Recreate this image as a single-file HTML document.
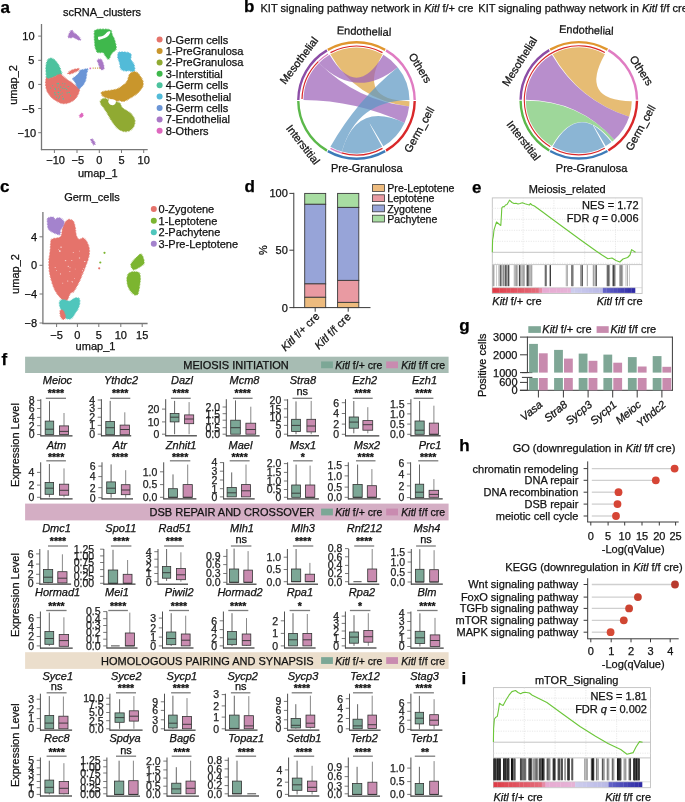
<!DOCTYPE html>
<html><head><meta charset="utf-8"><style>
html,body{margin:0;padding:0;background:#fff;}
svg{display:block;font-family:"Liberation Sans", sans-serif;will-change:transform;} text{stroke:currentColor;stroke-width:0.25px;}
</style></head><body>
<svg width="685" height="802" viewBox="0 0 685 802">
<rect width="685" height="802" fill="#fff"/>
<text x="0.5" y="12.6" font-size="17" text-anchor="start" fill="#000" font-weight="bold">a</text>
<text x="102.0" y="15.5" font-size="11" text-anchor="middle" fill="#1a1a1a">scRNA_clusters</text>
<line x1="41.5" y1="24.0" x2="41.5" y2="150.2" stroke="#777" stroke-width="1.3"/>
<line x1="40.9" y1="149.6" x2="147.7" y2="149.6" stroke="#777" stroke-width="1.3"/>
<line x1="38.2" y1="36.1" x2="41.5" y2="36.1" stroke="#777" stroke-width="1.0"/>
<text x="34.6" y="40.2" font-size="11" text-anchor="end" fill="#1a1a1a">10</text>
<line x1="38.2" y1="60.3" x2="41.5" y2="60.3" stroke="#777" stroke-width="1.0"/>
<text x="34.3" y="64.4" font-size="11" text-anchor="end" fill="#1a1a1a">5</text>
<line x1="38.2" y1="84.4" x2="41.5" y2="84.4" stroke="#777" stroke-width="1.0"/>
<text x="34.3" y="88.5" font-size="11" text-anchor="end" fill="#1a1a1a">0</text>
<line x1="38.2" y1="132.7" x2="41.5" y2="132.7" stroke="#777" stroke-width="1.0"/>
<text x="36.2" y="136.8" font-size="11" text-anchor="end" fill="#1a1a1a">−10</text>
<line x1="38.2" y1="108.5" x2="41.5" y2="108.5" stroke="#777" stroke-width="1.0"/>
<text x="34.5" y="112.6" font-size="11" text-anchor="end" fill="#1a1a1a">−5</text>
<line x1="54.4" y1="149.6" x2="54.4" y2="153.0" stroke="#777" stroke-width="1.0"/>
<text x="55.6" y="164.3" font-size="11" text-anchor="middle" fill="#1a1a1a">−10</text>
<line x1="77.0" y1="149.6" x2="77.0" y2="153.0" stroke="#777" stroke-width="1.0"/>
<text x="77.8" y="164.3" font-size="11" text-anchor="middle" fill="#1a1a1a">−5</text>
<line x1="99.3" y1="149.6" x2="99.3" y2="153.0" stroke="#777" stroke-width="1.0"/>
<text x="99.3" y="164.3" font-size="11" text-anchor="middle" fill="#1a1a1a">0</text>
<line x1="121.5" y1="149.6" x2="121.5" y2="153.0" stroke="#777" stroke-width="1.0"/>
<text x="121.5" y="164.3" font-size="11" text-anchor="middle" fill="#1a1a1a">5</text>
<line x1="143.7" y1="149.6" x2="143.7" y2="153.0" stroke="#777" stroke-width="1.0"/>
<text x="143.7" y="164.3" font-size="11" text-anchor="middle" fill="#1a1a1a">10</text>
<text x="97.8" y="176.9" font-size="11" text-anchor="middle" fill="#1a1a1a">umap_1</text>
<text x="17.2" y="85.0" font-size="11" text-anchor="middle" fill="#1a1a1a" transform="rotate(-90 17.2 85.0)">umap_2</text>
<path d="M46.6,62.9 C46.9,61.6 47.3,60.6 47.9,59.8 C48.5,59.1 49.3,58.5 50.1,58.3 C50.8,58.1 51.5,58.2 52.3,58.5 C53.1,58.8 54.0,59.5 54.9,60.3 C55.8,61.1 56.7,62.2 57.5,63.3 C58.3,64.5 59.1,65.9 59.7,67.3 C60.3,68.6 60.7,70.6 61.0,71.6 C61.4,72.7 62.0,72.9 61.9,73.4 C61.7,73.9 60.9,74.3 60.1,74.7 C59.4,75.1 58.5,75.2 57.5,75.6 C56.5,75.9 55.2,76.5 54.0,76.9 C52.8,77.3 51.5,77.8 50.5,78.2 C49.5,78.6 48.5,79.2 47.9,79.1 C47.2,79.0 46.9,78.9 46.6,77.8 C46.3,76.7 46.2,74.3 46.1,72.5 C46.0,70.8 45.9,68.9 46.0,67.3 C46.0,65.7 46.2,64.1 46.6,62.9Z" fill="#4CC29E" stroke="#4CC29E" stroke-width="1.4" stroke-dasharray="0.6 0.9" stroke-linecap="butt"/>
<path d="M46.1,78.2 C46.6,77.2 47.4,78.9 48.8,78.6 C50.1,78.4 52.1,77.6 54.0,76.9 C55.9,76.2 58.7,74.4 60.1,74.3 C61.6,74.1 61.7,75.2 62.8,76.0 C63.8,76.8 65.1,78.2 66.3,79.1 C67.4,80.0 68.6,80.5 69.8,81.3 C70.9,82.1 72.1,83.0 73.3,83.9 C74.4,84.8 75.8,85.7 76.8,86.5 C77.8,87.3 79.1,87.5 79.4,88.7 C79.7,89.9 79.1,92.0 78.5,93.5 C77.9,95.1 76.9,96.7 75.9,97.9 C74.9,99.1 73.6,100.2 72.4,101.0 C71.2,101.8 70.1,102.3 68.9,102.7 C67.7,103.2 66.7,103.5 65.4,103.6 C64.1,103.7 62.5,103.6 61.0,103.2 C59.6,102.7 58.1,101.8 56.6,101.0 C55.2,100.1 53.6,99.1 52.3,97.9 C50.9,96.7 49.7,95.3 48.8,94.0 C47.8,92.7 47.1,91.6 46.6,90.0 C46.1,88.5 45.8,86.7 45.7,84.8 C45.6,82.8 45.6,79.2 46.1,78.2Z" fill="#E5736B" stroke="#E5736B" stroke-width="1.4" stroke-dasharray="0.6 0.9" stroke-linecap="butt"/>
<path d="M72.8,78.6 C73.1,77.8 75.0,76.9 75.9,76.0 C76.9,75.1 77.8,74.3 78.5,73.4 C79.3,72.4 79.4,71.0 80.3,70.3 C81.2,69.7 82.5,69.7 83.8,69.4 C85.0,69.2 87.2,68.5 87.7,69.0 C88.2,69.5 87.1,71.3 86.8,72.5 C86.6,73.7 86.6,74.7 86.4,76.0 C86.2,77.3 86.0,79.1 85.5,80.4 C85.1,81.7 84.5,82.8 83.8,83.9 C83.1,85.0 81.9,86.2 81.2,87.0 C80.4,87.8 80.0,88.6 79.4,88.7 C78.8,88.8 78.2,88.2 77.7,87.4 C77.1,86.6 76.4,84.9 75.9,83.9 C75.4,82.9 75.1,82.1 74.6,81.3 C74.1,80.4 72.6,79.5 72.8,78.6Z" fill="#6B95D6" stroke="#6B95D6" stroke-width="1.4" stroke-dasharray="0.6 0.9" stroke-linecap="butt"/>
<path d="M68.0,73.4 C68.2,72.9 69.0,71.8 69.8,71.2 C70.5,70.6 71.4,70.3 72.4,69.9 C73.4,69.5 74.8,69.2 75.9,69.0 C77.0,68.8 78.5,68.4 79.0,68.6 C79.4,68.8 79.0,69.8 78.5,70.3 C78.0,70.8 76.6,71.3 75.9,71.6 C75.2,72.0 74.9,72.2 74.2,72.5 C73.4,72.8 72.4,73.1 71.5,73.4 C70.6,73.7 69.5,74.1 68.9,74.1 C68.3,74.1 67.9,73.9 68.0,73.4Z" fill="#E5736B" stroke="#E5736B" stroke-width="1.4" stroke-dasharray="0.6 0.9" stroke-linecap="butt"/>
<rect x="56.4" y="83.4" width="1.3" height="0.7" fill="#4CC29E"/>
<rect x="62.2" y="87.8" width="0.7" height="1.0" fill="#4CC29E"/>
<rect x="59.2" y="97.0" width="0.7" height="0.8" fill="#4CC29E"/>
<rect x="63.4" y="88.4" width="1.6" height="0.6" fill="#4CC29E"/>
<rect x="56.0" y="96.8" width="0.8" height="1.1" fill="#4CC29E"/>
<rect x="65.1" y="87.9" width="1.1" height="0.7" fill="#4CC29E"/>
<rect x="66.2" y="89.0" width="0.9" height="1.1" fill="#4CC29E"/>
<rect x="59.9" y="86.4" width="1.4" height="1.2" fill="#4CC29E"/>
<rect x="54.2" y="92.0" width="1.1" height="1.3" fill="#4CC29E"/>
<rect x="67.6" y="86.2" width="1.6" height="0.7" fill="#4CC29E"/>
<rect x="59.0" y="95.6" width="0.8" height="1.0" fill="#4CC29E"/>
<rect x="68.5" y="91.9" width="1.5" height="0.9" fill="#4CC29E"/>
<rect x="66.6" y="92.4" width="1.2" height="1.0" fill="#4CC29E"/>
<rect x="60.5" y="93.8" width="0.7" height="1.2" fill="#4CC29E"/>
<rect x="58.1" y="93.9" width="0.6" height="1.0" fill="#4CC29E"/>
<rect x="58.2" y="97.9" width="0.7" height="1.0" fill="#4CC29E"/>
<rect x="62.6" y="98.2" width="1.4" height="1.3" fill="#4CC29E"/>
<rect x="55.1" y="88.8" width="1.0" height="1.3" fill="#4CC29E"/>
<rect x="52.3" y="85.1" width="0.8" height="1.0" fill="#4CC29E"/>
<rect x="63.7" y="85.7" width="0.6" height="0.9" fill="#4CC29E"/>
<rect x="57.6" y="91.8" width="1.6" height="1.2" fill="#4CC29E"/>
<rect x="61.7" y="92.8" width="1.3" height="0.6" fill="#4CC29E"/>
<rect x="58.3" y="88.4" width="0.7" height="1.1" fill="#4CC29E"/>
<rect x="50.2" y="87.7" width="0.6" height="1.3" fill="#4CC29E"/>
<rect x="64.4" y="83.4" width="0.9" height="0.9" fill="#4CC29E"/>
<rect x="57.5" y="82.9" width="1.4" height="1.4" fill="#4CC29E"/>
<rect x="60.3" y="90.1" width="0.7" height="0.7" fill="#4CC29E"/>
<rect x="56.9" y="85.7" width="1.4" height="0.7" fill="#4CC29E"/>
<rect x="62.0" y="83.3" width="1.1" height="0.6" fill="#4CC29E"/>
<rect x="54.6" y="87.8" width="0.8" height="1.2" fill="#4CC29E"/>
<rect x="62.1" y="96.1" width="0.9" height="0.8" fill="#4CC29E"/>
<rect x="70.0" y="95.3" width="0.8" height="1.0" fill="#4CC29E"/>
<rect x="54.6" y="94.3" width="1.6" height="1.0" fill="#4CC29E"/>
<path d="M68.2,36.4 C68.4,35.2 70.3,31.0 71.3,30.4 C72.2,29.8 72.8,31.9 73.8,32.7 C74.9,33.6 76.4,34.3 77.6,35.5 C78.7,36.7 80.8,39.0 80.8,39.7 C80.9,40.4 79.2,40.1 78.0,39.7 C76.8,39.3 74.9,37.7 73.6,37.4 C72.3,37.1 71.0,38.0 70.1,37.9 C69.2,37.7 68.0,37.7 68.2,36.4Z" fill="#A978C6" stroke="#A978C6" stroke-width="1.4" stroke-dasharray="0.6 0.9" stroke-linecap="butt"/>
<path d="M94.8,30.8 C95.4,29.8 96.5,29.7 97.9,29.4 C99.3,29.2 101.4,29.2 103.1,29.2 C104.9,29.2 107.1,29.2 108.4,29.4 C109.7,29.7 110.4,29.8 111.0,30.8 C111.7,31.7 111.8,33.8 112.3,35.1 C112.8,36.4 113.6,37.3 114.1,38.6 C114.6,40.0 115.0,41.4 115.4,43.0 C115.8,44.6 116.4,47.0 116.3,48.3 C116.1,49.6 115.2,50.2 114.5,50.9 C113.9,51.6 113.0,51.9 112.3,52.6 C111.7,53.4 111.2,54.2 110.6,55.3 C110.0,56.4 109.4,58.8 108.8,59.2 C108.2,59.7 107.7,58.5 107.1,57.9 C106.5,57.3 106.0,56.6 105.3,55.7 C104.7,54.8 104.1,53.2 103.1,52.6 C102.2,52.1 100.6,52.7 99.6,52.6 C98.7,52.6 98.0,52.6 97.4,52.2 C96.9,51.8 96.5,51.0 96.1,50.0 C95.7,49.1 95.3,48.0 95.1,46.5 C94.8,45.1 94.7,43.2 94.6,41.3 C94.4,39.4 94.3,36.9 94.4,35.1 C94.4,33.4 94.2,31.7 94.8,30.8Z" fill="#3FB84C" stroke="#3FB84C" stroke-width="1.4" stroke-dasharray="0.6 0.9" stroke-linecap="butt"/>
<path d="M98.1,37.1 C98.3,36.5 99.7,36.7 100.5,36.5 C101.4,36.3 102.3,36.2 103.1,35.8 C103.9,35.4 104.7,34.7 105.3,34.1 C106.0,33.5 106.2,32.6 107.1,32.2 C107.9,31.7 109.9,31.1 110.3,31.5 C110.7,31.8 109.9,33.4 109.4,34.3 C109.0,35.1 108.2,35.9 107.5,36.4 C106.8,37.0 106.1,37.4 105.3,37.8 C104.6,38.1 103.9,38.4 103.1,38.6 C102.4,38.9 101.7,39.1 100.9,39.3 C100.2,39.5 99.2,40.2 98.8,39.9 C98.3,39.5 97.8,37.6 98.1,37.1Z" fill="#fff"/>
<path d="M98.3,37.9 C98.4,37.6 99.3,37.4 99.6,37.6 C100.0,37.8 100.4,38.8 100.3,39.1 C100.2,39.4 99.3,39.7 98.9,39.5 C98.6,39.3 98.2,38.3 98.3,37.9Z" fill="#fff"/>
<path d="M118.0,54.4 C118.2,53.5 118.0,52.6 118.9,52.2 C119.8,51.8 121.7,51.9 123.3,51.9 C124.9,52.0 127.2,52.2 128.5,52.6 C129.8,53.1 130.8,53.8 131.2,54.8 C131.5,55.9 130.6,57.7 130.7,58.8 C130.9,59.9 131.5,60.5 132.0,61.4 C132.5,62.3 133.3,62.9 133.8,64.0 C134.2,65.2 134.6,67.2 134.7,68.4 C134.7,69.6 134.7,70.5 134.2,71.0 C133.7,71.5 132.4,71.5 131.6,71.5 C130.8,71.4 130.2,70.7 129.4,70.6 C128.6,70.5 127.8,71.0 126.8,71.0 C125.8,71.0 124.3,71.0 123.3,70.6 C122.3,70.2 121.2,69.5 120.6,68.4 C120.1,67.3 120.1,65.3 119.8,64.0 C119.5,62.7 119.2,61.6 118.9,60.5 C118.6,59.5 118.0,58.9 117.8,57.9 C117.7,56.9 117.8,55.3 118.0,54.4Z" fill="#52BBD8" stroke="#52BBD8" stroke-width="1.4" stroke-dasharray="0.6 0.9" stroke-linecap="butt"/>
<path d="M97.4,60.5 C97.5,59.9 98.1,59.4 98.8,59.2 C99.4,59.1 100.7,59.1 101.4,59.7 C102.0,60.2 102.3,61.4 102.7,62.3 C103.1,63.2 103.4,63.9 103.6,64.9 C103.8,65.9 104.2,67.6 104.0,68.4 C103.8,69.2 102.9,69.7 102.3,69.7 C101.6,69.7 100.6,69.1 100.1,68.4 C99.6,67.8 99.5,66.7 99.2,65.8 C98.9,64.9 98.6,64.0 98.3,63.2 C98.0,62.3 97.4,61.2 97.4,60.5Z" fill="#A978C6" stroke="#A978C6" stroke-width="1.4" stroke-dasharray="0.6 0.9" stroke-linecap="butt"/>
<path d="M101.3,92.7 C101.5,92.0 102.6,91.7 103.4,91.4 C104.1,91.1 104.8,91.2 105.9,91.0 C107.0,90.8 108.5,90.6 110.1,90.4 C111.6,90.2 113.5,90.0 115.1,89.6 C116.6,89.2 118.0,88.6 119.2,87.9 C120.5,87.2 121.5,86.4 122.6,85.6 C123.7,84.8 125.0,84.2 125.9,83.1 C126.8,81.9 127.5,80.3 128.0,78.9 C128.6,77.5 128.7,75.7 129.3,74.7 C129.9,73.6 130.8,73.1 131.8,72.6 C132.8,72.1 134.0,71.6 135.1,71.8 C136.2,72.0 137.4,72.8 138.5,73.9 C139.5,74.9 140.6,76.6 141.4,78.0 C142.2,79.4 142.9,80.8 143.1,82.2 C143.3,83.6 143.1,85.1 142.7,86.4 C142.2,87.6 141.4,88.6 140.6,89.7 C139.7,90.9 138.7,92.1 137.6,93.1 C136.6,94.1 135.6,94.8 134.3,95.6 C133.0,96.4 131.5,97.3 130.1,98.1 C128.7,98.9 127.2,100.1 125.9,100.6 C124.7,101.2 123.7,101.4 122.6,101.4 C121.5,101.4 120.2,100.7 119.2,100.6 C118.3,100.5 117.6,101.2 116.7,101.0 C115.9,100.9 115.2,100.1 114.2,99.8 C113.3,99.4 112.0,99.2 110.9,98.9 C109.8,98.7 108.7,98.4 107.5,98.1 C106.4,97.8 105.1,97.3 104.2,96.8 C103.3,96.4 102.6,95.9 102.1,95.2 C101.6,94.5 101.1,93.3 101.3,92.7Z" fill="#C9962C" stroke="#C9962C" stroke-width="1.4" stroke-dasharray="0.6 0.9" stroke-linecap="butt"/>
<path d="M100.4,101.4 C100.6,100.7 101.1,99.8 101.7,99.4 C102.3,98.9 103.2,98.5 104.2,98.5 C105.2,98.5 106.6,98.9 107.5,99.4 C108.5,99.8 109.1,100.5 110.1,101.0 C111.0,101.5 112.3,102.1 113.4,102.3 C114.5,102.4 115.6,101.7 116.7,101.9 C117.9,102.1 119.2,102.6 120.1,103.5 C120.9,104.4 120.9,106.3 121.8,107.3 C122.6,108.3 123.8,109.0 125.1,109.8 C126.4,110.6 128.0,111.3 129.3,112.3 C130.5,113.3 131.7,114.4 132.6,115.7 C133.5,116.9 134.4,118.3 134.7,119.8 C135.0,121.4 134.8,123.3 134.3,124.9 C133.8,126.4 132.8,128.0 131.8,129.0 C130.8,130.1 129.7,130.7 128.4,131.1 C127.2,131.5 125.7,131.8 124.3,131.5 C122.9,131.3 121.3,130.6 120.1,129.9 C118.8,129.2 117.9,128.5 116.7,127.4 C115.6,126.2 114.5,124.7 113.4,123.2 C112.3,121.7 111.2,120.0 110.1,118.2 C108.9,116.4 107.8,114.1 106.7,112.3 C105.6,110.5 104.3,108.7 103.4,107.3 C102.4,105.9 101.3,104.9 100.9,104.0 C100.4,103.0 100.3,102.2 100.4,101.4Z" fill="#90AA32" stroke="#90AA32" stroke-width="1.4" stroke-dasharray="0.6 0.9" stroke-linecap="butt"/>
<path d="M108.4,100.6 C108.7,100.0 109.9,99.5 110.9,99.4 C111.9,99.2 113.4,99.4 114.2,99.8 C115.1,100.1 115.8,100.7 115.9,101.4 C116.0,102.1 115.6,103.3 115.1,104.0 C114.6,104.6 113.7,105.1 113.0,105.2 C112.2,105.3 111.2,105.1 110.5,104.8 C109.8,104.4 109.1,103.8 108.8,103.1 C108.4,102.4 108.0,101.2 108.4,100.6Z" fill="#fff"/>
<path d="M79.4,115.9 C79.6,115.1 81.2,113.2 81.8,113.1 C82.4,113.0 83.3,114.7 83.2,115.4 C83.0,116.2 81.5,117.4 80.8,117.5 C80.2,117.6 79.3,116.6 79.4,115.9Z" fill="#DE68BE" stroke="#DE68BE" stroke-width="1.4" stroke-dasharray="0.6 0.9" stroke-linecap="butt"/>
<path d="M90.9,140.0 C90.7,139.1 91.8,138.7 92.5,139.3 C93.2,139.8 94.9,142.6 95.1,143.5 C95.2,144.4 94.2,145.2 93.5,144.6 C92.8,144.0 91.0,140.8 90.9,140.0Z" fill="#A978C6" stroke="#A978C6" stroke-width="1.4" stroke-dasharray="0.6 0.9" stroke-linecap="butt"/>
<rect x="92.6" y="67.6" width="1.2" height="1" fill="#C9962C"/>
<rect x="94.8" y="67.6" width="1.2" height="1" fill="#C9962C"/>
<rect x="97.0" y="67.6" width="1.2" height="1" fill="#C9962C"/>
<rect x="99.2" y="67.6" width="1.2" height="1" fill="#C9962C"/>
<rect x="89.5" y="67.6" width="1.6" height="1.6" fill="#DE68BE"/>
<circle cx="159.6" cy="39.6" r="3" fill="#E5736B"/>
<text x="165.8" y="43.5" font-size="11" text-anchor="start" fill="#1a1a1a">0-Germ cells</text>
<circle cx="159.6" cy="51.0" r="3" fill="#C9962C"/>
<text x="165.8" y="54.9" font-size="11" text-anchor="start" fill="#1a1a1a">1-PreGranulosa</text>
<circle cx="159.6" cy="62.4" r="3" fill="#90AA32"/>
<text x="165.8" y="66.3" font-size="11" text-anchor="start" fill="#1a1a1a">2-PreGranulosa</text>
<circle cx="159.6" cy="73.8" r="3" fill="#3FB84C"/>
<text x="165.8" y="77.7" font-size="11" text-anchor="start" fill="#1a1a1a">3-Interstitial</text>
<circle cx="159.6" cy="85.2" r="3" fill="#4CC29E"/>
<text x="165.8" y="89.1" font-size="11" text-anchor="start" fill="#1a1a1a">4-Germ cells</text>
<circle cx="159.6" cy="96.6" r="3" fill="#52BBD8"/>
<text x="165.8" y="100.5" font-size="11" text-anchor="start" fill="#1a1a1a">5-Mesothelial</text>
<circle cx="159.6" cy="108.0" r="3" fill="#6B95D6"/>
<text x="165.8" y="111.9" font-size="11" text-anchor="start" fill="#1a1a1a">6-Germ cells</text>
<circle cx="159.6" cy="119.4" r="3" fill="#A978C6"/>
<text x="165.8" y="123.3" font-size="11" text-anchor="start" fill="#1a1a1a">7-Endothelial</text>
<circle cx="159.6" cy="130.8" r="3" fill="#DE68BE"/>
<text x="165.8" y="134.7" font-size="11" text-anchor="start" fill="#1a1a1a">8-Others</text>
<text x="244.0" y="12.3" font-size="17" text-anchor="start" fill="#000" font-weight="bold">b</text>
<text x="260.5" y="12.3" font-size="11" text-anchor="start" fill="#1a1a1a">KIT signaling pathway network in <tspan font-style="italic">Kitl</tspan> f/+ cre</text>
<text x="478.3" y="12.3" font-size="11" text-anchor="start" fill="#1a1a1a">KIT signaling pathway network in <tspan font-style="italic">Kitl</tspan> f/f cre</text>
<path d="M297.10,99.98 A59.4,59.4 0 0 1 326.35,49.32 L327.57,51.39 A57.0,57.0 0 0 0 299.50,100.00Z" fill="#8C4DA6"/>
<path d="M327.25,48.80 A59.4,59.4 0 0 1 385.75,48.80 L384.57,50.89 A57.0,57.0 0 0 0 328.43,50.89Z" fill="#E0962F"/>
<path d="M386.65,49.32 A59.4,59.4 0 0 1 415.90,99.98 L413.50,100.00 A57.0,57.0 0 0 0 385.43,51.39Z" fill="#E07CC2"/>
<path d="M415.90,101.02 A59.4,59.4 0 0 1 386.65,151.68 L385.43,149.61 A57.0,57.0 0 0 0 413.50,101.00Z" fill="#D9282A"/>
<path d="M385.75,152.20 A59.4,59.4 0 0 1 327.25,152.20 L328.43,150.11 A57.0,57.0 0 0 0 384.57,150.11Z" fill="#3D7BB8"/>
<path d="M326.35,151.68 A59.4,59.4 0 0 1 297.10,101.02 L299.50,101.00 A57.0,57.0 0 0 0 327.57,149.61Z" fill="#5BB84A"/>
<text x="363.9" y="35.0" font-size="11" text-anchor="middle" fill="#1a1a1a" transform="rotate(2 363.9 35.0)">Endothelial</text>
<text x="302.0" y="62.8" font-size="11" text-anchor="middle" fill="#1a1a1a" transform="rotate(-53 302.0 62.8)">Mesothelial</text>
<text x="417.0" y="70.0" font-size="11" text-anchor="middle" fill="#1a1a1a" transform="rotate(58 417.0 70.0)">Others</text>
<text x="422.5" y="131.5" font-size="11" text-anchor="middle" fill="#1a1a1a" transform="rotate(-61 422.5 131.5)">Germ_cell</text>
<text x="300.0" y="147.0" font-size="11" text-anchor="middle" fill="#1a1a1a" transform="rotate(52 300.0 147.0)">Interstitial</text>
<text x="366.8" y="172.4" font-size="11" text-anchor="middle" fill="#1a1a1a">Pre-Granulosa</text>
<path d="M301.42,99.06 A55.1,55.1 0 0 1 317.88,61.20 L318.72,62.06 A53.9,53.9 0 0 0 302.62,99.09Z" fill="#D9282A"/>
<path d="M317.88,61.20 A55.1,55.1 0 0 1 327.71,53.52 L328.34,54.54 A53.9,53.9 0 0 0 318.72,62.06Z" fill="#E07CC2"/>
<path d="M330.21,52.08 A55.1,55.1 0 0 1 382.79,52.08 L382.22,53.13 A53.9,53.9 0 0 0 330.78,53.13Z" fill="#D9282A"/>
<path d="M382.79,148.92 A55.1,55.1 0 0 1 341.31,153.47 L341.64,152.31 A53.9,53.9 0 0 0 382.22,147.87Z" fill="#D9282A"/>
<path d="M341.31,153.47 A55.1,55.1 0 0 1 330.21,148.92 L330.78,147.87 A53.9,53.9 0 0 0 341.64,152.31Z" fill="#E07CC2"/>
<path d="M330.40,54.37 A53.0,53.0 0 0 1 382.60,54.37 Q356.50,100.50 409.49,101.24 A53.0,53.0 0 0 1 409.16,106.50 Q356.50,100.50 330.40,54.37Z" fill="#DDA23F" fill-opacity="0.72"/>
<path d="M303.50,100.04 A53.0,53.0 0 0 1 319.02,63.02 Q356.50,100.50 409.16,106.50 A53.0,53.0 0 0 1 404.53,122.90 Q356.50,100.50 303.50,100.04Z" fill="#9C62B8" fill-opacity="0.72"/>
<path d="M319.02,63.02 A53.0,53.0 0 0 1 329.60,54.83 Q356.50,100.50 383.40,54.83 A53.0,53.0 0 0 1 397.69,67.15 Q356.50,100.50 319.02,63.02Z" fill="#9C62B8" fill-opacity="0.72"/>
<path d="M341.89,151.45 A53.0,53.0 0 0 1 330.40,146.63 Q356.50,100.50 397.69,67.15 A53.0,53.0 0 0 1 409.50,100.04 Q356.50,100.50 341.89,151.45Z" fill="#5E98C4" fill-opacity="0.72"/>
<path d="M382.19,146.85 A53.0,53.0 0 0 1 341.89,151.45 Q356.50,100.50 404.53,122.90 A53.0,53.0 0 0 1 383.40,146.17 Q356.50,100.50 382.19,146.85Z" fill="#5E98C4" fill-opacity="0.72"/>
<path d="M519.40,99.78 A59.4,59.4 0 0 1 548.65,49.12 L549.87,51.19 A57.0,57.0 0 0 0 521.80,99.80Z" fill="#8C4DA6"/>
<path d="M549.55,48.60 A59.4,59.4 0 0 1 608.05,48.60 L606.87,50.69 A57.0,57.0 0 0 0 550.73,50.69Z" fill="#E0962F"/>
<path d="M608.95,49.12 A59.4,59.4 0 0 1 638.20,99.78 L635.80,99.80 A57.0,57.0 0 0 0 607.73,51.19Z" fill="#E07CC2"/>
<path d="M638.20,100.82 A59.4,59.4 0 0 1 608.95,151.48 L607.73,149.41 A57.0,57.0 0 0 0 635.80,100.80Z" fill="#D9282A"/>
<path d="M608.05,152.00 A59.4,59.4 0 0 1 549.55,152.00 L550.73,149.91 A57.0,57.0 0 0 0 606.87,149.91Z" fill="#3D7BB8"/>
<path d="M548.65,151.48 A59.4,59.4 0 0 1 519.40,100.82 L521.80,100.80 A57.0,57.0 0 0 0 549.87,149.41Z" fill="#5BB84A"/>
<text x="586.2" y="33.8" font-size="11" text-anchor="middle" fill="#1a1a1a" transform="rotate(2 586.2 33.8)">Endothelial</text>
<text x="522.8" y="63.5" font-size="11" text-anchor="middle" fill="#1a1a1a" transform="rotate(-58 522.8 63.5)">Mesothelial</text>
<text x="638.3" y="72.5" font-size="11" text-anchor="middle" fill="#1a1a1a" transform="rotate(57 638.3 72.5)">Others</text>
<text x="643.8" y="129.5" font-size="11" text-anchor="middle" fill="#1a1a1a" transform="rotate(-61 643.8 129.5)">Germ_cell</text>
<text x="520.6" y="143.0" font-size="11" text-anchor="middle" fill="#1a1a1a" transform="rotate(52 520.6 143.0)">Interstitial</text>
<text x="591.6" y="172.4" font-size="11" text-anchor="middle" fill="#1a1a1a">Pre-Granulosa</text>
<path d="M550.01,147.28 A55.1,55.1 0 0 1 605.09,51.88 L604.52,52.93 A53.9,53.9 0 0 0 550.64,146.26Z" fill="#D9282A"/>
<path d="M605.09,148.72 A55.1,55.1 0 0 1 552.51,148.72 L553.08,147.67 A53.9,53.9 0 0 0 604.52,147.67Z" fill="#D9282A"/>
<path d="M552.70,54.17 A53.0,53.0 0 0 1 604.90,54.17 Q578.80,100.30 631.79,101.22 A53.0,53.0 0 0 1 629.21,116.68 Q578.80,100.30 552.70,54.17Z" fill="#DDA23F" fill-opacity="0.72"/>
<path d="M525.80,99.84 A53.0,53.0 0 0 1 551.90,54.63 Q578.80,100.30 629.21,116.68 A53.0,53.0 0 0 1 614.26,139.69 Q578.80,100.30 525.80,99.84Z" fill="#9C62B8" fill-opacity="0.72"/>
<path d="M551.90,145.97 A53.0,53.0 0 0 1 525.80,100.76 Q578.80,100.30 614.26,139.69 A53.0,53.0 0 0 1 612.15,141.49 Q578.80,100.30 551.90,145.97Z" fill="#79C873" fill-opacity="0.72"/>
<path d="M604.49,146.65 A53.0,53.0 0 0 1 552.70,146.43 Q578.80,100.30 611.43,142.06 A53.0,53.0 0 0 1 605.70,145.97 Q578.80,100.30 604.49,146.65Z" fill="#5E98C4" fill-opacity="0.72"/>
<text x="0.0" y="191.8" font-size="17" text-anchor="start" fill="#000" font-weight="bold">c</text>
<text x="92.0" y="201.0" font-size="11" text-anchor="middle" fill="#1a1a1a">Germ_cells</text>
<line x1="42.9" y1="211.9" x2="42.9" y2="324.1" stroke="#777" stroke-width="1.3"/>
<line x1="42.3" y1="323.5" x2="147.6" y2="323.5" stroke="#777" stroke-width="1.3"/>
<line x1="39.5" y1="236.8" x2="42.9" y2="236.8" stroke="#777" stroke-width="1.0"/>
<text x="37.0" y="240.7" font-size="11" text-anchor="end" fill="#1a1a1a">4</text>
<line x1="39.5" y1="265.3" x2="42.9" y2="265.3" stroke="#777" stroke-width="1.0"/>
<text x="37.0" y="269.2" font-size="11" text-anchor="end" fill="#1a1a1a">0</text>
<line x1="39.5" y1="294.0" x2="42.9" y2="294.0" stroke="#777" stroke-width="1.0"/>
<text x="37.0" y="297.9" font-size="11" text-anchor="end" fill="#1a1a1a">−4</text>
<line x1="39.5" y1="323.0" x2="42.9" y2="323.0" stroke="#777" stroke-width="1.0"/>
<text x="37.0" y="326.9" font-size="11" text-anchor="end" fill="#1a1a1a">−8</text>
<line x1="56.6" y1="323.5" x2="56.6" y2="327.0" stroke="#777" stroke-width="1.0"/>
<text x="56.6" y="338.6" font-size="11" text-anchor="middle" fill="#1a1a1a">−5</text>
<line x1="77.4" y1="323.5" x2="77.4" y2="327.0" stroke="#777" stroke-width="1.0"/>
<text x="77.4" y="338.6" font-size="11" text-anchor="middle" fill="#1a1a1a">0</text>
<line x1="98.8" y1="323.5" x2="98.8" y2="327.0" stroke="#777" stroke-width="1.0"/>
<text x="98.8" y="338.6" font-size="11" text-anchor="middle" fill="#1a1a1a">5</text>
<line x1="120.8" y1="323.5" x2="120.8" y2="327.0" stroke="#777" stroke-width="1.0"/>
<text x="120.8" y="338.6" font-size="11" text-anchor="middle" fill="#1a1a1a">10</text>
<line x1="142.2" y1="323.5" x2="142.2" y2="327.0" stroke="#777" stroke-width="1.0"/>
<text x="142.2" y="338.6" font-size="11" text-anchor="middle" fill="#1a1a1a">15</text>
<text x="95.5" y="349.5" font-size="11" text-anchor="middle" fill="#1a1a1a">umap_1</text>
<text x="18.6" y="274.0" font-size="11" text-anchor="middle" fill="#1a1a1a" transform="rotate(-90 18.6 274.0)">umap_2</text>
<path d="M62.6,228.5 C63.3,226.2 64.3,223.8 65.3,222.3 C66.3,220.8 67.5,219.8 68.7,219.5 C70.0,219.3 71.8,219.9 72.9,220.9 C73.9,221.9 74.4,223.3 74.9,225.7 C75.5,228.1 75.6,233.0 76.3,235.3 C77.0,237.6 77.9,239.0 79.0,239.4 C80.2,239.9 81.9,237.7 83.2,238.1 C84.4,238.4 85.6,239.7 86.6,241.5 C87.6,243.3 89.0,246.4 89.3,249.0 C89.7,251.7 89.2,254.5 88.6,257.3 C88.1,260.0 86.8,263.0 85.9,265.5 C85.0,268.0 84.1,270.1 83.2,272.4 C82.2,274.6 81.4,276.9 80.4,279.2 C79.4,281.5 78.1,284.0 77.0,286.1 C75.8,288.1 74.7,290.3 73.6,291.6 C72.4,292.8 71.1,292.2 70.1,293.6 C69.1,295.0 68.4,298.5 67.4,299.8 C66.3,301.0 65.2,301.6 63.9,301.2 C62.7,300.7 61.2,298.6 59.8,297.0 C58.5,295.4 57.0,293.8 55.7,291.6 C54.5,289.3 53.3,286.5 52.3,283.3 C51.3,280.1 50.1,276.0 49.5,272.4 C49.0,268.7 48.7,265.0 48.9,261.4 C49.0,257.7 49.9,253.8 50.2,250.4 C50.6,247.0 50.5,242.7 50.9,240.8 C51.4,238.9 51.9,239.2 53.0,238.7 C54.0,238.3 55.7,238.5 57.1,238.1 C58.5,237.6 60.3,237.6 61.2,236.0 C62.1,234.4 61.9,230.7 62.6,228.5Z" fill="#E5736B" stroke="#E5736B" stroke-width="1.4" stroke-dasharray="0.6 0.9" stroke-linecap="butt"/>
<path d="M47.5,218.9 C47.9,217.9 49.2,217.4 50.2,217.2 C51.3,217.0 52.9,217.1 53.7,217.5 C54.5,217.9 54.5,219.4 55.0,219.5 C55.6,219.7 56.2,218.4 57.1,218.2 C58.0,217.9 59.4,217.6 60.5,218.2 C61.7,218.7 63.5,220.3 63.9,221.6 C64.4,222.9 63.8,224.3 63.3,225.7 C62.7,227.1 61.1,228.3 60.5,229.8 C59.9,231.3 60.7,234.1 59.8,234.6 C58.9,235.2 56.5,233.8 55.0,233.3 C53.5,232.7 52.1,232.0 50.9,231.2 C49.8,230.4 48.7,229.8 48.2,228.5 C47.6,227.1 47.6,224.6 47.5,223.0 C47.4,221.4 47.0,219.8 47.5,218.9Z" fill="#A483CD" stroke="#A483CD" stroke-width="1.4" stroke-dasharray="0.6 0.9" stroke-linecap="butt"/>
<path d="M59.8,301.2 C60.5,300.0 62.3,299.8 63.9,299.8 C65.5,299.8 67.6,301.4 69.4,301.2 C71.3,300.9 73.3,298.6 74.9,298.1 C76.5,297.7 78.2,297.7 79.0,298.4 C79.8,299.2 79.8,300.9 79.7,302.5 C79.6,304.1 79.2,306.2 78.4,308.0 C77.6,309.9 76.1,311.8 74.9,313.5 C73.8,315.2 72.7,317.4 71.5,318.3 C70.2,319.2 68.6,319.1 67.4,318.7 C66.1,318.4 64.9,317.6 63.9,316.3 C63.0,314.9 62.6,312.4 61.9,310.8 C61.2,309.2 60.2,308.3 59.8,306.7 C59.5,305.0 59.1,302.3 59.8,301.2Z" fill="#4FC6BC" stroke="#4FC6BC" stroke-width="1.4" stroke-dasharray="0.6 0.9" stroke-linecap="butt"/>
<path d="M60.1,311.0 C60.4,310.0 61.8,309.7 62.6,310.1 C63.3,310.5 64.2,312.1 64.6,313.5 C65.1,314.9 65.7,317.3 65.3,318.3 C65.0,319.3 63.4,319.6 62.6,319.3 C61.8,318.9 60.9,317.6 60.5,316.3 C60.1,314.9 59.8,312.1 60.1,311.0Z" fill="#E5736B" stroke="#E5736B" stroke-width="1.4" stroke-dasharray="0.6 0.9" stroke-linecap="butt"/>
<rect x="67.7" y="265.9" width="1.2" height="0.8" fill="#fff" opacity="0.85"/>
<rect x="69.7" y="267.3" width="0.6" height="0.9" fill="#fff" opacity="0.85"/>
<rect x="74.1" y="278.0" width="0.6" height="0.7" fill="#fff" opacity="0.85"/>
<rect x="74.9" y="268.8" width="0.6" height="0.5" fill="#fff" opacity="0.85"/>
<rect x="58.4" y="249.3" width="0.5" height="0.8" fill="#fff" opacity="0.85"/>
<rect x="67.3" y="280.6" width="0.9" height="0.9" fill="#fff" opacity="0.85"/>
<rect x="69.4" y="271.2" width="0.9" height="0.7" fill="#fff" opacity="0.85"/>
<rect x="81.6" y="273.6" width="0.8" height="0.7" fill="#fff" opacity="0.85"/>
<rect x="78.9" y="257.6" width="1.2" height="0.8" fill="#fff" opacity="0.85"/>
<rect x="84.1" y="261.2" width="1.3" height="0.8" fill="#fff" opacity="0.85"/>
<rect x="79.4" y="250.8" width="0.6" height="0.7" fill="#fff" opacity="0.85"/>
<rect x="71.5" y="260.0" width="0.7" height="1.0" fill="#fff" opacity="0.85"/>
<rect x="56.3" y="270.2" width="0.6" height="0.8" fill="#fff" opacity="0.85"/>
<rect x="59.2" y="250.8" width="1.3" height="1.1" fill="#fff" opacity="0.85"/>
<rect x="62.4" y="282.8" width="0.7" height="0.8" fill="#fff" opacity="0.85"/>
<rect x="82.1" y="270.1" width="0.6" height="1.2" fill="#fff" opacity="0.85"/>
<rect x="59.2" y="250.2" width="1.1" height="0.7" fill="#fff" opacity="0.85"/>
<rect x="54.8" y="267.1" width="0.7" height="0.9" fill="#fff" opacity="0.85"/>
<rect x="64.9" y="260.3" width="1.3" height="0.8" fill="#fff" opacity="0.85"/>
<rect x="72.1" y="281.9" width="0.6" height="0.6" fill="#fff" opacity="0.85"/>
<rect x="60.5" y="246.6" width="1.1" height="1.2" fill="#fff" opacity="0.85"/>
<rect x="83.1" y="268.2" width="0.8" height="0.6" fill="#fff" opacity="0.85"/>
<rect x="60.1" y="273.4" width="0.7" height="1.1" fill="#fff" opacity="0.85"/>
<rect x="72.9" y="252.0" width="0.6" height="1.0" fill="#fff" opacity="0.85"/>
<rect x="71.6" y="281.1" width="1.0" height="0.7" fill="#fff" opacity="0.85"/>
<path d="M130.9,265.0 C130.9,263.6 131.9,262.5 133.1,261.0 C134.3,259.6 136.7,257.2 138.1,256.1 C139.4,254.9 140.1,253.7 141.0,254.1 C142.0,254.5 143.0,257.0 143.5,258.6 C144.0,260.1 144.4,262.3 144.0,263.5 C143.6,264.8 142.2,265.2 141.0,266.0 C139.9,266.8 138.4,267.9 137.1,268.5 C135.7,269.1 134.1,270.1 133.1,269.5 C132.1,268.9 130.9,266.4 130.9,265.0Z" fill="#7CB530" stroke="#7CB530" stroke-width="1.4" stroke-dasharray="0.6 0.9" stroke-linecap="butt"/>
<path d="M127.9,274.9 C128.6,273.7 129.1,272.6 130.9,272.2 C132.6,271.8 137.0,271.6 138.6,272.5 C140.1,273.3 140.1,275.2 140.3,277.4 C140.5,279.7 140.0,283.0 139.6,285.9 C139.1,288.7 138.6,293.0 137.6,294.3 C136.5,295.6 134.6,295.0 133.1,293.8 C131.6,292.6 129.4,289.7 128.4,287.3 C127.4,285.0 127.0,282.0 126.9,279.9 C126.8,277.8 127.2,276.2 127.9,274.9Z" fill="#7CB530" stroke="#7CB530" stroke-width="1.4" stroke-dasharray="0.6 0.9" stroke-linecap="butt"/>
<circle cx="104.5" cy="252.8" r="1.1" fill="#7CB530"/>
<circle cx="100.3" cy="262.5" r="1.1" fill="#7CB530"/>
<circle cx="99.2" cy="268.3" r="1.1" fill="#E5736B"/>
<circle cx="77" cy="263.5" r="1.1" fill="#E5736B"/>
<circle cx="153.8" cy="209.1" r="3" fill="#E5736B"/>
<text x="158.6" y="213.0" font-size="11" text-anchor="start" fill="#1a1a1a">0-Zygotene</text>
<circle cx="153.8" cy="220.7" r="3" fill="#7CB530"/>
<text x="158.6" y="224.6" font-size="11" text-anchor="start" fill="#1a1a1a">1-Leptotene</text>
<circle cx="153.8" cy="232.2" r="3" fill="#4FC6BC"/>
<text x="158.6" y="236.1" font-size="11" text-anchor="start" fill="#1a1a1a">2-Pachytene</text>
<circle cx="153.8" cy="243.8" r="3" fill="#A483CD"/>
<text x="158.6" y="247.7" font-size="11" text-anchor="start" fill="#1a1a1a">3-Pre-Leptotene</text>
<text x="244.5" y="192.3" font-size="17" text-anchor="start" fill="#000" font-weight="bold">d</text>
<line x1="293.8" y1="192.8" x2="293.8" y2="308.1" stroke="#3a3a3a" stroke-width="1"/>
<line x1="293.3" y1="307.6" x2="370.5" y2="307.6" stroke="#3a3a3a" stroke-width="1"/>
<line x1="289.4" y1="193.4" x2="293.8" y2="193.4" stroke="#3a3a3a" stroke-width="1"/>
<text x="287.8" y="197.3" font-size="11" text-anchor="end" fill="#1a1a1a">100</text>
<line x1="289.4" y1="250.2" x2="293.8" y2="250.2" stroke="#3a3a3a" stroke-width="1"/>
<text x="287.8" y="254.1" font-size="11" text-anchor="end" fill="#1a1a1a">50</text>
<line x1="289.4" y1="307.6" x2="293.8" y2="307.6" stroke="#3a3a3a" stroke-width="1"/>
<text x="287.8" y="311.5" font-size="11" text-anchor="end" fill="#1a1a1a">0</text>
<text x="267.3" y="250.2" font-size="11" text-anchor="middle" fill="#1a1a1a" transform="rotate(-90 267.3 250.2)">%</text>
<rect x="304.70" y="193.40" width="21.00" height="10.90" fill="#A8DDA2" stroke="#3a3a3a" stroke-width="0.9"/>
<rect x="304.70" y="204.30" width="21.00" height="79.60" fill="#97A4D8" stroke="#3a3a3a" stroke-width="0.9"/>
<rect x="304.70" y="283.90" width="21.00" height="13.40" fill="#E99AA2" stroke="#3a3a3a" stroke-width="0.9"/>
<rect x="304.70" y="297.30" width="21.00" height="10.30" fill="#EDBB7E" stroke="#3a3a3a" stroke-width="0.9"/>
<rect x="337.60" y="193.40" width="21.20" height="14.00" fill="#A8DDA2" stroke="#3a3a3a" stroke-width="0.9"/>
<rect x="337.60" y="207.40" width="21.20" height="73.00" fill="#97A4D8" stroke="#3a3a3a" stroke-width="0.9"/>
<rect x="337.60" y="280.40" width="21.20" height="22.00" fill="#E99AA2" stroke="#3a3a3a" stroke-width="0.9"/>
<rect x="337.60" y="302.40" width="21.20" height="5.20" fill="#EDBB7E" stroke="#3a3a3a" stroke-width="0.9"/>
<line x1="315.2" y1="307.6" x2="315.2" y2="311.7" stroke="#3a3a3a" stroke-width="1"/>
<line x1="348.2" y1="307.6" x2="348.2" y2="311.7" stroke="#3a3a3a" stroke-width="1"/>
<text x="320.3" y="317.0" font-size="11" text-anchor="end" fill="#1a1a1a" transform="rotate(-45 320.3 317.0)"><tspan font-style="italic">Kitl</tspan> f/+ cre</text>
<text x="351.5" y="317.5" font-size="11" text-anchor="end" fill="#1a1a1a" transform="rotate(-45 351.5 317.5)"><tspan font-style="italic">Kitl</tspan> f/f cre</text>
<rect x="372.50" y="184.60" width="12.00" height="6.80" fill="#EDBB7E" stroke="#3a3a3a" stroke-width="0.8"/>
<text x="387.3" y="192.1" font-size="10.6" text-anchor="start" fill="#1a1a1a">Pre-Leptotene</text>
<rect x="372.50" y="194.80" width="12.00" height="6.80" fill="#E99AA2" stroke="#3a3a3a" stroke-width="0.8"/>
<text x="387.3" y="202.3" font-size="10.6" text-anchor="start" fill="#1a1a1a">Leptotene</text>
<rect x="372.50" y="205.00" width="12.00" height="6.80" fill="#97A4D8" stroke="#3a3a3a" stroke-width="0.8"/>
<text x="387.3" y="212.5" font-size="10.6" text-anchor="start" fill="#1a1a1a">Zygotene</text>
<rect x="372.50" y="215.20" width="12.00" height="6.80" fill="#A8DDA2" stroke="#3a3a3a" stroke-width="0.8"/>
<text x="387.3" y="222.7" font-size="10.6" text-anchor="start" fill="#1a1a1a">Pachytene</text>
<text x="472.0" y="192.6" font-size="17" text-anchor="start" fill="#000" font-weight="bold">e</text>
<rect x="492.3" y="197.9" width="149.8" height="95.6" fill="#fff" stroke="#c0c0c0" stroke-width="0.9"/>
<line x1="523.1" y1="197.9" x2="523.1" y2="264.6" stroke="#e2e2e2" stroke-width="0.8" stroke-dasharray="1.2,1.2"/>
<line x1="553.9" y1="197.9" x2="553.9" y2="264.6" stroke="#e2e2e2" stroke-width="0.8" stroke-dasharray="1.2,1.2"/>
<line x1="584.7" y1="197.9" x2="584.7" y2="264.6" stroke="#e2e2e2" stroke-width="0.8" stroke-dasharray="1.2,1.2"/>
<line x1="615.5" y1="197.9" x2="615.5" y2="264.6" stroke="#e2e2e2" stroke-width="0.8" stroke-dasharray="1.2,1.2"/>
<line x1="492.3" y1="241.3" x2="642.1" y2="241.3" stroke="#e2e2e2" stroke-width="0.8" stroke-dasharray="1.2,1.2"/>
<line x1="492.3" y1="230.3" x2="642.1" y2="230.3" stroke="#e2e2e2" stroke-width="0.8" stroke-dasharray="1.2,1.2"/>
<line x1="492.3" y1="219.3" x2="642.1" y2="219.3" stroke="#e2e2e2" stroke-width="0.8" stroke-dasharray="1.2,1.2"/>
<line x1="492.3" y1="208.3" x2="642.1" y2="208.3" stroke="#e2e2e2" stroke-width="0.8" stroke-dasharray="1.2,1.2"/>
<line x1="492.3" y1="263.3" x2="642.1" y2="263.3" stroke="#e2e2e2" stroke-width="0.8" stroke-dasharray="1.2,1.2"/>
<line x1="492.3" y1="252.3" x2="642.1" y2="252.3" stroke="#bdbdbd" stroke-width="0.9"/>
<line x1="492.3" y1="264.6" x2="642.1" y2="264.6" stroke="#b8b8b8" stroke-width="0.8"/>
<line x1="492.9" y1="265.1" x2="492.9" y2="286.2" stroke="#bbb" stroke-width="0.95"/>
<line x1="494.0" y1="265.1" x2="494.0" y2="286.2" stroke="#aaa" stroke-width="0.95"/>
<line x1="498.5" y1="265.1" x2="498.5" y2="286.2" stroke="#ccc" stroke-width="0.95"/>
<line x1="501.1" y1="265.1" x2="501.1" y2="286.2" stroke="#999" stroke-width="0.95"/>
<line x1="504.6" y1="265.1" x2="504.6" y2="286.2" stroke="#aaa" stroke-width="0.95"/>
<line x1="506.3" y1="265.1" x2="506.3" y2="286.2" stroke="#888" stroke-width="0.95"/>
<line x1="509.3" y1="265.1" x2="509.3" y2="286.2" stroke="#aaa" stroke-width="0.95"/>
<line x1="514.2" y1="265.1" x2="514.2" y2="286.2" stroke="#bbb" stroke-width="0.95"/>
<line x1="517.5" y1="265.1" x2="517.5" y2="286.2" stroke="#bbb" stroke-width="0.95"/>
<line x1="520.5" y1="265.1" x2="520.5" y2="286.2" stroke="#999" stroke-width="0.95"/>
<line x1="524.4" y1="265.1" x2="524.4" y2="286.2" stroke="#aaa" stroke-width="0.95"/>
<line x1="526.6" y1="265.1" x2="526.6" y2="286.2" stroke="#aaa" stroke-width="0.95"/>
<line x1="529.8" y1="265.1" x2="529.8" y2="286.2" stroke="#aaa" stroke-width="0.95"/>
<line x1="544.8" y1="265.1" x2="544.8" y2="286.2" stroke="#bbb" stroke-width="0.95"/>
<line x1="549.6" y1="265.1" x2="549.6" y2="286.2" stroke="#aaa" stroke-width="0.95"/>
<line x1="566.2" y1="265.1" x2="566.2" y2="286.2" stroke="#bbb" stroke-width="0.95"/>
<line x1="572.4" y1="265.1" x2="572.4" y2="286.2" stroke="#999" stroke-width="0.95"/>
<line x1="581.6" y1="265.1" x2="581.6" y2="286.2" stroke="#999" stroke-width="0.95"/>
<line x1="594.3" y1="265.1" x2="594.3" y2="286.2" stroke="#bbb" stroke-width="0.95"/>
<line x1="595.4" y1="265.1" x2="595.4" y2="286.2" stroke="#aaa" stroke-width="0.95"/>
<line x1="606.9" y1="265.1" x2="606.9" y2="286.2" stroke="#aaa" stroke-width="0.95"/>
<line x1="609.6" y1="265.1" x2="609.6" y2="286.2" stroke="#999" stroke-width="0.95"/>
<line x1="612.6" y1="265.1" x2="612.6" y2="286.2" stroke="#999" stroke-width="0.95"/>
<line x1="615.3" y1="265.1" x2="615.3" y2="286.2" stroke="#aaa" stroke-width="0.95"/>
<line x1="619.6" y1="265.1" x2="619.6" y2="286.2" stroke="#aaa" stroke-width="0.95"/>
<line x1="622.6" y1="265.1" x2="622.6" y2="286.2" stroke="#aaa" stroke-width="0.95"/>
<line x1="493.3" y1="265.1" x2="493.3" y2="286.2" stroke="#999" stroke-width="0.95"/>
<line x1="496.5" y1="265.1" x2="496.5" y2="286.2" stroke="#ccc" stroke-width="0.95"/>
<line x1="500.2" y1="265.1" x2="500.2" y2="286.2" stroke="#222" stroke-width="0.95"/>
<line x1="502.0" y1="265.1" x2="502.0" y2="286.2" stroke="#777" stroke-width="0.95"/>
<line x1="503.5" y1="265.1" x2="503.5" y2="286.2" stroke="#888" stroke-width="0.95"/>
<line x1="505.6" y1="265.1" x2="505.6" y2="286.2" stroke="#444" stroke-width="0.95"/>
<line x1="507.0" y1="265.1" x2="507.0" y2="286.2" stroke="#666" stroke-width="0.95"/>
<line x1="508.4" y1="265.1" x2="508.4" y2="286.2" stroke="#333" stroke-width="0.95"/>
<line x1="515.2" y1="265.1" x2="515.2" y2="286.2" stroke="#888" stroke-width="0.95"/>
<line x1="516.5" y1="265.1" x2="516.5" y2="286.2" stroke="#999" stroke-width="0.95"/>
<line x1="519.4" y1="265.1" x2="519.4" y2="286.2" stroke="#222" stroke-width="0.95"/>
<line x1="522.0" y1="265.1" x2="522.0" y2="286.2" stroke="#777" stroke-width="0.95"/>
<line x1="523.3" y1="265.1" x2="523.3" y2="286.2" stroke="#888" stroke-width="0.95"/>
<line x1="527.6" y1="265.1" x2="527.6" y2="286.2" stroke="#333" stroke-width="0.95"/>
<line x1="528.7" y1="265.1" x2="528.7" y2="286.2" stroke="#555" stroke-width="0.95"/>
<line x1="531.0" y1="265.1" x2="531.0" y2="286.2" stroke="#888" stroke-width="0.95"/>
<line x1="531.8" y1="265.1" x2="531.8" y2="286.2" stroke="#999" stroke-width="0.95"/>
<line x1="545.6" y1="265.1" x2="545.6" y2="286.2" stroke="#555" stroke-width="0.95"/>
<line x1="546.4" y1="265.1" x2="546.4" y2="286.2" stroke="#777" stroke-width="0.95"/>
<line x1="550.5" y1="265.1" x2="550.5" y2="286.2" stroke="#333" stroke-width="0.95"/>
<line x1="567.2" y1="265.1" x2="567.2" y2="286.2" stroke="#888" stroke-width="0.95"/>
<line x1="571.8" y1="265.1" x2="571.8" y2="286.2" stroke="#444" stroke-width="0.95"/>
<line x1="573.0" y1="265.1" x2="573.0" y2="286.2" stroke="#666" stroke-width="0.95"/>
<line x1="580.8" y1="265.1" x2="580.8" y2="286.2" stroke="#777" stroke-width="0.95"/>
<line x1="582.4" y1="265.1" x2="582.4" y2="286.2" stroke="#444" stroke-width="0.95"/>
<line x1="587.3" y1="265.1" x2="587.3" y2="286.2" stroke="#999" stroke-width="0.95"/>
<line x1="593.3" y1="265.1" x2="593.3" y2="286.2" stroke="#888" stroke-width="0.95"/>
<line x1="596.3" y1="265.1" x2="596.3" y2="286.2" stroke="#333" stroke-width="0.95"/>
<line x1="607.8" y1="265.1" x2="607.8" y2="286.2" stroke="#333" stroke-width="0.95"/>
<line x1="608.6" y1="265.1" x2="608.6" y2="286.2" stroke="#555" stroke-width="0.95"/>
<line x1="613.6" y1="265.1" x2="613.6" y2="286.2" stroke="#222" stroke-width="0.95"/>
<line x1="614.3" y1="265.1" x2="614.3" y2="286.2" stroke="#555" stroke-width="0.95"/>
<line x1="620.5" y1="265.1" x2="620.5" y2="286.2" stroke="#888" stroke-width="0.95"/>
<line x1="621.6" y1="265.1" x2="621.6" y2="286.2" stroke="#777" stroke-width="0.95"/>
<line x1="626.0" y1="265.1" x2="626.0" y2="286.2" stroke="#bbb" stroke-width="0.95"/>
<line x1="627.5" y1="265.1" x2="627.5" y2="286.2" stroke="#aaa" stroke-width="0.95"/>
<line x1="629.5" y1="265.1" x2="629.5" y2="286.2" stroke="#ccc" stroke-width="0.95"/>
<rect x="492.30" y="287.70" width="3.87" height="5.20" fill="#de3d48"/>
<rect x="495.87" y="287.70" width="3.87" height="5.20" fill="#de414c"/>
<rect x="499.44" y="287.70" width="3.87" height="5.20" fill="#df4550"/>
<rect x="503.00" y="287.70" width="3.87" height="5.20" fill="#df4954"/>
<rect x="506.57" y="287.70" width="3.87" height="5.20" fill="#e04d58"/>
<rect x="510.14" y="287.70" width="3.87" height="5.20" fill="#e0505c"/>
<rect x="513.71" y="287.70" width="3.87" height="5.20" fill="#e05461"/>
<rect x="517.27" y="287.70" width="3.87" height="5.20" fill="#e15865"/>
<rect x="520.84" y="287.70" width="3.87" height="5.20" fill="#e15c69"/>
<rect x="524.41" y="287.70" width="3.87" height="5.20" fill="#e25f6d"/>
<rect x="527.98" y="287.70" width="3.87" height="5.20" fill="#e26371"/>
<rect x="531.54" y="287.70" width="3.87" height="5.20" fill="#e36775"/>
<rect x="535.11" y="287.70" width="3.87" height="5.20" fill="#e36b7a"/>
<rect x="538.68" y="287.70" width="3.87" height="5.20" fill="#e68ca7"/>
<rect x="542.25" y="287.70" width="3.87" height="5.20" fill="#e7aad2"/>
<rect x="545.81" y="287.70" width="3.87" height="5.20" fill="#e7acd3"/>
<rect x="549.38" y="287.70" width="3.87" height="5.20" fill="#e7add3"/>
<rect x="552.95" y="287.70" width="3.87" height="5.20" fill="#e7aed4"/>
<rect x="556.51" y="287.70" width="3.87" height="5.20" fill="#e6afd4"/>
<rect x="560.08" y="287.70" width="3.87" height="5.20" fill="#e6b0d5"/>
<rect x="563.65" y="287.70" width="3.87" height="5.20" fill="#e6b2d6"/>
<rect x="567.22" y="287.70" width="3.87" height="5.20" fill="#e6b3d6"/>
<rect x="570.78" y="287.70" width="3.87" height="5.20" fill="#cccced"/>
<rect x="574.35" y="287.70" width="3.87" height="5.20" fill="#cacaec"/>
<rect x="577.92" y="287.70" width="3.87" height="5.20" fill="#c8c8ec"/>
<rect x="581.49" y="287.70" width="3.87" height="5.20" fill="#c5c5eb"/>
<rect x="585.06" y="287.70" width="3.87" height="5.20" fill="#c3c3ea"/>
<rect x="588.62" y="287.70" width="3.87" height="5.20" fill="#c0c0e9"/>
<rect x="592.19" y="287.70" width="3.87" height="5.20" fill="#bebee8"/>
<rect x="595.76" y="287.70" width="3.87" height="5.20" fill="#bcbce7"/>
<rect x="599.33" y="287.70" width="3.87" height="5.20" fill="#b9b9e6"/>
<rect x="602.89" y="287.70" width="3.87" height="5.20" fill="#6261c6"/>
<rect x="606.46" y="287.70" width="3.87" height="5.20" fill="#5b5bc2"/>
<rect x="610.03" y="287.70" width="3.87" height="5.20" fill="#5554be"/>
<rect x="613.60" y="287.70" width="3.87" height="5.20" fill="#4f4dba"/>
<rect x="617.16" y="287.70" width="3.87" height="5.20" fill="#4946b6"/>
<rect x="620.73" y="287.70" width="3.87" height="5.20" fill="#423fb2"/>
<rect x="624.30" y="287.70" width="3.87" height="5.20" fill="#3c39ae"/>
<rect x="627.87" y="287.70" width="3.87" height="5.20" fill="#3632aa"/>
<rect x="631.43" y="287.70" width="3.87" height="5.20" fill="#302ba6"/>
<line x1="492.3" y1="287.7" x2="642.1" y2="287.7" stroke="#c8c8c8" stroke-width="0.6"/>
<path d="M492.3,252.3 L492.6,240.0 L493.3,236.5 L494.0,230.0 L494.8,227.3 L496.5,222.0 L499.5,224.5 L500.8,225.5 L501.5,214.0 L501.8,207.8 L503.0,206.5 L504.0,207.0 L505.5,205.0 L507.0,204.5 L508.5,202.0 L509.5,200.2 L512.0,202.5 L514.0,203.5 L516.0,203.2 L518.0,204.0 L520.0,203.5 L522.3,202.7 L525.0,203.8 L527.5,204.5 L529.5,205.0 L530.3,203.5 L532.0,205.0 L534.4,206.0 L543.0,212.3 L550.0,217.5 L565.0,228.5 L580.0,239.5 L596.1,251.0 L602.0,255.0 L607.9,258.8 L612.0,258.0 L616.0,260.5 L619.8,262.0 L623.0,259.0 L627.6,257.5 L630.0,255.0 L631.6,249.6 L635.5,252.3" fill="none" stroke="#6CC63A" stroke-width="1.1" stroke-linejoin="round"/>
<text x="567.2" y="193.2" font-size="11" text-anchor="middle" fill="#1a1a1a">Meiosis_related</text>
<text x="638.6" y="209.0" font-size="11" text-anchor="end" fill="#1a1a1a">NES = 1.72</text>
<text x="638.6" y="222.0" font-size="11" text-anchor="end" fill="#1a1a1a">FDR <tspan font-style="italic">q</tspan> = 0.006</text>
<text x="492.3" y="305.4" font-size="11" text-anchor="start" fill="#1a1a1a"><tspan font-style="italic">Kitl</tspan> f/+ cre</text>
<text x="642.6" y="305.4" font-size="11" text-anchor="end" fill="#1a1a1a"><tspan font-style="italic">Kitl</tspan> f/f cre</text>
<text x="461.6" y="684.3" font-size="17" text-anchor="start" fill="#000" font-weight="bold">i</text>
<rect x="493.5" y="687.6" width="157.0" height="100.10000000000002" fill="#fff" stroke="#c0c0c0" stroke-width="0.9"/>
<line x1="524.3" y1="687.6" x2="524.3" y2="757.9" stroke="#e2e2e2" stroke-width="0.8" stroke-dasharray="1.2,1.2"/>
<line x1="555.1" y1="687.6" x2="555.1" y2="757.9" stroke="#e2e2e2" stroke-width="0.8" stroke-dasharray="1.2,1.2"/>
<line x1="585.9" y1="687.6" x2="585.9" y2="757.9" stroke="#e2e2e2" stroke-width="0.8" stroke-dasharray="1.2,1.2"/>
<line x1="616.7" y1="687.6" x2="616.7" y2="757.9" stroke="#e2e2e2" stroke-width="0.8" stroke-dasharray="1.2,1.2"/>
<line x1="493.5" y1="731.2" x2="650.5" y2="731.2" stroke="#e2e2e2" stroke-width="0.8" stroke-dasharray="1.2,1.2"/>
<line x1="493.5" y1="720.2" x2="650.5" y2="720.2" stroke="#e2e2e2" stroke-width="0.8" stroke-dasharray="1.2,1.2"/>
<line x1="493.5" y1="709.2" x2="650.5" y2="709.2" stroke="#e2e2e2" stroke-width="0.8" stroke-dasharray="1.2,1.2"/>
<line x1="493.5" y1="698.2" x2="650.5" y2="698.2" stroke="#e2e2e2" stroke-width="0.8" stroke-dasharray="1.2,1.2"/>
<line x1="493.5" y1="753.2" x2="650.5" y2="753.2" stroke="#e2e2e2" stroke-width="0.8" stroke-dasharray="1.2,1.2"/>
<line x1="493.5" y1="742.2" x2="650.5" y2="742.2" stroke="#bdbdbd" stroke-width="0.9"/>
<line x1="493.5" y1="757.9" x2="650.5" y2="757.9" stroke="#b8b8b8" stroke-width="0.8"/>
<line x1="493.9" y1="758.4" x2="493.9" y2="780.3" stroke="#111" stroke-width="1.1"/>
<line x1="494.5" y1="758.4" x2="494.5" y2="780.3" stroke="#333" stroke-width="1.1"/>
<line x1="495.3" y1="758.4" x2="495.3" y2="780.3" stroke="#222" stroke-width="1.1"/>
<line x1="496.0" y1="758.4" x2="496.0" y2="780.3" stroke="#222" stroke-width="1.1"/>
<line x1="497.0" y1="758.4" x2="497.0" y2="780.3" stroke="#333" stroke-width="1.1"/>
<line x1="497.6" y1="758.4" x2="497.6" y2="780.3" stroke="#222" stroke-width="1.1"/>
<line x1="498.3" y1="758.4" x2="498.3" y2="780.3" stroke="#111" stroke-width="1.1"/>
<line x1="499.0" y1="758.4" x2="499.0" y2="780.3" stroke="#333" stroke-width="1.1"/>
<line x1="499.8" y1="758.4" x2="499.8" y2="780.3" stroke="#111" stroke-width="1.1"/>
<line x1="500.2" y1="758.4" x2="500.2" y2="780.3" stroke="#111" stroke-width="1.1"/>
<line x1="503.6" y1="758.4" x2="503.6" y2="780.3" stroke="#333" stroke-width="1.1"/>
<line x1="504.1" y1="758.4" x2="504.1" y2="780.3" stroke="#111" stroke-width="1.1"/>
<line x1="504.6" y1="758.4" x2="504.6" y2="780.3" stroke="#333" stroke-width="1.1"/>
<line x1="505.5" y1="758.4" x2="505.5" y2="780.3" stroke="#222" stroke-width="1.1"/>
<line x1="506.1" y1="758.4" x2="506.1" y2="780.3" stroke="#333" stroke-width="1.1"/>
<line x1="506.5" y1="758.4" x2="506.5" y2="780.3" stroke="#555" stroke-width="1.1"/>
<line x1="507.4" y1="758.4" x2="507.4" y2="780.3" stroke="#555" stroke-width="1.1"/>
<line x1="508.0" y1="758.4" x2="508.0" y2="780.3" stroke="#111" stroke-width="1.1"/>
<line x1="508.5" y1="758.4" x2="508.5" y2="780.3" stroke="#111" stroke-width="1.1"/>
<line x1="509.0" y1="758.4" x2="509.0" y2="780.3" stroke="#555" stroke-width="1.1"/>
<line x1="511.5" y1="758.4" x2="511.5" y2="780.3" stroke="#111" stroke-width="1.1"/>
<line x1="512.3" y1="758.4" x2="512.3" y2="780.3" stroke="#111" stroke-width="1.1"/>
<line x1="512.7" y1="758.4" x2="512.7" y2="780.3" stroke="#111" stroke-width="1.1"/>
<line x1="513.8" y1="758.4" x2="513.8" y2="780.3" stroke="#555" stroke-width="1.1"/>
<line x1="514.4" y1="758.4" x2="514.4" y2="780.3" stroke="#555" stroke-width="1.1"/>
<line x1="515.1" y1="758.4" x2="515.1" y2="780.3" stroke="#555" stroke-width="1.1"/>
<line x1="520.5" y1="758.4" x2="520.5" y2="780.3" stroke="#444" stroke-width="1.1"/>
<line x1="521.2" y1="758.4" x2="521.2" y2="780.3" stroke="#444" stroke-width="1.1"/>
<line x1="521.9" y1="758.4" x2="521.9" y2="780.3" stroke="#444" stroke-width="1.1"/>
<line x1="522.7" y1="758.4" x2="522.7" y2="780.3" stroke="#666" stroke-width="1.1"/>
<line x1="523.7" y1="758.4" x2="523.7" y2="780.3" stroke="#444" stroke-width="1.1"/>
<line x1="524.2" y1="758.4" x2="524.2" y2="780.3" stroke="#999" stroke-width="1.1"/>
<line x1="524.9" y1="758.4" x2="524.9" y2="780.3" stroke="#444" stroke-width="1.1"/>
<line x1="525.7" y1="758.4" x2="525.7" y2="780.3" stroke="#666" stroke-width="1.1"/>
<line x1="529.0" y1="758.4" x2="529.0" y2="780.3" stroke="#222" stroke-width="1.1"/>
<line x1="529.5" y1="758.4" x2="529.5" y2="780.3" stroke="#333" stroke-width="1.1"/>
<line x1="530.2" y1="758.4" x2="530.2" y2="780.3" stroke="#555" stroke-width="1.1"/>
<line x1="530.7" y1="758.4" x2="530.7" y2="780.3" stroke="#222" stroke-width="1.1"/>
<line x1="531.2" y1="758.4" x2="531.2" y2="780.3" stroke="#333" stroke-width="1.1"/>
<line x1="531.8" y1="758.4" x2="531.8" y2="780.3" stroke="#555" stroke-width="1.1"/>
<line x1="533.9" y1="758.4" x2="533.9" y2="780.3" stroke="#666" stroke-width="1.1"/>
<line x1="534.8" y1="758.4" x2="534.8" y2="780.3" stroke="#999" stroke-width="1.1"/>
<line x1="535.3" y1="758.4" x2="535.3" y2="780.3" stroke="#888" stroke-width="1.1"/>
<line x1="536.1" y1="758.4" x2="536.1" y2="780.3" stroke="#666" stroke-width="1.1"/>
<line x1="537.0" y1="758.4" x2="537.0" y2="780.3" stroke="#444" stroke-width="1.1"/>
<line x1="537.9" y1="758.4" x2="537.9" y2="780.3" stroke="#888" stroke-width="1.1"/>
<line x1="539.8" y1="758.4" x2="539.8" y2="780.3" stroke="#111" stroke-width="1.1"/>
<line x1="540.3" y1="758.4" x2="540.3" y2="780.3" stroke="#333" stroke-width="1.1"/>
<line x1="541.1" y1="758.4" x2="541.1" y2="780.3" stroke="#555" stroke-width="1.1"/>
<line x1="541.5" y1="758.4" x2="541.5" y2="780.3" stroke="#555" stroke-width="1.1"/>
<line x1="542.2" y1="758.4" x2="542.2" y2="780.3" stroke="#555" stroke-width="1.1"/>
<line x1="542.6" y1="758.4" x2="542.6" y2="780.3" stroke="#111" stroke-width="1.1"/>
<line x1="543.2" y1="758.4" x2="543.2" y2="780.3" stroke="#111" stroke-width="1.1"/>
<line x1="544.0" y1="758.4" x2="544.0" y2="780.3" stroke="#333" stroke-width="1.1"/>
<line x1="547.0" y1="758.4" x2="547.0" y2="780.3" stroke="#888" stroke-width="1.1"/>
<line x1="547.7" y1="758.4" x2="547.7" y2="780.3" stroke="#444" stroke-width="1.1"/>
<line x1="548.5" y1="758.4" x2="548.5" y2="780.3" stroke="#999" stroke-width="1.1"/>
<line x1="549.1" y1="758.4" x2="549.1" y2="780.3" stroke="#444" stroke-width="1.1"/>
<line x1="549.9" y1="758.4" x2="549.9" y2="780.3" stroke="#888" stroke-width="1.1"/>
<line x1="553.2" y1="758.4" x2="553.2" y2="780.3" stroke="#222" stroke-width="1.1"/>
<line x1="554.0" y1="758.4" x2="554.0" y2="780.3" stroke="#111" stroke-width="1.1"/>
<line x1="554.3" y1="758.4" x2="554.3" y2="780.3" stroke="#333" stroke-width="1.1"/>
<line x1="555.0" y1="758.4" x2="555.0" y2="780.3" stroke="#222" stroke-width="1.1"/>
<line x1="557.8" y1="758.4" x2="557.8" y2="780.3" stroke="#999" stroke-width="1.1"/>
<line x1="558.6" y1="758.4" x2="558.6" y2="780.3" stroke="#444" stroke-width="1.1"/>
<line x1="559.6" y1="758.4" x2="559.6" y2="780.3" stroke="#444" stroke-width="1.1"/>
<line x1="561.2" y1="758.4" x2="561.2" y2="780.3" stroke="#333" stroke-width="1.1"/>
<line x1="562.2" y1="758.4" x2="562.2" y2="780.3" stroke="#222" stroke-width="1.1"/>
<line x1="565.0" y1="758.4" x2="565.0" y2="780.3" stroke="#666" stroke-width="1.1"/>
<line x1="565.5" y1="758.4" x2="565.5" y2="780.3" stroke="#999" stroke-width="1.1"/>
<line x1="567.7" y1="758.4" x2="567.7" y2="780.3" stroke="#555" stroke-width="1.1"/>
<line x1="568.2" y1="758.4" x2="568.2" y2="780.3" stroke="#111" stroke-width="1.1"/>
<line x1="568.7" y1="758.4" x2="568.7" y2="780.3" stroke="#333" stroke-width="1.1"/>
<line x1="569.2" y1="758.4" x2="569.2" y2="780.3" stroke="#222" stroke-width="1.1"/>
<line x1="572.0" y1="758.4" x2="572.0" y2="780.3" stroke="#111" stroke-width="1.1"/>
<line x1="572.7" y1="758.4" x2="572.7" y2="780.3" stroke="#555" stroke-width="1.1"/>
<line x1="584.6" y1="758.4" x2="584.6" y2="780.3" stroke="#aaa" stroke-width="1.1"/>
<line x1="585.1" y1="758.4" x2="585.1" y2="780.3" stroke="#aaa" stroke-width="1.1"/>
<line x1="585.7" y1="758.4" x2="585.7" y2="780.3" stroke="#bbb" stroke-width="1.1"/>
<line x1="586.7" y1="758.4" x2="586.7" y2="780.3" stroke="#aaa" stroke-width="1.1"/>
<line x1="587.2" y1="758.4" x2="587.2" y2="780.3" stroke="#999" stroke-width="1.1"/>
<line x1="591.4" y1="758.4" x2="591.4" y2="780.3" stroke="#555" stroke-width="1.1"/>
<line x1="592.0" y1="758.4" x2="592.0" y2="780.3" stroke="#555" stroke-width="1.1"/>
<line x1="592.6" y1="758.4" x2="592.6" y2="780.3" stroke="#222" stroke-width="1.1"/>
<line x1="593.0" y1="758.4" x2="593.0" y2="780.3" stroke="#111" stroke-width="1.1"/>
<line x1="593.3" y1="758.4" x2="593.3" y2="780.3" stroke="#111" stroke-width="1.1"/>
<line x1="593.7" y1="758.4" x2="593.7" y2="780.3" stroke="#333" stroke-width="1.1"/>
<line x1="596.5" y1="758.4" x2="596.5" y2="780.3" stroke="#666" stroke-width="1.1"/>
<line x1="597.2" y1="758.4" x2="597.2" y2="780.3" stroke="#999" stroke-width="1.1"/>
<line x1="598.3" y1="758.4" x2="598.3" y2="780.3" stroke="#999" stroke-width="1.1"/>
<line x1="602.4" y1="758.4" x2="602.4" y2="780.3" stroke="#444" stroke-width="1.1"/>
<line x1="603.4" y1="758.4" x2="603.4" y2="780.3" stroke="#999" stroke-width="1.1"/>
<line x1="604.1" y1="758.4" x2="604.1" y2="780.3" stroke="#888" stroke-width="1.1"/>
<line x1="607.3" y1="758.4" x2="607.3" y2="780.3" stroke="#666" stroke-width="1.1"/>
<line x1="608.1" y1="758.4" x2="608.1" y2="780.3" stroke="#888" stroke-width="1.1"/>
<line x1="608.8" y1="758.4" x2="608.8" y2="780.3" stroke="#999" stroke-width="1.1"/>
<line x1="612.3" y1="758.4" x2="612.3" y2="780.3" stroke="#666" stroke-width="1.1"/>
<line x1="612.8" y1="758.4" x2="612.8" y2="780.3" stroke="#666" stroke-width="1.1"/>
<line x1="613.8" y1="758.4" x2="613.8" y2="780.3" stroke="#888" stroke-width="1.1"/>
<line x1="617.5" y1="758.4" x2="617.5" y2="780.3" stroke="#222" stroke-width="1.1"/>
<line x1="617.9" y1="758.4" x2="617.9" y2="780.3" stroke="#111" stroke-width="1.1"/>
<line x1="618.5" y1="758.4" x2="618.5" y2="780.3" stroke="#555" stroke-width="1.1"/>
<line x1="618.8" y1="758.4" x2="618.8" y2="780.3" stroke="#111" stroke-width="1.1"/>
<line x1="619.5" y1="758.4" x2="619.5" y2="780.3" stroke="#555" stroke-width="1.1"/>
<line x1="620.0" y1="758.4" x2="620.0" y2="780.3" stroke="#111" stroke-width="1.1"/>
<line x1="620.5" y1="758.4" x2="620.5" y2="780.3" stroke="#222" stroke-width="1.1"/>
<line x1="620.9" y1="758.4" x2="620.9" y2="780.3" stroke="#555" stroke-width="1.1"/>
<line x1="624.1" y1="758.4" x2="624.1" y2="780.3" stroke="#999" stroke-width="1.1"/>
<line x1="624.9" y1="758.4" x2="624.9" y2="780.3" stroke="#999" stroke-width="1.1"/>
<line x1="625.8" y1="758.4" x2="625.8" y2="780.3" stroke="#888" stroke-width="1.1"/>
<line x1="628.9" y1="758.4" x2="628.9" y2="780.3" stroke="#999" stroke-width="1.1"/>
<line x1="629.8" y1="758.4" x2="629.8" y2="780.3" stroke="#444" stroke-width="1.1"/>
<line x1="630.5" y1="758.4" x2="630.5" y2="780.3" stroke="#444" stroke-width="1.1"/>
<line x1="633.8" y1="758.4" x2="633.8" y2="780.3" stroke="#222" stroke-width="1.1"/>
<line x1="634.2" y1="758.4" x2="634.2" y2="780.3" stroke="#111" stroke-width="1.1"/>
<line x1="634.5" y1="758.4" x2="634.5" y2="780.3" stroke="#222" stroke-width="1.1"/>
<line x1="635.0" y1="758.4" x2="635.0" y2="780.3" stroke="#333" stroke-width="1.1"/>
<line x1="635.6" y1="758.4" x2="635.6" y2="780.3" stroke="#333" stroke-width="1.1"/>
<line x1="636.0" y1="758.4" x2="636.0" y2="780.3" stroke="#555" stroke-width="1.1"/>
<line x1="636.5" y1="758.4" x2="636.5" y2="780.3" stroke="#111" stroke-width="1.1"/>
<line x1="637.3" y1="758.4" x2="637.3" y2="780.3" stroke="#333" stroke-width="1.1"/>
<line x1="637.7" y1="758.4" x2="637.7" y2="780.3" stroke="#555" stroke-width="1.1"/>
<line x1="638.0" y1="758.4" x2="638.0" y2="780.3" stroke="#555" stroke-width="1.1"/>
<line x1="638.8" y1="758.4" x2="638.8" y2="780.3" stroke="#222" stroke-width="1.1"/>
<line x1="639.2" y1="758.4" x2="639.2" y2="780.3" stroke="#222" stroke-width="1.1"/>
<rect x="493.50" y="781.80" width="4.01" height="5.30" fill="#de3d48"/>
<rect x="497.21" y="781.80" width="4.01" height="5.30" fill="#de414c"/>
<rect x="500.93" y="781.80" width="4.01" height="5.30" fill="#df4550"/>
<rect x="504.64" y="781.80" width="4.01" height="5.30" fill="#df4954"/>
<rect x="508.35" y="781.80" width="4.01" height="5.30" fill="#e04d58"/>
<rect x="512.06" y="781.80" width="4.01" height="5.30" fill="#e0505c"/>
<rect x="515.77" y="781.80" width="4.01" height="5.30" fill="#e05461"/>
<rect x="519.49" y="781.80" width="4.01" height="5.30" fill="#e15865"/>
<rect x="523.20" y="781.80" width="4.01" height="5.30" fill="#e15c69"/>
<rect x="526.91" y="781.80" width="4.01" height="5.30" fill="#e25f6d"/>
<rect x="530.62" y="781.80" width="4.01" height="5.30" fill="#e26371"/>
<rect x="534.34" y="781.80" width="4.01" height="5.30" fill="#e36775"/>
<rect x="538.05" y="781.80" width="4.01" height="5.30" fill="#e36b7a"/>
<rect x="541.76" y="781.80" width="4.01" height="5.30" fill="#e68ca7"/>
<rect x="545.48" y="781.80" width="4.01" height="5.30" fill="#e7aad2"/>
<rect x="549.19" y="781.80" width="4.01" height="5.30" fill="#e7acd3"/>
<rect x="552.90" y="781.80" width="4.01" height="5.30" fill="#e7add3"/>
<rect x="556.61" y="781.80" width="4.01" height="5.30" fill="#e7aed4"/>
<rect x="560.33" y="781.80" width="4.01" height="5.30" fill="#e6afd4"/>
<rect x="564.04" y="781.80" width="4.01" height="5.30" fill="#e6b0d5"/>
<rect x="567.75" y="781.80" width="4.01" height="5.30" fill="#e6b2d6"/>
<rect x="571.46" y="781.80" width="4.01" height="5.30" fill="#e6b3d6"/>
<rect x="575.17" y="781.80" width="4.01" height="5.30" fill="#cccced"/>
<rect x="578.89" y="781.80" width="4.01" height="5.30" fill="#cacaec"/>
<rect x="582.60" y="781.80" width="4.01" height="5.30" fill="#c8c8ec"/>
<rect x="586.31" y="781.80" width="4.01" height="5.30" fill="#c5c5eb"/>
<rect x="590.02" y="781.80" width="4.01" height="5.30" fill="#c3c3ea"/>
<rect x="593.74" y="781.80" width="4.01" height="5.30" fill="#c0c0e9"/>
<rect x="597.45" y="781.80" width="4.01" height="5.30" fill="#bebee8"/>
<rect x="601.16" y="781.80" width="4.01" height="5.30" fill="#bcbce7"/>
<rect x="604.88" y="781.80" width="4.01" height="5.30" fill="#b9b9e6"/>
<rect x="608.59" y="781.80" width="4.01" height="5.30" fill="#6261c6"/>
<rect x="612.30" y="781.80" width="4.01" height="5.30" fill="#5b5bc2"/>
<rect x="616.01" y="781.80" width="4.01" height="5.30" fill="#5554be"/>
<rect x="619.73" y="781.80" width="4.01" height="5.30" fill="#4f4dba"/>
<rect x="623.44" y="781.80" width="4.01" height="5.30" fill="#4946b6"/>
<rect x="627.15" y="781.80" width="4.01" height="5.30" fill="#423fb2"/>
<rect x="630.86" y="781.80" width="4.01" height="5.30" fill="#3c39ae"/>
<rect x="634.58" y="781.80" width="4.01" height="5.30" fill="#3632aa"/>
<rect x="638.29" y="781.80" width="4.01" height="5.30" fill="#302ba6"/>
<line x1="493.5" y1="781.8" x2="650.5" y2="781.8" stroke="#c8c8c8" stroke-width="0.6"/>
<path d="M493.4,741.9 L493.6,728.8 L494.4,719.3 L495.5,717.5 L497.3,716.4 L498.5,710.0 L499.5,703.2 L501.0,704.5 L503.1,705.4 L506.0,700.0 L509.0,695.2 L511.9,691.6 L515.5,690.5 L518.0,692.5 L520.7,693.8 L523.0,692.6 L525.0,692.3 L529.4,693.0 L532.3,695.2 L546.9,702.5 L563.0,714.2 L580.0,726.5 L595.5,736.3 L608.0,743.5 L620.7,749.5 L627.0,754.2 L633.2,752.6 L636.0,747.0 L639.5,741.6 L642.6,742.2" fill="none" stroke="#6CC63A" stroke-width="1.1" stroke-linejoin="round"/>
<text x="576.7" y="684.4" font-size="11" text-anchor="middle" fill="#1a1a1a">mTOR_Signaling</text>
<text x="647.0" y="700.1" font-size="11" text-anchor="end" fill="#1a1a1a">NES = 1.81</text>
<text x="647.0" y="713.1" font-size="11" text-anchor="end" fill="#1a1a1a">FDR <tspan font-style="italic">q</tspan> = 0.002</text>
<text x="493.5" y="800.5" font-size="11" text-anchor="start" fill="#1a1a1a"><tspan font-style="italic">Kitl</tspan> f/+ cre</text>
<text x="651.0" y="800.5" font-size="11" text-anchor="end" fill="#1a1a1a"><tspan font-style="italic">Kitl</tspan> f/f cre</text>
<text x="459.2" y="331.2" font-size="17" text-anchor="start" fill="#000" font-weight="bold">g</text>
<rect x="528.30" y="326.20" width="12.60" height="6.70" fill="#7FA796"/>
<text x="542.3" y="333.2" font-size="11" text-anchor="start" fill="#1a1a1a"><tspan font-style="italic">Kitl</tspan> f/+ cre</text>
<rect x="596.60" y="326.20" width="12.10" height="6.70" fill="#C88BAE"/>
<text x="610.4" y="333.2" font-size="11" text-anchor="start" fill="#1a1a1a"><tspan font-style="italic">Kitl</tspan> f/f cre</text>
<line x1="527.4" y1="337.1" x2="672.4" y2="337.1" stroke="#3a3a3a" stroke-width="1"/>
<line x1="672.4" y1="336.6" x2="672.4" y2="390.3" stroke="#3a3a3a" stroke-width="1"/>
<line x1="527.4" y1="336.6" x2="527.4" y2="372.6" stroke="#3a3a3a" stroke-width="1"/>
<line x1="527.4" y1="377.8" x2="527.4" y2="390.3" stroke="#3a3a3a" stroke-width="1"/>
<line x1="519.9" y1="390.3" x2="673.0" y2="390.3" stroke="#3a3a3a" stroke-width="1"/>
<line x1="520.0" y1="337.1" x2="527.4" y2="337.1" stroke="#3a3a3a" stroke-width="1"/>
<text x="517.5" y="341.0" font-size="11" text-anchor="end" fill="#1a1a1a">3000</text>
<line x1="520.0" y1="354.8" x2="527.4" y2="354.8" stroke="#3a3a3a" stroke-width="1"/>
<text x="517.5" y="358.7" font-size="11" text-anchor="end" fill="#1a1a1a">2000</text>
<line x1="520.0" y1="372.6" x2="527.4" y2="372.6" stroke="#3a3a3a" stroke-width="1"/>
<text x="517.5" y="376.5" font-size="11" text-anchor="end" fill="#1a1a1a">1000</text>
<line x1="520.0" y1="382.4" x2="527.4" y2="382.4" stroke="#3a3a3a" stroke-width="1"/>
<text x="517.5" y="386.3" font-size="11" text-anchor="end" fill="#1a1a1a">600</text>
<line x1="520.0" y1="390.3" x2="527.4" y2="390.3" stroke="#3a3a3a" stroke-width="1"/>
<text x="517.5" y="394.2" font-size="11" text-anchor="end" fill="#1a1a1a">0</text>
<line x1="521.9" y1="372.6" x2="532.4" y2="372.6" stroke="#3a3a3a" stroke-width="1"/>
<line x1="521.9" y1="377.4" x2="532.4" y2="377.4" stroke="#3a3a3a" stroke-width="1"/>
<text x="486.3" y="365.3" font-size="11" text-anchor="middle" fill="#1a1a1a" transform="rotate(-90 486.3 365.3)">Positive cells</text>
<rect x="529.10" y="343.90" width="8.80" height="28.70" fill="#7FA796"/>
<rect x="529.10" y="378.00" width="8.80" height="12.30" fill="#7FA796"/>
<rect x="538.90" y="353.30" width="8.80" height="19.30" fill="#C88BAE"/>
<rect x="538.90" y="378.00" width="8.80" height="12.30" fill="#C88BAE"/>
<rect x="554.10" y="349.90" width="8.80" height="22.70" fill="#7FA796"/>
<rect x="554.10" y="378.00" width="8.80" height="12.30" fill="#7FA796"/>
<rect x="564.00" y="358.60" width="8.80" height="14.00" fill="#C88BAE"/>
<rect x="564.00" y="378.00" width="8.80" height="12.30" fill="#C88BAE"/>
<rect x="578.70" y="353.60" width="8.80" height="19.00" fill="#7FA796"/>
<rect x="578.70" y="378.00" width="8.80" height="12.30" fill="#7FA796"/>
<rect x="588.60" y="360.80" width="8.80" height="11.80" fill="#C88BAE"/>
<rect x="588.60" y="378.00" width="8.80" height="12.30" fill="#C88BAE"/>
<rect x="603.40" y="354.60" width="8.80" height="18.00" fill="#7FA796"/>
<rect x="603.40" y="378.00" width="8.80" height="12.30" fill="#7FA796"/>
<rect x="613.30" y="362.70" width="8.80" height="9.90" fill="#C88BAE"/>
<rect x="613.30" y="378.00" width="8.80" height="12.30" fill="#C88BAE"/>
<rect x="627.90" y="357.10" width="8.80" height="15.50" fill="#7FA796"/>
<rect x="627.90" y="378.00" width="8.80" height="12.30" fill="#7FA796"/>
<rect x="637.80" y="366.50" width="8.80" height="6.10" fill="#C88BAE"/>
<rect x="637.80" y="378.00" width="8.80" height="12.30" fill="#C88BAE"/>
<rect x="652.70" y="356.10" width="8.80" height="16.50" fill="#7FA796"/>
<rect x="652.70" y="378.00" width="8.80" height="12.30" fill="#7FA796"/>
<rect x="662.40" y="366.80" width="8.80" height="5.80" fill="#C88BAE"/>
<rect x="662.40" y="378.00" width="8.80" height="12.30" fill="#C88BAE"/>
<line x1="538.4" y1="390.3" x2="538.4" y2="397.5" stroke="#3a3a3a" stroke-width="1"/>
<text x="543.2" y="405.7" font-size="11" text-anchor="end" fill="#1a1a1a" font-style="italic" transform="rotate(-40 543.2 405.7)">Vasa</text>
<line x1="563.4" y1="390.3" x2="563.4" y2="397.5" stroke="#3a3a3a" stroke-width="1"/>
<text x="568.2" y="405.7" font-size="11" text-anchor="end" fill="#1a1a1a" font-style="italic" transform="rotate(-40 568.2 405.7)">Stra8</text>
<line x1="588.1" y1="390.3" x2="588.1" y2="397.5" stroke="#3a3a3a" stroke-width="1"/>
<text x="592.9" y="405.7" font-size="11" text-anchor="end" fill="#1a1a1a" font-style="italic" transform="rotate(-40 592.9 405.7)">Sycp3</text>
<line x1="612.7" y1="390.3" x2="612.7" y2="397.5" stroke="#3a3a3a" stroke-width="1"/>
<text x="617.5" y="405.7" font-size="11" text-anchor="end" fill="#1a1a1a" font-style="italic" transform="rotate(-40 617.5 405.7)">Sycp1</text>
<line x1="637.2" y1="390.3" x2="637.2" y2="397.5" stroke="#3a3a3a" stroke-width="1"/>
<text x="642.0" y="405.7" font-size="11" text-anchor="end" fill="#1a1a1a" font-style="italic" transform="rotate(-40 642.0 405.7)">Meioc</text>
<line x1="661.9" y1="390.3" x2="661.9" y2="397.5" stroke="#3a3a3a" stroke-width="1"/>
<text x="666.7" y="405.7" font-size="11" text-anchor="end" fill="#1a1a1a" font-style="italic" transform="rotate(-40 666.7 405.7)">Ythdc2</text>
<text x="459.3" y="451.3" font-size="17" text-anchor="start" fill="#000" font-weight="bold">h</text>
<text x="594.0" y="451.6" font-size="11" text-anchor="middle" fill="#1a1a1a">GO (downregulation in <tspan font-style="italic">Kitl</tspan> f/f cre)</text>
<line x1="587.7" y1="461.4" x2="587.7" y2="522.0" stroke="#3a3a3a" stroke-width="1"/>
<line x1="587.2" y1="522.0" x2="678.7" y2="522.0" stroke="#3a3a3a" stroke-width="1"/>
<line x1="583.6" y1="468.6" x2="587.7" y2="468.6" stroke="#3a3a3a" stroke-width="1"/>
<line x1="591.8" y1="468.6" x2="674.6" y2="468.6" stroke="#cfcfcf" stroke-width="1.3"/>
<text x="578.3" y="472.5" font-size="11" text-anchor="end" fill="#1a1a1a">chromatin remodeling</text>
<line x1="583.6" y1="480.3" x2="587.7" y2="480.3" stroke="#3a3a3a" stroke-width="1"/>
<line x1="591.8" y1="480.3" x2="655.8" y2="480.3" stroke="#cfcfcf" stroke-width="1.3"/>
<text x="578.3" y="484.2" font-size="11" text-anchor="end" fill="#1a1a1a">DNA repair</text>
<line x1="583.6" y1="492.2" x2="587.7" y2="492.2" stroke="#3a3a3a" stroke-width="1"/>
<line x1="591.8" y1="492.2" x2="618.5" y2="492.2" stroke="#cfcfcf" stroke-width="1.3"/>
<text x="578.3" y="496.1" font-size="11" text-anchor="end" fill="#1a1a1a">DNA recombination</text>
<line x1="583.6" y1="504.1" x2="587.7" y2="504.1" stroke="#3a3a3a" stroke-width="1"/>
<line x1="591.8" y1="504.1" x2="617.5" y2="504.1" stroke="#cfcfcf" stroke-width="1.3"/>
<text x="578.3" y="508.0" font-size="11" text-anchor="end" fill="#1a1a1a">DSB repair</text>
<line x1="583.6" y1="516.0" x2="587.7" y2="516.0" stroke="#3a3a3a" stroke-width="1"/>
<line x1="591.8" y1="516.0" x2="616.0" y2="516.0" stroke="#cfcfcf" stroke-width="1.3"/>
<text x="578.3" y="519.9" font-size="11" text-anchor="end" fill="#1a1a1a">meiotic cell cycle</text>
<circle cx="674.6" cy="468.6" r="3.9" fill="#D64535"/>
<circle cx="655.8" cy="480.3" r="3.9" fill="#D64535"/>
<circle cx="618.5" cy="492.2" r="3.9" fill="#D64535"/>
<circle cx="617.5" cy="504.1" r="3.9" fill="#D64535"/>
<circle cx="616" cy="516" r="3.9" fill="#D64535"/>
<line x1="590.8" y1="522.0" x2="590.8" y2="525.5" stroke="#3a3a3a" stroke-width="1"/>
<text x="590.8" y="539.5" font-size="11" text-anchor="middle" fill="#1a1a1a">0</text>
<line x1="608.1" y1="522.0" x2="608.1" y2="525.5" stroke="#3a3a3a" stroke-width="1"/>
<text x="608.1" y="539.5" font-size="11" text-anchor="middle" fill="#1a1a1a">5</text>
<line x1="624.7" y1="522.0" x2="624.7" y2="525.5" stroke="#3a3a3a" stroke-width="1"/>
<text x="624.7" y="539.5" font-size="11" text-anchor="middle" fill="#1a1a1a">10</text>
<line x1="642.0" y1="522.0" x2="642.0" y2="525.5" stroke="#3a3a3a" stroke-width="1"/>
<text x="642.0" y="539.5" font-size="11" text-anchor="middle" fill="#1a1a1a">15</text>
<line x1="659.3" y1="522.0" x2="659.3" y2="525.5" stroke="#3a3a3a" stroke-width="1"/>
<text x="659.3" y="539.5" font-size="11" text-anchor="middle" fill="#1a1a1a">20</text>
<line x1="675.6" y1="522.0" x2="675.6" y2="525.5" stroke="#3a3a3a" stroke-width="1"/>
<text x="675.6" y="539.5" font-size="11" text-anchor="middle" fill="#1a1a1a">25</text>
<text x="633.2" y="552.7" font-size="11" text-anchor="middle" fill="#1a1a1a">-Log(qValue)</text>
<text x="594.0" y="571.3" font-size="11" text-anchor="middle" fill="#1a1a1a">KEGG (downregulation in <tspan font-style="italic">Kitl</tspan> f/f cre)</text>
<line x1="587.7" y1="578.2" x2="587.7" y2="638.8" stroke="#3a3a3a" stroke-width="1"/>
<line x1="587.2" y1="638.8" x2="678.7" y2="638.8" stroke="#3a3a3a" stroke-width="1"/>
<line x1="583.6" y1="584.5" x2="587.7" y2="584.5" stroke="#3a3a3a" stroke-width="1"/>
<line x1="591.8" y1="584.5" x2="675.0" y2="584.5" stroke="#cfcfcf" stroke-width="1.3"/>
<text x="578.3" y="588.4" font-size="11" text-anchor="end" fill="#1a1a1a">Wnt signaling pathway</text>
<line x1="583.6" y1="597.1" x2="587.7" y2="597.1" stroke="#3a3a3a" stroke-width="1"/>
<line x1="591.8" y1="597.1" x2="637.9" y2="597.1" stroke="#cfcfcf" stroke-width="1.3"/>
<text x="578.3" y="601.0" font-size="11" text-anchor="end" fill="#1a1a1a">FoxO signaling pathway</text>
<line x1="583.6" y1="608.4" x2="587.7" y2="608.4" stroke="#3a3a3a" stroke-width="1"/>
<line x1="591.8" y1="608.4" x2="629.1" y2="608.4" stroke="#cfcfcf" stroke-width="1.3"/>
<text x="578.3" y="612.3" font-size="11" text-anchor="end" fill="#1a1a1a">TGFb signaling pathway</text>
<line x1="583.6" y1="620.3" x2="587.7" y2="620.3" stroke="#3a3a3a" stroke-width="1"/>
<line x1="591.8" y1="620.3" x2="623.8" y2="620.3" stroke="#cfcfcf" stroke-width="1.3"/>
<text x="578.3" y="624.2" font-size="11" text-anchor="end" fill="#1a1a1a">mTOR signaling pathway</text>
<line x1="583.6" y1="632.2" x2="587.7" y2="632.2" stroke="#3a3a3a" stroke-width="1"/>
<line x1="591.8" y1="632.2" x2="610.6" y2="632.2" stroke="#cfcfcf" stroke-width="1.3"/>
<text x="578.3" y="636.1" font-size="11" text-anchor="end" fill="#1a1a1a">MAPK signaling pathway</text>
<circle cx="675" cy="584.5" r="3.9" fill="#B83A2E"/>
<circle cx="637.9" cy="597.1" r="3.9" fill="#C7402F"/>
<circle cx="629.1" cy="608.4" r="3.9" fill="#CC4331"/>
<circle cx="623.8" cy="620.3" r="3.9" fill="#D04632"/>
<circle cx="610.6" cy="632.2" r="3.9" fill="#D64A36"/>
<line x1="590.8" y1="638.8" x2="590.8" y2="642.3" stroke="#3a3a3a" stroke-width="1"/>
<text x="590.8" y="655.4" font-size="11" text-anchor="middle" fill="#1a1a1a">0</text>
<line x1="611.2" y1="638.8" x2="611.2" y2="642.3" stroke="#3a3a3a" stroke-width="1"/>
<text x="611.2" y="655.4" font-size="11" text-anchor="middle" fill="#1a1a1a">1</text>
<line x1="631.0" y1="638.8" x2="631.0" y2="642.3" stroke="#3a3a3a" stroke-width="1"/>
<text x="631.0" y="655.4" font-size="11" text-anchor="middle" fill="#1a1a1a">2</text>
<line x1="650.5" y1="638.8" x2="650.5" y2="642.3" stroke="#3a3a3a" stroke-width="1"/>
<text x="650.5" y="655.4" font-size="11" text-anchor="middle" fill="#1a1a1a">3</text>
<line x1="670.2" y1="638.8" x2="670.2" y2="642.3" stroke="#3a3a3a" stroke-width="1"/>
<text x="670.2" y="655.4" font-size="11" text-anchor="middle" fill="#1a1a1a">4</text>
<text x="633.2" y="667.6" font-size="11" text-anchor="middle" fill="#1a1a1a">-Log(qValue)</text>
<text x="1.5" y="364.9" font-size="17" text-anchor="start" fill="#000" font-weight="bold">f</text>
<rect x="25.10" y="356.70" width="423.50" height="16.30" fill="#A7BCB3"/>
<text x="236.0" y="368.9" font-size="11" text-anchor="middle" fill="#1a1a1a">MEIOSIS INITIATION</text>
<rect x="321.10" y="361.45" width="11.80" height="6.80" fill="#7CA796"/>
<text x="335.3" y="368.9" font-size="10.5" text-anchor="start" fill="#1a1a1a"><tspan font-style="italic">Kitl</tspan> f/+ cre</text>
<rect x="386.20" y="361.45" width="11.80" height="6.80" fill="#C98BB0"/>
<text x="401.3" y="368.9" font-size="10.5" text-anchor="start" fill="#1a1a1a"><tspan font-style="italic">Kitl</tspan> f/f cre</text>
<rect x="25.10" y="503.60" width="423.50" height="16.80" fill="#D4AEC4"/>
<text x="232.0" y="516.0" font-size="11" text-anchor="middle" fill="#1a1a1a">DSB REPAIR AND CROSSOVER</text>
<rect x="321.10" y="508.60" width="11.80" height="6.80" fill="#7CA796"/>
<text x="335.3" y="516.0" font-size="10.5" text-anchor="start" fill="#1a1a1a"><tspan font-style="italic">Kitl</tspan> f/+ cre</text>
<rect x="386.20" y="508.60" width="11.80" height="6.80" fill="#C98BB0"/>
<text x="401.3" y="516.0" font-size="10.5" text-anchor="start" fill="#1a1a1a"><tspan font-style="italic">Kitl</tspan> f/f cre</text>
<rect x="25.10" y="652.20" width="423.50" height="16.70" fill="#EBDECC"/>
<text x="207.3" y="664.5" font-size="11" text-anchor="middle" fill="#1a1a1a">HOMOLOGOUS PAIRING AND SYNAPSIS</text>
<rect x="321.10" y="657.15" width="11.80" height="6.80" fill="#7CA796"/>
<text x="335.3" y="664.5" font-size="10.5" text-anchor="start" fill="#1a1a1a"><tspan font-style="italic">Kitl</tspan> f/+ cre</text>
<rect x="386.20" y="657.15" width="11.80" height="6.80" fill="#C98BB0"/>
<text x="401.3" y="664.5" font-size="10.5" text-anchor="start" fill="#1a1a1a"><tspan font-style="italic">Kitl</tspan> f/f cre</text>
<text x="19.0" y="445.0" font-size="11" text-anchor="middle" fill="#1a1a1a" transform="rotate(-90 19.0 445.0)">Expression Level</text>
<text x="19.0" y="595.0" font-size="11" text-anchor="middle" fill="#1a1a1a" transform="rotate(-90 19.0 595.0)">Expression Level</text>
<text x="19.0" y="745.2" font-size="11" text-anchor="middle" fill="#1a1a1a" transform="rotate(-90 19.0 745.2)">Expression Level</text>
<text x="57.4" y="384.0" font-size="11" text-anchor="middle" fill="#1a1a1a" font-style="italic">Meioc</text>
<text x="55.9" y="397.1" font-size="10.5" text-anchor="middle" fill="#1a1a1a" font-weight="bold">****</text>
<line x1="45.8" y1="398.3" x2="66.0" y2="398.3" stroke="#7c7c7c" stroke-width="1.3"/>
<line x1="40.8" y1="399.2" x2="40.8" y2="436.2" stroke="#3c3c3c" stroke-width="0.9"/>
<line x1="40.4" y1="435.8" x2="72.5" y2="435.8" stroke="#3c3c3c" stroke-width="1.25"/>
<line x1="37.1" y1="400.3" x2="40.8" y2="400.3" stroke="#555" stroke-width="0.8"/>
<text x="34.5" y="404.1" font-size="10.5" text-anchor="end" fill="#333">8</text>
<line x1="37.1" y1="408.5" x2="40.8" y2="408.5" stroke="#555" stroke-width="0.8"/>
<text x="34.5" y="412.3" font-size="10.5" text-anchor="end" fill="#333">6</text>
<line x1="37.1" y1="417.4" x2="40.8" y2="417.4" stroke="#555" stroke-width="0.8"/>
<text x="34.5" y="421.2" font-size="10.5" text-anchor="end" fill="#333">4</text>
<line x1="37.1" y1="425.7" x2="40.8" y2="425.7" stroke="#555" stroke-width="0.8"/>
<text x="34.5" y="429.5" font-size="10.5" text-anchor="end" fill="#333">2</text>
<line x1="37.1" y1="434.5" x2="40.8" y2="434.5" stroke="#555" stroke-width="0.8"/>
<text x="34.5" y="438.3" font-size="10.5" text-anchor="end" fill="#333">0</text>
<line x1="49.5" y1="401.2" x2="49.5" y2="421.1" stroke="#555" stroke-width="0.9"/>
<rect x="45.20" y="421.10" width="8.50" height="13.40" fill="#7CA796" stroke="#333" stroke-width="0.8"/>
<line x1="45.2" y1="429.2" x2="53.7" y2="429.2" stroke="#333" stroke-width="0.9"/>
<line x1="64.0" y1="413.0" x2="64.0" y2="425.9" stroke="#7a7a7a" stroke-width="0.9"/>
<rect x="59.40" y="425.90" width="9.20" height="8.60" fill="#C98BB0" stroke="#333" stroke-width="0.8"/>
<line x1="59.4" y1="431.4" x2="68.6" y2="431.4" stroke="#333" stroke-width="0.9"/>
<text x="121.1" y="384.0" font-size="11" text-anchor="middle" fill="#1a1a1a" font-style="italic">Ythdc2</text>
<text x="120.2" y="397.1" font-size="10.5" text-anchor="middle" fill="#1a1a1a" font-weight="bold">****</text>
<line x1="110.1" y1="398.3" x2="130.3" y2="398.3" stroke="#7c7c7c" stroke-width="1.3"/>
<line x1="101.4" y1="399.2" x2="101.4" y2="436.2" stroke="#3c3c3c" stroke-width="0.9"/>
<line x1="101.0" y1="435.8" x2="131.2" y2="435.8" stroke="#3c3c3c" stroke-width="1.25"/>
<line x1="97.7" y1="400.0" x2="101.4" y2="400.0" stroke="#555" stroke-width="0.8"/>
<text x="95.1" y="403.8" font-size="10.5" text-anchor="end" fill="#333">4</text>
<line x1="97.7" y1="408.4" x2="101.4" y2="408.4" stroke="#555" stroke-width="0.8"/>
<text x="95.1" y="412.2" font-size="10.5" text-anchor="end" fill="#333">3</text>
<line x1="97.7" y1="417.2" x2="101.4" y2="417.2" stroke="#555" stroke-width="0.8"/>
<text x="95.1" y="421.0" font-size="10.5" text-anchor="end" fill="#333">2</text>
<line x1="97.7" y1="425.4" x2="101.4" y2="425.4" stroke="#555" stroke-width="0.8"/>
<text x="95.1" y="429.2" font-size="10.5" text-anchor="end" fill="#333">1</text>
<line x1="97.7" y1="434.2" x2="101.4" y2="434.2" stroke="#555" stroke-width="0.8"/>
<text x="95.1" y="438.0" font-size="10.5" text-anchor="end" fill="#333">0</text>
<line x1="110.2" y1="400.9" x2="110.2" y2="421.4" stroke="#555" stroke-width="0.9"/>
<rect x="105.80" y="421.40" width="8.70" height="13.30" fill="#7CA796" stroke="#333" stroke-width="0.8"/>
<line x1="105.8" y1="427.7" x2="114.5" y2="427.7" stroke="#333" stroke-width="0.9"/>
<line x1="124.8" y1="412.3" x2="124.8" y2="425.1" stroke="#7a7a7a" stroke-width="0.9"/>
<rect x="120.10" y="425.10" width="9.30" height="9.60" fill="#C98BB0" stroke="#333" stroke-width="0.8"/>
<line x1="120.1" y1="429.5" x2="129.4" y2="429.5" stroke="#333" stroke-width="0.9"/>
<text x="182.0" y="384.0" font-size="11" text-anchor="middle" fill="#1a1a1a" font-style="italic">Dazl</text>
<text x="180.8" y="397.1" font-size="10.5" text-anchor="middle" fill="#1a1a1a" font-weight="bold">****</text>
<line x1="170.9" y1="398.3" x2="190.7" y2="398.3" stroke="#7c7c7c" stroke-width="1.3"/>
<line x1="165.7" y1="399.2" x2="165.7" y2="436.2" stroke="#3c3c3c" stroke-width="0.9"/>
<line x1="165.3" y1="435.8" x2="196.9" y2="435.8" stroke="#3c3c3c" stroke-width="1.25"/>
<line x1="162.0" y1="409.1" x2="165.7" y2="409.1" stroke="#555" stroke-width="0.8"/>
<text x="159.4" y="412.9" font-size="10.5" text-anchor="end" fill="#333">20</text>
<line x1="162.0" y1="421.9" x2="165.7" y2="421.9" stroke="#555" stroke-width="0.8"/>
<text x="159.4" y="425.7" font-size="10.5" text-anchor="end" fill="#333">10</text>
<line x1="162.0" y1="434.2" x2="165.7" y2="434.2" stroke="#555" stroke-width="0.8"/>
<text x="159.4" y="438.0" font-size="10.5" text-anchor="end" fill="#333">0</text>
<line x1="174.6" y1="400.9" x2="174.6" y2="413.5" stroke="#555" stroke-width="0.9"/>
<line x1="174.6" y1="421.9" x2="174.6" y2="434.2" stroke="#555" stroke-width="0.9"/>
<rect x="170.20" y="413.50" width="8.80" height="8.40" fill="#7CA796" stroke="#333" stroke-width="0.8"/>
<line x1="170.2" y1="417.2" x2="179.0" y2="417.2" stroke="#333" stroke-width="0.9"/>
<line x1="189.1" y1="402.1" x2="189.1" y2="414.9" stroke="#7a7a7a" stroke-width="0.9"/>
<line x1="189.1" y1="423.7" x2="189.1" y2="434.2" stroke="#7a7a7a" stroke-width="0.9"/>
<rect x="184.60" y="414.90" width="9.10" height="8.80" fill="#C98BB0" stroke="#333" stroke-width="0.8"/>
<line x1="184.6" y1="419.0" x2="193.7" y2="419.0" stroke="#333" stroke-width="0.9"/>
<text x="244.5" y="384.0" font-size="11" text-anchor="middle" fill="#1a1a1a" font-style="italic">Mcm8</text>
<text x="242.8" y="397.1" font-size="10.5" text-anchor="middle" fill="#1a1a1a" font-weight="bold">****</text>
<line x1="232.9" y1="398.3" x2="252.6" y2="398.3" stroke="#7c7c7c" stroke-width="1.3"/>
<line x1="226.3" y1="399.2" x2="226.3" y2="436.2" stroke="#3c3c3c" stroke-width="0.9"/>
<line x1="225.9" y1="435.8" x2="259.6" y2="435.8" stroke="#3c3c3c" stroke-width="1.25"/>
<line x1="222.6" y1="407.0" x2="226.3" y2="407.0" stroke="#555" stroke-width="0.8"/>
<text x="220.0" y="410.8" font-size="10.5" text-anchor="end" fill="#333">2.0</text>
<line x1="222.6" y1="413.7" x2="226.3" y2="413.7" stroke="#555" stroke-width="0.8"/>
<text x="220.0" y="417.5" font-size="10.5" text-anchor="end" fill="#333">1.5</text>
<line x1="222.6" y1="420.2" x2="226.3" y2="420.2" stroke="#555" stroke-width="0.8"/>
<text x="220.0" y="424.0" font-size="10.5" text-anchor="end" fill="#333">1.0</text>
<line x1="222.6" y1="427.7" x2="226.3" y2="427.7" stroke="#555" stroke-width="0.8"/>
<text x="220.0" y="431.5" font-size="10.5" text-anchor="end" fill="#333">0.5</text>
<line x1="222.6" y1="434.2" x2="226.3" y2="434.2" stroke="#555" stroke-width="0.8"/>
<text x="220.0" y="438.0" font-size="10.5" text-anchor="end" fill="#333">0.0</text>
<line x1="235.5" y1="400.4" x2="235.5" y2="420.2" stroke="#555" stroke-width="0.9"/>
<rect x="230.70" y="420.20" width="9.60" height="14.00" fill="#7CA796" stroke="#333" stroke-width="0.8"/>
<line x1="230.7" y1="427.7" x2="240.3" y2="427.7" stroke="#333" stroke-width="0.9"/>
<line x1="250.8" y1="406.7" x2="250.8" y2="423.2" stroke="#7a7a7a" stroke-width="0.9"/>
<rect x="245.90" y="423.20" width="9.80" height="11.00" fill="#C98BB0" stroke="#333" stroke-width="0.8"/>
<line x1="245.9" y1="429.5" x2="255.7" y2="429.5" stroke="#333" stroke-width="0.9"/>
<text x="302.9" y="384.0" font-size="11" text-anchor="middle" fill="#1a1a1a" font-style="italic">Stra8</text>
<text x="302.3" y="395.2" font-size="11" text-anchor="middle" fill="#1a1a1a">ns</text>
<line x1="292.5" y1="398.3" x2="312.1" y2="398.3" stroke="#7c7c7c" stroke-width="1.3"/>
<line x1="287.6" y1="399.2" x2="287.6" y2="436.2" stroke="#3c3c3c" stroke-width="0.9"/>
<line x1="287.2" y1="435.8" x2="319.0" y2="435.8" stroke="#3c3c3c" stroke-width="1.25"/>
<line x1="283.9" y1="400.0" x2="287.6" y2="400.0" stroke="#555" stroke-width="0.8"/>
<text x="281.3" y="403.8" font-size="10.5" text-anchor="end" fill="#333">20</text>
<line x1="283.9" y1="408.8" x2="287.6" y2="408.8" stroke="#555" stroke-width="0.8"/>
<text x="281.3" y="412.6" font-size="10.5" text-anchor="end" fill="#333">15</text>
<line x1="283.9" y1="417.2" x2="287.6" y2="417.2" stroke="#555" stroke-width="0.8"/>
<text x="281.3" y="421.0" font-size="10.5" text-anchor="end" fill="#333">10</text>
<line x1="283.9" y1="425.4" x2="287.6" y2="425.4" stroke="#555" stroke-width="0.8"/>
<text x="281.3" y="429.2" font-size="10.5" text-anchor="end" fill="#333">5</text>
<line x1="283.9" y1="434.2" x2="287.6" y2="434.2" stroke="#555" stroke-width="0.8"/>
<text x="281.3" y="438.0" font-size="10.5" text-anchor="end" fill="#333">0</text>
<line x1="296.0" y1="401.4" x2="296.0" y2="419.3" stroke="#555" stroke-width="0.9"/>
<line x1="296.0" y1="431.6" x2="296.0" y2="434.2" stroke="#555" stroke-width="0.9"/>
<rect x="291.60" y="419.30" width="8.80" height="12.30" fill="#7CA796" stroke="#333" stroke-width="0.8"/>
<line x1="291.6" y1="425.4" x2="300.4" y2="425.4" stroke="#333" stroke-width="0.9"/>
<line x1="311.2" y1="400.9" x2="311.2" y2="419.3" stroke="#7a7a7a" stroke-width="0.9"/>
<line x1="311.2" y1="431.9" x2="311.2" y2="434.2" stroke="#7a7a7a" stroke-width="0.9"/>
<rect x="306.90" y="419.30" width="8.70" height="12.60" fill="#C98BB0" stroke="#333" stroke-width="0.8"/>
<line x1="306.9" y1="426.0" x2="315.6" y2="426.0" stroke="#333" stroke-width="0.9"/>
<text x="364.7" y="384.0" font-size="11" text-anchor="middle" fill="#1a1a1a" font-style="italic">Ezh2</text>
<text x="362.7" y="397.1" font-size="10.5" text-anchor="middle" fill="#1a1a1a" font-weight="bold">****</text>
<line x1="352.7" y1="398.3" x2="372.7" y2="398.3" stroke="#7c7c7c" stroke-width="1.3"/>
<line x1="345.5" y1="399.2" x2="345.5" y2="436.2" stroke="#3c3c3c" stroke-width="0.9"/>
<line x1="345.1" y1="435.8" x2="379.3" y2="435.8" stroke="#3c3c3c" stroke-width="1.25"/>
<line x1="341.8" y1="402.7" x2="345.5" y2="402.7" stroke="#555" stroke-width="0.8"/>
<text x="339.2" y="406.5" font-size="10.5" text-anchor="end" fill="#333">6</text>
<line x1="341.8" y1="413.5" x2="345.5" y2="413.5" stroke="#555" stroke-width="0.8"/>
<text x="339.2" y="417.3" font-size="10.5" text-anchor="end" fill="#333">4</text>
<line x1="341.8" y1="424.1" x2="345.5" y2="424.1" stroke="#555" stroke-width="0.8"/>
<text x="339.2" y="427.9" font-size="10.5" text-anchor="end" fill="#333">2</text>
<line x1="341.8" y1="434.3" x2="345.5" y2="434.3" stroke="#555" stroke-width="0.8"/>
<text x="339.2" y="438.1" font-size="10.5" text-anchor="end" fill="#333">0</text>
<line x1="353.8" y1="401.0" x2="353.8" y2="417.0" stroke="#555" stroke-width="0.9"/>
<line x1="353.8" y1="428.2" x2="353.8" y2="433.3" stroke="#555" stroke-width="0.9"/>
<rect x="349.20" y="417.00" width="9.20" height="11.20" fill="#7CA796" stroke="#333" stroke-width="0.8"/>
<line x1="349.2" y1="422.1" x2="358.4" y2="422.1" stroke="#333" stroke-width="0.9"/>
<line x1="367.8" y1="407.2" x2="367.8" y2="420.6" stroke="#7a7a7a" stroke-width="0.9"/>
<line x1="367.8" y1="430.2" x2="367.8" y2="433.3" stroke="#7a7a7a" stroke-width="0.9"/>
<rect x="362.90" y="420.60" width="9.80" height="9.60" fill="#C98BB0" stroke="#333" stroke-width="0.8"/>
<line x1="362.9" y1="424.7" x2="372.7" y2="424.7" stroke="#333" stroke-width="0.9"/>
<text x="424.5" y="384.0" font-size="11" text-anchor="middle" fill="#1a1a1a" font-style="italic">Ezh1</text>
<text x="423.5" y="397.1" font-size="10.5" text-anchor="middle" fill="#1a1a1a" font-weight="bold">****</text>
<line x1="413.6" y1="398.3" x2="433.4" y2="398.3" stroke="#7c7c7c" stroke-width="1.3"/>
<line x1="410.9" y1="399.2" x2="410.9" y2="436.2" stroke="#3c3c3c" stroke-width="0.9"/>
<line x1="410.5" y1="435.8" x2="440.6" y2="435.8" stroke="#3c3c3c" stroke-width="1.25"/>
<line x1="407.2" y1="403.7" x2="410.9" y2="403.7" stroke="#555" stroke-width="0.8"/>
<text x="404.6" y="407.5" font-size="10.5" text-anchor="end" fill="#333">1.5</text>
<line x1="407.2" y1="413.9" x2="410.9" y2="413.9" stroke="#555" stroke-width="0.8"/>
<text x="404.6" y="417.7" font-size="10.5" text-anchor="end" fill="#333">1.0</text>
<line x1="407.2" y1="424.1" x2="410.9" y2="424.1" stroke="#555" stroke-width="0.8"/>
<text x="404.6" y="427.9" font-size="10.5" text-anchor="end" fill="#333">0.5</text>
<line x1="407.2" y1="434.3" x2="410.9" y2="434.3" stroke="#555" stroke-width="0.8"/>
<text x="404.6" y="438.1" font-size="10.5" text-anchor="end" fill="#333">0.0</text>
<line x1="419.6" y1="401.0" x2="419.6" y2="421.0" stroke="#555" stroke-width="0.9"/>
<rect x="415.00" y="421.00" width="9.20" height="13.30" fill="#7CA796" stroke="#333" stroke-width="0.8"/>
<line x1="415.0" y1="430.2" x2="424.2" y2="430.2" stroke="#333" stroke-width="0.9"/>
<line x1="433.9" y1="405.7" x2="433.9" y2="423.1" stroke="#7a7a7a" stroke-width="0.9"/>
<rect x="429.30" y="423.10" width="9.20" height="11.20" fill="#C98BB0" stroke="#333" stroke-width="0.8"/>
<line x1="429.3" y1="434.3" x2="438.5" y2="434.3" stroke="#333" stroke-width="0.9"/>
<text x="56.5" y="448.8" font-size="11" text-anchor="middle" fill="#1a1a1a" font-style="italic">Atm</text>
<text x="56.1" y="461.3" font-size="10.5" text-anchor="middle" fill="#1a1a1a" font-weight="bold">****</text>
<line x1="46.3" y1="460.8" x2="65.9" y2="460.8" stroke="#7c7c7c" stroke-width="1.3"/>
<line x1="40.7" y1="462.3" x2="40.7" y2="499.3" stroke="#3c3c3c" stroke-width="0.9"/>
<line x1="40.3" y1="498.9" x2="72.6" y2="498.9" stroke="#3c3c3c" stroke-width="1.25"/>
<line x1="37.0" y1="472.4" x2="40.7" y2="472.4" stroke="#555" stroke-width="0.8"/>
<text x="34.4" y="476.2" font-size="10.5" text-anchor="end" fill="#333">4</text>
<line x1="37.0" y1="485.1" x2="40.7" y2="485.1" stroke="#555" stroke-width="0.8"/>
<text x="34.4" y="488.9" font-size="10.5" text-anchor="end" fill="#333">2</text>
<line x1="37.0" y1="497.3" x2="40.7" y2="497.3" stroke="#555" stroke-width="0.8"/>
<text x="34.4" y="501.1" font-size="10.5" text-anchor="end" fill="#333">0</text>
<line x1="49.4" y1="464.0" x2="49.4" y2="482.4" stroke="#555" stroke-width="0.9"/>
<line x1="49.4" y1="494.3" x2="49.4" y2="497.3" stroke="#555" stroke-width="0.9"/>
<rect x="45.10" y="482.40" width="8.50" height="11.90" fill="#7CA796" stroke="#333" stroke-width="0.8"/>
<line x1="45.1" y1="488.2" x2="53.6" y2="488.2" stroke="#333" stroke-width="0.9"/>
<line x1="64.0" y1="468.4" x2="64.0" y2="484.2" stroke="#7a7a7a" stroke-width="0.9"/>
<line x1="64.0" y1="495.2" x2="64.0" y2="497.3" stroke="#7a7a7a" stroke-width="0.9"/>
<rect x="59.40" y="484.20" width="9.30" height="11.00" fill="#C98BB0" stroke="#333" stroke-width="0.8"/>
<line x1="59.4" y1="490.3" x2="68.7" y2="490.3" stroke="#333" stroke-width="0.9"/>
<text x="119.9" y="448.8" font-size="11" text-anchor="middle" fill="#1a1a1a" font-style="italic">Atr</text>
<text x="119.9" y="461.3" font-size="10.5" text-anchor="middle" fill="#1a1a1a" font-weight="bold">****</text>
<line x1="102.0" y1="462.3" x2="102.0" y2="499.3" stroke="#3c3c3c" stroke-width="0.9"/>
<line x1="101.6" y1="498.9" x2="133.0" y2="498.9" stroke="#3c3c3c" stroke-width="1.25"/>
<line x1="98.3" y1="466.1" x2="102.0" y2="466.1" stroke="#555" stroke-width="0.8"/>
<text x="95.7" y="469.9" font-size="10.5" text-anchor="end" fill="#333">6</text>
<line x1="98.3" y1="476.6" x2="102.0" y2="476.6" stroke="#555" stroke-width="0.8"/>
<text x="95.7" y="480.4" font-size="10.5" text-anchor="end" fill="#333">4</text>
<line x1="98.3" y1="487.7" x2="102.0" y2="487.7" stroke="#555" stroke-width="0.8"/>
<text x="95.7" y="491.5" font-size="10.5" text-anchor="end" fill="#333">2</text>
<line x1="98.3" y1="497.7" x2="102.0" y2="497.7" stroke="#555" stroke-width="0.8"/>
<text x="95.7" y="501.5" font-size="10.5" text-anchor="end" fill="#333">0</text>
<line x1="111.1" y1="464.4" x2="111.1" y2="481.9" stroke="#555" stroke-width="0.9"/>
<line x1="111.1" y1="493.5" x2="111.1" y2="497.7" stroke="#555" stroke-width="0.9"/>
<rect x="106.70" y="481.90" width="8.80" height="11.60" fill="#7CA796" stroke="#333" stroke-width="0.8"/>
<line x1="106.7" y1="488.2" x2="115.5" y2="488.2" stroke="#333" stroke-width="0.9"/>
<line x1="125.7" y1="470.2" x2="125.7" y2="484.7" stroke="#7a7a7a" stroke-width="0.9"/>
<line x1="125.7" y1="494.7" x2="125.7" y2="497.7" stroke="#7a7a7a" stroke-width="0.9"/>
<rect x="121.30" y="484.70" width="8.70" height="10.00" fill="#C98BB0" stroke="#333" stroke-width="0.8"/>
<line x1="121.3" y1="490.0" x2="130.0" y2="490.0" stroke="#333" stroke-width="0.9"/>
<text x="181.1" y="448.8" font-size="11" text-anchor="middle" fill="#1a1a1a" font-style="italic">Znhit1</text>
<text x="180.1" y="461.3" font-size="10.5" text-anchor="middle" fill="#1a1a1a" font-weight="bold">****</text>
<line x1="169.9" y1="460.8" x2="190.3" y2="460.8" stroke="#7c7c7c" stroke-width="1.3"/>
<line x1="163.7" y1="462.3" x2="163.7" y2="499.3" stroke="#3c3c3c" stroke-width="0.9"/>
<line x1="163.3" y1="498.9" x2="196.4" y2="498.9" stroke="#3c3c3c" stroke-width="1.25"/>
<line x1="160.0" y1="471.8" x2="163.7" y2="471.8" stroke="#555" stroke-width="0.8"/>
<text x="157.4" y="475.6" font-size="10.5" text-anchor="end" fill="#333">1.0</text>
<line x1="160.0" y1="484.6" x2="163.7" y2="484.6" stroke="#555" stroke-width="0.8"/>
<text x="157.4" y="488.4" font-size="10.5" text-anchor="end" fill="#333">0.5</text>
<line x1="160.0" y1="497.3" x2="163.7" y2="497.3" stroke="#555" stroke-width="0.8"/>
<text x="157.4" y="501.1" font-size="10.5" text-anchor="end" fill="#333">0.0</text>
<line x1="173.0" y1="474.4" x2="173.0" y2="488.7" stroke="#555" stroke-width="0.9"/>
<rect x="168.40" y="488.70" width="9.20" height="8.60" fill="#7CA796" stroke="#333" stroke-width="0.8"/>
<line x1="168.4" y1="497.3" x2="177.6" y2="497.3" stroke="#333" stroke-width="0.9"/>
<line x1="187.7" y1="464.6" x2="187.7" y2="484.6" stroke="#7a7a7a" stroke-width="0.9"/>
<rect x="183.10" y="484.60" width="9.20" height="12.70" fill="#C98BB0" stroke="#333" stroke-width="0.8"/>
<line x1="183.1" y1="497.3" x2="192.3" y2="497.3" stroke="#333" stroke-width="0.9"/>
<text x="240.5" y="448.8" font-size="11" text-anchor="middle" fill="#1a1a1a" font-style="italic">Mael</text>
<text x="239.6" y="461.3" font-size="10.5" text-anchor="middle" fill="#1a1a1a" font-weight="bold">****</text>
<line x1="229.7" y1="460.8" x2="249.6" y2="460.8" stroke="#7c7c7c" stroke-width="1.3"/>
<line x1="223.6" y1="462.3" x2="223.6" y2="499.3" stroke="#3c3c3c" stroke-width="0.9"/>
<line x1="223.2" y1="498.9" x2="254.7" y2="498.9" stroke="#3c3c3c" stroke-width="1.25"/>
<line x1="219.9" y1="462.6" x2="223.6" y2="462.6" stroke="#555" stroke-width="0.8"/>
<text x="217.3" y="466.4" font-size="10.5" text-anchor="end" fill="#333">4</text>
<line x1="219.9" y1="471.2" x2="223.6" y2="471.2" stroke="#555" stroke-width="0.8"/>
<text x="217.3" y="475.0" font-size="10.5" text-anchor="end" fill="#333">3</text>
<line x1="219.9" y1="480.0" x2="223.6" y2="480.0" stroke="#555" stroke-width="0.8"/>
<text x="217.3" y="483.8" font-size="10.5" text-anchor="end" fill="#333">2</text>
<line x1="219.9" y1="488.7" x2="223.6" y2="488.7" stroke="#555" stroke-width="0.8"/>
<text x="217.3" y="492.5" font-size="10.5" text-anchor="end" fill="#333">1</text>
<line x1="219.9" y1="496.9" x2="223.6" y2="496.9" stroke="#555" stroke-width="0.8"/>
<text x="217.3" y="500.7" font-size="10.5" text-anchor="end" fill="#333">0</text>
<line x1="231.7" y1="472.4" x2="231.7" y2="487.5" stroke="#555" stroke-width="0.9"/>
<rect x="227.10" y="487.50" width="9.20" height="9.40" fill="#7CA796" stroke="#333" stroke-width="0.8"/>
<line x1="227.1" y1="492.8" x2="236.3" y2="492.8" stroke="#333" stroke-width="0.9"/>
<line x1="246.0" y1="464.6" x2="246.0" y2="484.6" stroke="#7a7a7a" stroke-width="0.9"/>
<rect x="241.40" y="484.60" width="9.20" height="12.30" fill="#C98BB0" stroke="#333" stroke-width="0.8"/>
<line x1="241.4" y1="490.8" x2="250.6" y2="490.8" stroke="#333" stroke-width="0.9"/>
<text x="303.0" y="448.8" font-size="11" text-anchor="middle" fill="#1a1a1a" font-style="italic">Msx1</text>
<text x="302.9" y="461.3" font-size="10.5" text-anchor="middle" fill="#1a1a1a" font-weight="bold">*</text>
<line x1="293.1" y1="460.8" x2="312.7" y2="460.8" stroke="#7c7c7c" stroke-width="1.3"/>
<line x1="287.6" y1="462.3" x2="287.6" y2="499.3" stroke="#3c3c3c" stroke-width="0.9"/>
<line x1="287.2" y1="498.9" x2="318.9" y2="498.9" stroke="#3c3c3c" stroke-width="1.25"/>
<line x1="283.9" y1="463.6" x2="287.6" y2="463.6" stroke="#555" stroke-width="0.8"/>
<text x="281.3" y="467.4" font-size="10.5" text-anchor="end" fill="#333">2.0</text>
<line x1="283.9" y1="472.4" x2="287.6" y2="472.4" stroke="#555" stroke-width="0.8"/>
<text x="281.3" y="476.2" font-size="10.5" text-anchor="end" fill="#333">1.5</text>
<line x1="283.9" y1="481.0" x2="287.6" y2="481.0" stroke="#555" stroke-width="0.8"/>
<text x="281.3" y="484.8" font-size="10.5" text-anchor="end" fill="#333">1.0</text>
<line x1="283.9" y1="489.5" x2="287.6" y2="489.5" stroke="#555" stroke-width="0.8"/>
<text x="281.3" y="493.3" font-size="10.5" text-anchor="end" fill="#333">0.5</text>
<line x1="283.9" y1="497.3" x2="287.6" y2="497.3" stroke="#555" stroke-width="0.8"/>
<text x="281.3" y="501.1" font-size="10.5" text-anchor="end" fill="#333">0</text>
<line x1="296.1" y1="464.6" x2="296.1" y2="485.0" stroke="#555" stroke-width="0.9"/>
<rect x="291.70" y="485.00" width="8.80" height="12.30" fill="#7CA796" stroke="#333" stroke-width="0.8"/>
<line x1="291.7" y1="493.2" x2="300.5" y2="493.2" stroke="#333" stroke-width="0.9"/>
<line x1="310.1" y1="465.6" x2="310.1" y2="485.0" stroke="#7a7a7a" stroke-width="0.9"/>
<rect x="305.40" y="485.00" width="9.40" height="12.30" fill="#C98BB0" stroke="#333" stroke-width="0.8"/>
<line x1="305.4" y1="497.3" x2="314.8" y2="497.3" stroke="#333" stroke-width="0.9"/>
<text x="367.0" y="448.8" font-size="11" text-anchor="middle" fill="#1a1a1a" font-style="italic">Msx2</text>
<text x="365.8" y="461.3" font-size="10.5" text-anchor="middle" fill="#1a1a1a" font-weight="bold">****</text>
<line x1="356.0" y1="460.8" x2="375.5" y2="460.8" stroke="#7c7c7c" stroke-width="1.3"/>
<line x1="348.3" y1="462.3" x2="348.3" y2="499.3" stroke="#3c3c3c" stroke-width="0.9"/>
<line x1="347.9" y1="498.9" x2="380.6" y2="498.9" stroke="#3c3c3c" stroke-width="1.25"/>
<line x1="344.6" y1="465.6" x2="348.3" y2="465.6" stroke="#555" stroke-width="0.8"/>
<text x="342.0" y="469.4" font-size="10.5" text-anchor="end" fill="#333">1.5</text>
<line x1="344.6" y1="475.9" x2="348.3" y2="475.9" stroke="#555" stroke-width="0.8"/>
<text x="342.0" y="479.7" font-size="10.5" text-anchor="end" fill="#333">1.0</text>
<line x1="344.6" y1="487.1" x2="348.3" y2="487.1" stroke="#555" stroke-width="0.8"/>
<text x="342.0" y="490.9" font-size="10.5" text-anchor="end" fill="#333">0.5</text>
<line x1="344.6" y1="497.3" x2="348.3" y2="497.3" stroke="#555" stroke-width="0.8"/>
<text x="342.0" y="501.1" font-size="10.5" text-anchor="end" fill="#333">0.0</text>
<line x1="357.6" y1="464.6" x2="357.6" y2="484.4" stroke="#555" stroke-width="0.9"/>
<rect x="353.00" y="484.40" width="9.20" height="12.90" fill="#7CA796" stroke="#333" stroke-width="0.8"/>
<line x1="353.0" y1="497.3" x2="362.2" y2="497.3" stroke="#333" stroke-width="0.9"/>
<line x1="371.9" y1="469.1" x2="371.9" y2="485.7" stroke="#7a7a7a" stroke-width="0.9"/>
<rect x="367.30" y="485.70" width="9.20" height="11.60" fill="#C98BB0" stroke="#333" stroke-width="0.8"/>
<line x1="367.3" y1="497.3" x2="376.5" y2="497.3" stroke="#333" stroke-width="0.9"/>
<text x="430.0" y="448.8" font-size="11" text-anchor="middle" fill="#1a1a1a" font-style="italic">Prc1</text>
<text x="428.2" y="461.3" font-size="10.5" text-anchor="middle" fill="#1a1a1a" font-weight="bold">****</text>
<line x1="418.2" y1="460.8" x2="438.3" y2="460.8" stroke="#7c7c7c" stroke-width="1.3"/>
<line x1="410.6" y1="462.3" x2="410.6" y2="499.3" stroke="#3c3c3c" stroke-width="0.9"/>
<line x1="410.2" y1="498.9" x2="442.7" y2="498.9" stroke="#3c3c3c" stroke-width="1.25"/>
<line x1="406.9" y1="463.0" x2="410.6" y2="463.0" stroke="#555" stroke-width="0.8"/>
<text x="404.3" y="466.8" font-size="10.5" text-anchor="end" fill="#333">6</text>
<line x1="406.9" y1="474.2" x2="410.6" y2="474.2" stroke="#555" stroke-width="0.8"/>
<text x="404.3" y="478.0" font-size="10.5" text-anchor="end" fill="#333">4</text>
<line x1="406.9" y1="485.9" x2="410.6" y2="485.9" stroke="#555" stroke-width="0.8"/>
<text x="404.3" y="489.7" font-size="10.5" text-anchor="end" fill="#333">2</text>
<line x1="406.9" y1="497.6" x2="410.6" y2="497.6" stroke="#555" stroke-width="0.8"/>
<text x="404.3" y="501.4" font-size="10.5" text-anchor="end" fill="#333">0</text>
<line x1="419.5" y1="464.5" x2="419.5" y2="484.2" stroke="#555" stroke-width="0.9"/>
<rect x="415.30" y="484.20" width="8.40" height="13.40" fill="#7CA796" stroke="#333" stroke-width="0.8"/>
<line x1="415.3" y1="492.2" x2="423.7" y2="492.2" stroke="#333" stroke-width="0.9"/>
<line x1="433.9" y1="479.1" x2="433.9" y2="490.3" stroke="#7a7a7a" stroke-width="0.9"/>
<line x1="433.9" y1="497.3" x2="433.9" y2="497.6" stroke="#7a7a7a" stroke-width="0.9"/>
<rect x="429.10" y="490.30" width="9.50" height="7.00" fill="#C98BB0" stroke="#333" stroke-width="0.8"/>
<line x1="429.1" y1="494.4" x2="438.6" y2="494.4" stroke="#333" stroke-width="0.9"/>
<text x="56.5" y="532.2" font-size="11" text-anchor="middle" fill="#1a1a1a" font-style="italic">Dmc1</text>
<text x="58.0" y="545.0" font-size="10.5" text-anchor="middle" fill="#1a1a1a" font-weight="bold">****</text>
<line x1="48.0" y1="546.0" x2="68.0" y2="546.0" stroke="#7c7c7c" stroke-width="1.3"/>
<line x1="39.8" y1="549.0" x2="39.8" y2="584.6" stroke="#3c3c3c" stroke-width="0.9"/>
<line x1="39.4" y1="584.2" x2="71.1" y2="584.2" stroke="#3c3c3c" stroke-width="1.25"/>
<line x1="36.1" y1="553.9" x2="39.8" y2="553.9" stroke="#555" stroke-width="0.8"/>
<text x="33.5" y="557.7" font-size="10.5" text-anchor="end" fill="#333">6</text>
<line x1="36.1" y1="564.1" x2="39.8" y2="564.1" stroke="#555" stroke-width="0.8"/>
<text x="33.5" y="567.9" font-size="10.5" text-anchor="end" fill="#333">4</text>
<line x1="36.1" y1="574.3" x2="39.8" y2="574.3" stroke="#555" stroke-width="0.8"/>
<text x="33.5" y="578.1" font-size="10.5" text-anchor="end" fill="#333">2</text>
<line x1="36.1" y1="583.3" x2="39.8" y2="583.3" stroke="#555" stroke-width="0.8"/>
<text x="33.5" y="587.1" font-size="10.5" text-anchor="end" fill="#333">0</text>
<line x1="48.1" y1="550.2" x2="48.1" y2="569.6" stroke="#555" stroke-width="0.9"/>
<line x1="48.1" y1="582.5" x2="48.1" y2="583.3" stroke="#555" stroke-width="0.9"/>
<rect x="43.50" y="569.60" width="9.20" height="12.90" fill="#7CA796" stroke="#333" stroke-width="0.8"/>
<line x1="43.5" y1="577.2" x2="52.7" y2="577.2" stroke="#333" stroke-width="0.9"/>
<line x1="62.4" y1="554.3" x2="62.4" y2="571.7" stroke="#7a7a7a" stroke-width="0.9"/>
<line x1="62.4" y1="582.9" x2="62.4" y2="583.3" stroke="#7a7a7a" stroke-width="0.9"/>
<rect x="57.80" y="571.70" width="9.20" height="11.20" fill="#C98BB0" stroke="#333" stroke-width="0.8"/>
<line x1="57.8" y1="578.2" x2="67.0" y2="578.2" stroke="#333" stroke-width="0.9"/>
<text x="120.8" y="532.2" font-size="11" text-anchor="middle" fill="#1a1a1a" font-style="italic">Spo11</text>
<text x="121.2" y="545.0" font-size="10.5" text-anchor="middle" fill="#1a1a1a" font-weight="bold">****</text>
<line x1="110.9" y1="546.0" x2="131.4" y2="546.0" stroke="#7c7c7c" stroke-width="1.3"/>
<line x1="103.8" y1="549.0" x2="103.8" y2="584.6" stroke="#3c3c3c" stroke-width="0.9"/>
<line x1="103.4" y1="584.2" x2="135.5" y2="584.2" stroke="#3c3c3c" stroke-width="1.25"/>
<line x1="100.1" y1="549.2" x2="103.8" y2="549.2" stroke="#555" stroke-width="0.8"/>
<text x="94.2" y="553.0" font-size="10.5" text-anchor="end" fill="#333">1.25</text>
<line x1="100.1" y1="555.9" x2="103.8" y2="555.9" stroke="#555" stroke-width="0.8"/>
<text x="94.2" y="559.7" font-size="10.5" text-anchor="end" fill="#333">1.00</text>
<line x1="100.1" y1="562.5" x2="103.8" y2="562.5" stroke="#555" stroke-width="0.8"/>
<text x="94.2" y="566.3" font-size="10.5" text-anchor="end" fill="#333">0.75</text>
<line x1="100.1" y1="569.6" x2="103.8" y2="569.6" stroke="#555" stroke-width="0.8"/>
<text x="94.2" y="573.4" font-size="10.5" text-anchor="end" fill="#333">0.50</text>
<line x1="100.1" y1="576.4" x2="103.8" y2="576.4" stroke="#555" stroke-width="0.8"/>
<text x="94.2" y="580.2" font-size="10.5" text-anchor="end" fill="#333">0.25</text>
<line x1="100.1" y1="583.3" x2="103.8" y2="583.3" stroke="#555" stroke-width="0.8"/>
<text x="94.2" y="587.1" font-size="10.5" text-anchor="end" fill="#333">0.00</text>
<line x1="113.0" y1="549.8" x2="113.0" y2="570.0" stroke="#555" stroke-width="0.9"/>
<rect x="108.30" y="570.00" width="9.40" height="13.30" fill="#7CA796" stroke="#333" stroke-width="0.8"/>
<line x1="108.3" y1="583.3" x2="117.7" y2="583.3" stroke="#333" stroke-width="0.9"/>
<line x1="127.6" y1="560.0" x2="127.6" y2="574.3" stroke="#7a7a7a" stroke-width="0.9"/>
<rect x="123.20" y="574.30" width="8.80" height="9.00" fill="#C98BB0" stroke="#333" stroke-width="0.8"/>
<line x1="123.2" y1="583.3" x2="132.0" y2="583.3" stroke="#333" stroke-width="0.9"/>
<text x="174.8" y="532.2" font-size="11" text-anchor="middle" fill="#1a1a1a" font-style="italic">Rad51</text>
<text x="174.0" y="545.0" font-size="10.5" text-anchor="middle" fill="#1a1a1a" font-weight="bold">****</text>
<line x1="164.1" y1="546.0" x2="183.9" y2="546.0" stroke="#7c7c7c" stroke-width="1.3"/>
<line x1="158.0" y1="549.0" x2="158.0" y2="584.6" stroke="#3c3c3c" stroke-width="0.9"/>
<line x1="157.6" y1="584.2" x2="188.0" y2="584.2" stroke="#3c3c3c" stroke-width="1.25"/>
<line x1="154.3" y1="551.7" x2="158.0" y2="551.7" stroke="#555" stroke-width="0.8"/>
<text x="151.7" y="555.5" font-size="10.5" text-anchor="end" fill="#333">4</text>
<line x1="154.3" y1="559.2" x2="158.0" y2="559.2" stroke="#555" stroke-width="0.8"/>
<text x="151.7" y="563.0" font-size="10.5" text-anchor="end" fill="#333">3</text>
<line x1="154.3" y1="567.0" x2="158.0" y2="567.0" stroke="#555" stroke-width="0.8"/>
<text x="151.7" y="570.8" font-size="10.5" text-anchor="end" fill="#333">2</text>
<line x1="154.3" y1="573.5" x2="158.0" y2="573.5" stroke="#555" stroke-width="0.8"/>
<text x="151.7" y="577.3" font-size="10.5" text-anchor="end" fill="#333">1</text>
<line x1="154.3" y1="581.7" x2="158.0" y2="581.7" stroke="#555" stroke-width="0.8"/>
<text x="151.7" y="585.5" font-size="10.5" text-anchor="end" fill="#333">0</text>
<line x1="166.6" y1="549.0" x2="166.6" y2="566.6" stroke="#555" stroke-width="0.9"/>
<line x1="166.6" y1="578.2" x2="166.6" y2="580.9" stroke="#555" stroke-width="0.9"/>
<rect x="162.50" y="566.60" width="8.20" height="11.60" fill="#7CA796" stroke="#333" stroke-width="0.8"/>
<line x1="162.5" y1="572.7" x2="170.7" y2="572.7" stroke="#333" stroke-width="0.9"/>
<line x1="180.9" y1="552.3" x2="180.9" y2="568.6" stroke="#7a7a7a" stroke-width="0.9"/>
<line x1="180.9" y1="579.7" x2="180.9" y2="581.7" stroke="#7a7a7a" stroke-width="0.9"/>
<rect x="176.40" y="568.60" width="9.00" height="11.10" fill="#C98BB0" stroke="#333" stroke-width="0.8"/>
<line x1="176.4" y1="574.8" x2="185.4" y2="574.8" stroke="#333" stroke-width="0.9"/>
<text x="242.0" y="532.2" font-size="11" text-anchor="middle" fill="#1a1a1a" font-style="italic">Mlh1</text>
<text x="241.2" y="543.1" font-size="11" text-anchor="middle" fill="#1a1a1a">ns</text>
<line x1="230.9" y1="546.0" x2="251.4" y2="546.0" stroke="#7c7c7c" stroke-width="1.3"/>
<line x1="226.9" y1="549.0" x2="226.9" y2="584.6" stroke="#3c3c3c" stroke-width="0.9"/>
<line x1="226.5" y1="584.2" x2="256.5" y2="584.2" stroke="#3c3c3c" stroke-width="1.25"/>
<line x1="223.2" y1="556.4" x2="226.9" y2="556.4" stroke="#555" stroke-width="0.8"/>
<text x="220.6" y="560.2" font-size="10.5" text-anchor="end" fill="#333">0.9</text>
<line x1="223.2" y1="564.6" x2="226.9" y2="564.6" stroke="#555" stroke-width="0.8"/>
<text x="220.6" y="568.4" font-size="10.5" text-anchor="end" fill="#333">0.6</text>
<line x1="223.2" y1="573.5" x2="226.9" y2="573.5" stroke="#555" stroke-width="0.8"/>
<text x="220.6" y="577.3" font-size="10.5" text-anchor="end" fill="#333">0.3</text>
<line x1="223.2" y1="582.3" x2="226.9" y2="582.3" stroke="#555" stroke-width="0.8"/>
<text x="220.6" y="586.1" font-size="10.5" text-anchor="end" fill="#333">0.0</text>
<line x1="234.1" y1="548.6" x2="234.1" y2="569.0" stroke="#555" stroke-width="0.9"/>
<rect x="229.50" y="569.00" width="9.20" height="13.30" fill="#7CA796" stroke="#333" stroke-width="0.8"/>
<line x1="229.5" y1="582.3" x2="238.7" y2="582.3" stroke="#333" stroke-width="0.9"/>
<line x1="248.1" y1="551.1" x2="248.1" y2="570.1" stroke="#7a7a7a" stroke-width="0.9"/>
<rect x="243.80" y="570.10" width="8.60" height="12.20" fill="#C98BB0" stroke="#333" stroke-width="0.8"/>
<line x1="243.8" y1="582.3" x2="252.4" y2="582.3" stroke="#333" stroke-width="0.9"/>
<text x="303.0" y="532.2" font-size="11" text-anchor="middle" fill="#1a1a1a" font-style="italic">Mlh3</text>
<text x="303.1" y="545.0" font-size="10.5" text-anchor="middle" fill="#1a1a1a" font-weight="bold">****</text>
<line x1="292.9" y1="546.0" x2="313.3" y2="546.0" stroke="#7c7c7c" stroke-width="1.3"/>
<line x1="287.4" y1="549.0" x2="287.4" y2="584.6" stroke="#3c3c3c" stroke-width="0.9"/>
<line x1="287.0" y1="584.2" x2="318.0" y2="584.2" stroke="#3c3c3c" stroke-width="1.25"/>
<line x1="283.7" y1="557.2" x2="287.4" y2="557.2" stroke="#555" stroke-width="0.8"/>
<text x="281.1" y="561.0" font-size="10.5" text-anchor="end" fill="#333">1.0</text>
<line x1="283.7" y1="569.5" x2="287.4" y2="569.5" stroke="#555" stroke-width="0.8"/>
<text x="281.1" y="573.3" font-size="10.5" text-anchor="end" fill="#333">0.5</text>
<line x1="283.7" y1="581.7" x2="287.4" y2="581.7" stroke="#555" stroke-width="0.8"/>
<text x="281.1" y="585.5" font-size="10.5" text-anchor="end" fill="#333">0.0</text>
<line x1="296.1" y1="549.0" x2="296.1" y2="569.0" stroke="#555" stroke-width="0.9"/>
<rect x="291.50" y="569.00" width="9.20" height="12.70" fill="#7CA796" stroke="#333" stroke-width="0.8"/>
<line x1="291.5" y1="581.7" x2="300.7" y2="581.7" stroke="#333" stroke-width="0.9"/>
<line x1="309.9" y1="562.9" x2="309.9" y2="574.2" stroke="#7a7a7a" stroke-width="0.9"/>
<rect x="305.20" y="574.20" width="9.40" height="7.50" fill="#C98BB0" stroke="#333" stroke-width="0.8"/>
<line x1="305.2" y1="581.7" x2="314.6" y2="581.7" stroke="#333" stroke-width="0.9"/>
<text x="364.5" y="532.2" font-size="11" text-anchor="middle" fill="#1a1a1a" font-style="italic">Rnf212</text>
<text x="364.2" y="545.0" font-size="10.5" text-anchor="middle" fill="#1a1a1a" font-weight="bold">****</text>
<line x1="354.2" y1="546.0" x2="374.2" y2="546.0" stroke="#7c7c7c" stroke-width="1.3"/>
<line x1="348.7" y1="549.0" x2="348.7" y2="584.6" stroke="#3c3c3c" stroke-width="0.9"/>
<line x1="348.3" y1="584.2" x2="379.3" y2="584.2" stroke="#3c3c3c" stroke-width="1.25"/>
<line x1="345.0" y1="548.6" x2="348.7" y2="548.6" stroke="#555" stroke-width="0.8"/>
<text x="342.4" y="552.4" font-size="10.5" text-anchor="end" fill="#333">0.8</text>
<line x1="345.0" y1="556.8" x2="348.7" y2="556.8" stroke="#555" stroke-width="0.8"/>
<text x="342.4" y="560.6" font-size="10.5" text-anchor="end" fill="#333">0.6</text>
<line x1="345.0" y1="565.4" x2="348.7" y2="565.4" stroke="#555" stroke-width="0.8"/>
<text x="342.4" y="569.2" font-size="10.5" text-anchor="end" fill="#333">0.4</text>
<line x1="345.0" y1="573.5" x2="348.7" y2="573.5" stroke="#555" stroke-width="0.8"/>
<text x="342.4" y="577.3" font-size="10.5" text-anchor="end" fill="#333">0.2</text>
<line x1="345.0" y1="581.7" x2="348.7" y2="581.7" stroke="#555" stroke-width="0.8"/>
<text x="342.4" y="585.5" font-size="10.5" text-anchor="end" fill="#333">0.0</text>
<line x1="353.4" y1="581.7" x2="361.6" y2="581.7" stroke="#333" stroke-width="0.9"/>
<line x1="372.2" y1="549.0" x2="372.2" y2="569.0" stroke="#7a7a7a" stroke-width="0.9"/>
<rect x="367.70" y="569.00" width="9.00" height="12.70" fill="#C98BB0" stroke="#333" stroke-width="0.8"/>
<line x1="367.7" y1="581.7" x2="376.7" y2="581.7" stroke="#333" stroke-width="0.9"/>
<text x="427.0" y="532.2" font-size="11" text-anchor="middle" fill="#1a1a1a" font-style="italic">Msh4</text>
<text x="426.0" y="543.1" font-size="11" text-anchor="middle" fill="#1a1a1a">ns</text>
<line x1="416.1" y1="546.0" x2="435.8" y2="546.0" stroke="#7c7c7c" stroke-width="1.3"/>
<line x1="411.3" y1="549.0" x2="411.3" y2="584.6" stroke="#3c3c3c" stroke-width="0.9"/>
<line x1="410.9" y1="584.2" x2="442.8" y2="584.2" stroke="#3c3c3c" stroke-width="1.25"/>
<line x1="407.6" y1="552.2" x2="411.3" y2="552.2" stroke="#555" stroke-width="0.8"/>
<text x="405.0" y="556.0" font-size="10.5" text-anchor="end" fill="#333">1.5</text>
<line x1="407.6" y1="562.0" x2="411.3" y2="562.0" stroke="#555" stroke-width="0.8"/>
<text x="405.0" y="565.8" font-size="10.5" text-anchor="end" fill="#333">1.0</text>
<line x1="407.6" y1="572.3" x2="411.3" y2="572.3" stroke="#555" stroke-width="0.8"/>
<text x="405.0" y="576.1" font-size="10.5" text-anchor="end" fill="#333">0.5</text>
<line x1="407.6" y1="582.0" x2="411.3" y2="582.0" stroke="#555" stroke-width="0.8"/>
<text x="405.0" y="585.8" font-size="10.5" text-anchor="end" fill="#333">0.0</text>
<line x1="419.8" y1="549.2" x2="419.8" y2="569.3" stroke="#555" stroke-width="0.9"/>
<rect x="415.50" y="569.30" width="8.50" height="12.70" fill="#7CA796" stroke="#333" stroke-width="0.8"/>
<line x1="415.5" y1="582.0" x2="424.0" y2="582.0" stroke="#333" stroke-width="0.9"/>
<line x1="434.1" y1="550.2" x2="434.1" y2="569.7" stroke="#7a7a7a" stroke-width="0.9"/>
<rect x="429.70" y="569.70" width="8.80" height="12.30" fill="#C98BB0" stroke="#333" stroke-width="0.8"/>
<line x1="429.7" y1="582.0" x2="438.5" y2="582.0" stroke="#333" stroke-width="0.9"/>
<text x="57.6" y="596.0" font-size="11" text-anchor="middle" fill="#1a1a1a" font-style="italic">Hormad1</text>
<text x="56.4" y="609.5" font-size="10.5" text-anchor="middle" fill="#1a1a1a" font-weight="bold">****</text>
<line x1="46.2" y1="610.5" x2="66.6" y2="610.5" stroke="#7c7c7c" stroke-width="1.3"/>
<line x1="40.4" y1="611.5" x2="40.4" y2="648.4" stroke="#3c3c3c" stroke-width="0.9"/>
<line x1="40.0" y1="648.0" x2="72.7" y2="648.0" stroke="#3c3c3c" stroke-width="1.25"/>
<line x1="36.7" y1="617.7" x2="40.4" y2="617.7" stroke="#555" stroke-width="0.8"/>
<text x="34.1" y="621.5" font-size="10.5" text-anchor="end" fill="#333">6</text>
<line x1="36.7" y1="627.5" x2="40.4" y2="627.5" stroke="#555" stroke-width="0.8"/>
<text x="34.1" y="631.3" font-size="10.5" text-anchor="end" fill="#333">4</text>
<line x1="36.7" y1="636.5" x2="40.4" y2="636.5" stroke="#555" stroke-width="0.8"/>
<text x="34.1" y="640.3" font-size="10.5" text-anchor="end" fill="#333">2</text>
<line x1="36.7" y1="645.9" x2="40.4" y2="645.9" stroke="#555" stroke-width="0.8"/>
<text x="34.1" y="649.7" font-size="10.5" text-anchor="end" fill="#333">0</text>
<line x1="49.3" y1="612.6" x2="49.3" y2="631.6" stroke="#555" stroke-width="0.9"/>
<line x1="49.3" y1="644.3" x2="49.3" y2="645.9" stroke="#555" stroke-width="0.9"/>
<rect x="44.90" y="631.60" width="8.80" height="12.70" fill="#7CA796" stroke="#333" stroke-width="0.8"/>
<line x1="44.9" y1="638.5" x2="53.7" y2="638.5" stroke="#333" stroke-width="0.9"/>
<line x1="63.9" y1="617.3" x2="63.9" y2="634.5" stroke="#7a7a7a" stroke-width="0.9"/>
<rect x="59.20" y="634.50" width="9.40" height="11.80" fill="#C98BB0" stroke="#333" stroke-width="0.8"/>
<line x1="59.2" y1="640.6" x2="68.6" y2="640.6" stroke="#333" stroke-width="0.9"/>
<text x="117.0" y="596.0" font-size="11" text-anchor="middle" fill="#1a1a1a" font-style="italic">Mei1</text>
<text x="118.1" y="609.5" font-size="10.5" text-anchor="middle" fill="#1a1a1a" font-weight="bold">****</text>
<line x1="108.3" y1="610.5" x2="127.9" y2="610.5" stroke="#7c7c7c" stroke-width="1.3"/>
<line x1="106.9" y1="611.5" x2="106.9" y2="648.4" stroke="#3c3c3c" stroke-width="0.9"/>
<line x1="106.5" y1="648.0" x2="137.5" y2="648.0" stroke="#3c3c3c" stroke-width="1.25"/>
<line x1="103.2" y1="611.6" x2="106.9" y2="611.6" stroke="#555" stroke-width="0.8"/>
<text x="100.6" y="615.4" font-size="10.5" text-anchor="end" fill="#333">0.5</text>
<line x1="103.2" y1="618.7" x2="106.9" y2="618.7" stroke="#555" stroke-width="0.8"/>
<text x="100.6" y="622.5" font-size="10.5" text-anchor="end" fill="#333">0.4</text>
<line x1="103.2" y1="625.5" x2="106.9" y2="625.5" stroke="#555" stroke-width="0.8"/>
<text x="100.6" y="629.3" font-size="10.5" text-anchor="end" fill="#333">0.3</text>
<line x1="103.2" y1="632.4" x2="106.9" y2="632.4" stroke="#555" stroke-width="0.8"/>
<text x="100.6" y="636.2" font-size="10.5" text-anchor="end" fill="#333">0.2</text>
<line x1="103.2" y1="639.2" x2="106.9" y2="639.2" stroke="#555" stroke-width="0.8"/>
<text x="100.6" y="643.0" font-size="10.5" text-anchor="end" fill="#333">0.1</text>
<line x1="103.2" y1="645.9" x2="106.9" y2="645.9" stroke="#555" stroke-width="0.8"/>
<text x="100.6" y="649.7" font-size="10.5" text-anchor="end" fill="#333">0.0</text>
<line x1="111.0" y1="645.9" x2="119.7" y2="645.9" stroke="#333" stroke-width="0.9"/>
<line x1="129.8" y1="612.6" x2="129.8" y2="633.0" stroke="#7a7a7a" stroke-width="0.9"/>
<rect x="125.30" y="633.00" width="9.10" height="12.90" fill="#C98BB0" stroke="#333" stroke-width="0.8"/>
<line x1="125.3" y1="645.9" x2="134.4" y2="645.9" stroke="#333" stroke-width="0.9"/>
<text x="179.2" y="596.0" font-size="11" text-anchor="middle" fill="#1a1a1a" font-style="italic">Piwil2</text>
<text x="179.0" y="609.5" font-size="10.5" text-anchor="middle" fill="#1a1a1a" font-weight="bold">****</text>
<line x1="169.0" y1="610.5" x2="189.0" y2="610.5" stroke="#7c7c7c" stroke-width="1.3"/>
<line x1="162.5" y1="611.5" x2="162.5" y2="648.4" stroke="#3c3c3c" stroke-width="0.9"/>
<line x1="162.1" y1="648.0" x2="193.5" y2="648.0" stroke="#3c3c3c" stroke-width="1.25"/>
<line x1="158.8" y1="618.1" x2="162.5" y2="618.1" stroke="#555" stroke-width="0.8"/>
<text x="156.2" y="621.9" font-size="10.5" text-anchor="end" fill="#333">3</text>
<line x1="158.8" y1="627.9" x2="162.5" y2="627.9" stroke="#555" stroke-width="0.8"/>
<text x="156.2" y="631.7" font-size="10.5" text-anchor="end" fill="#333">2</text>
<line x1="158.8" y1="637.1" x2="162.5" y2="637.1" stroke="#555" stroke-width="0.8"/>
<text x="156.2" y="640.9" font-size="10.5" text-anchor="end" fill="#333">1</text>
<line x1="158.8" y1="645.9" x2="162.5" y2="645.9" stroke="#555" stroke-width="0.8"/>
<text x="156.2" y="649.7" font-size="10.5" text-anchor="end" fill="#333">0</text>
<line x1="171.2" y1="613.2" x2="171.2" y2="632.0" stroke="#555" stroke-width="0.9"/>
<line x1="171.2" y1="644.7" x2="171.2" y2="645.9" stroke="#555" stroke-width="0.9"/>
<rect x="166.60" y="632.00" width="9.20" height="12.70" fill="#7CA796" stroke="#333" stroke-width="0.8"/>
<line x1="166.6" y1="638.5" x2="175.8" y2="638.5" stroke="#333" stroke-width="0.9"/>
<line x1="185.7" y1="615.7" x2="185.7" y2="634.0" stroke="#7a7a7a" stroke-width="0.9"/>
<rect x="181.30" y="634.00" width="8.80" height="11.90" fill="#C98BB0" stroke="#333" stroke-width="0.8"/>
<line x1="181.3" y1="640.2" x2="190.1" y2="640.2" stroke="#333" stroke-width="0.9"/>
<text x="240.0" y="596.0" font-size="11" text-anchor="middle" fill="#1a1a1a" font-style="italic">Hormad2</text>
<text x="238.3" y="609.5" font-size="10.5" text-anchor="middle" fill="#1a1a1a" font-weight="bold">****</text>
<line x1="228.3" y1="610.5" x2="248.3" y2="610.5" stroke="#7c7c7c" stroke-width="1.3"/>
<line x1="223.4" y1="611.5" x2="223.4" y2="648.4" stroke="#3c3c3c" stroke-width="0.9"/>
<line x1="223.0" y1="648.0" x2="254.5" y2="648.0" stroke="#3c3c3c" stroke-width="1.25"/>
<line x1="219.7" y1="620.8" x2="223.4" y2="620.8" stroke="#555" stroke-width="0.8"/>
<text x="217.1" y="624.6" font-size="10.5" text-anchor="end" fill="#333">6</text>
<line x1="219.7" y1="629.6" x2="223.4" y2="629.6" stroke="#555" stroke-width="0.8"/>
<text x="217.1" y="633.4" font-size="10.5" text-anchor="end" fill="#333">4</text>
<line x1="219.7" y1="637.7" x2="223.4" y2="637.7" stroke="#555" stroke-width="0.8"/>
<text x="217.1" y="641.5" font-size="10.5" text-anchor="end" fill="#333">2</text>
<line x1="219.7" y1="645.9" x2="223.4" y2="645.9" stroke="#555" stroke-width="0.8"/>
<text x="217.1" y="649.7" font-size="10.5" text-anchor="end" fill="#333">0</text>
<line x1="232.0" y1="613.2" x2="232.0" y2="631.6" stroke="#555" stroke-width="0.9"/>
<line x1="232.0" y1="644.7" x2="232.0" y2="645.9" stroke="#555" stroke-width="0.9"/>
<rect x="227.50" y="631.60" width="9.00" height="13.10" fill="#7CA796" stroke="#333" stroke-width="0.8"/>
<line x1="227.5" y1="639.2" x2="236.5" y2="639.2" stroke="#333" stroke-width="0.9"/>
<line x1="246.5" y1="618.1" x2="246.5" y2="634.0" stroke="#7a7a7a" stroke-width="0.9"/>
<line x1="246.5" y1="645.3" x2="246.5" y2="645.9" stroke="#7a7a7a" stroke-width="0.9"/>
<rect x="242.20" y="634.00" width="8.60" height="11.30" fill="#C98BB0" stroke="#333" stroke-width="0.8"/>
<line x1="242.2" y1="640.6" x2="250.8" y2="640.6" stroke="#333" stroke-width="0.9"/>
<text x="299.9" y="596.0" font-size="11" text-anchor="middle" fill="#1a1a1a" font-style="italic">Rpa1</text>
<text x="299.9" y="609.5" font-size="10.5" text-anchor="middle" fill="#1a1a1a" font-weight="bold">*</text>
<line x1="289.6" y1="610.5" x2="310.1" y2="610.5" stroke="#7c7c7c" stroke-width="1.3"/>
<line x1="284.5" y1="611.5" x2="284.5" y2="648.4" stroke="#3c3c3c" stroke-width="0.9"/>
<line x1="284.1" y1="648.0" x2="315.6" y2="648.0" stroke="#3c3c3c" stroke-width="1.25"/>
<line x1="280.8" y1="620.8" x2="284.5" y2="620.8" stroke="#555" stroke-width="0.8"/>
<text x="278.2" y="624.6" font-size="10.5" text-anchor="end" fill="#333">2</text>
<line x1="280.8" y1="633.4" x2="284.5" y2="633.4" stroke="#555" stroke-width="0.8"/>
<text x="278.2" y="637.2" font-size="10.5" text-anchor="end" fill="#333">1</text>
<line x1="280.8" y1="645.9" x2="284.5" y2="645.9" stroke="#555" stroke-width="0.8"/>
<text x="278.2" y="649.7" font-size="10.5" text-anchor="end" fill="#333">0</text>
<line x1="293.0" y1="613.2" x2="293.0" y2="633.4" stroke="#555" stroke-width="0.9"/>
<rect x="288.60" y="633.40" width="8.80" height="12.50" fill="#7CA796" stroke="#333" stroke-width="0.8"/>
<line x1="288.6" y1="639.8" x2="297.4" y2="639.8" stroke="#333" stroke-width="0.9"/>
<line x1="307.3" y1="614.0" x2="307.3" y2="633.4" stroke="#7a7a7a" stroke-width="0.9"/>
<rect x="302.90" y="633.40" width="8.80" height="12.50" fill="#C98BB0" stroke="#333" stroke-width="0.8"/>
<line x1="302.9" y1="639.8" x2="311.7" y2="639.8" stroke="#333" stroke-width="0.9"/>
<text x="362.0" y="596.0" font-size="11" text-anchor="middle" fill="#1a1a1a" font-style="italic">Rpa2</text>
<text x="360.1" y="609.5" font-size="10.5" text-anchor="middle" fill="#1a1a1a" font-weight="bold">*</text>
<line x1="349.9" y1="610.5" x2="370.4" y2="610.5" stroke="#7c7c7c" stroke-width="1.3"/>
<line x1="345.4" y1="611.5" x2="345.4" y2="648.4" stroke="#3c3c3c" stroke-width="0.9"/>
<line x1="345.0" y1="648.0" x2="376.5" y2="648.0" stroke="#3c3c3c" stroke-width="1.25"/>
<line x1="341.7" y1="616.1" x2="345.4" y2="616.1" stroke="#555" stroke-width="0.8"/>
<text x="339.1" y="619.9" font-size="10.5" text-anchor="end" fill="#333">4</text>
<line x1="341.7" y1="623.4" x2="345.4" y2="623.4" stroke="#555" stroke-width="0.8"/>
<text x="339.1" y="627.2" font-size="10.5" text-anchor="end" fill="#333">3</text>
<line x1="341.7" y1="631.0" x2="345.4" y2="631.0" stroke="#555" stroke-width="0.8"/>
<text x="339.1" y="634.8" font-size="10.5" text-anchor="end" fill="#333">2</text>
<line x1="341.7" y1="638.5" x2="345.4" y2="638.5" stroke="#555" stroke-width="0.8"/>
<text x="339.1" y="642.3" font-size="10.5" text-anchor="end" fill="#333">1</text>
<line x1="341.7" y1="645.9" x2="345.4" y2="645.9" stroke="#555" stroke-width="0.8"/>
<text x="339.1" y="649.7" font-size="10.5" text-anchor="end" fill="#333">0</text>
<line x1="354.0" y1="615.2" x2="354.0" y2="632.0" stroke="#555" stroke-width="0.9"/>
<line x1="354.0" y1="643.2" x2="354.0" y2="645.9" stroke="#555" stroke-width="0.9"/>
<rect x="349.50" y="632.00" width="9.00" height="11.20" fill="#7CA796" stroke="#333" stroke-width="0.8"/>
<line x1="349.5" y1="637.1" x2="358.5" y2="637.1" stroke="#333" stroke-width="0.9"/>
<line x1="368.3" y1="613.2" x2="368.3" y2="630.4" stroke="#7a7a7a" stroke-width="0.9"/>
<line x1="368.3" y1="642.2" x2="368.3" y2="645.9" stroke="#7a7a7a" stroke-width="0.9"/>
<rect x="363.80" y="630.40" width="9.00" height="11.80" fill="#C98BB0" stroke="#333" stroke-width="0.8"/>
<line x1="363.8" y1="636.7" x2="372.8" y2="636.7" stroke="#333" stroke-width="0.9"/>
<text x="427.0" y="596.0" font-size="11" text-anchor="middle" fill="#1a1a1a" font-style="italic">Blm</text>
<text x="427.4" y="609.5" font-size="10.5" text-anchor="middle" fill="#1a1a1a" font-weight="bold">****</text>
<line x1="417.1" y1="610.5" x2="437.6" y2="610.5" stroke="#7c7c7c" stroke-width="1.3"/>
<line x1="410.9" y1="611.5" x2="410.9" y2="648.4" stroke="#3c3c3c" stroke-width="0.9"/>
<line x1="410.5" y1="648.0" x2="443.7" y2="648.0" stroke="#3c3c3c" stroke-width="1.25"/>
<line x1="407.2" y1="612.9" x2="410.9" y2="612.9" stroke="#555" stroke-width="0.8"/>
<text x="404.6" y="616.7" font-size="10.5" text-anchor="end" fill="#333">4</text>
<line x1="407.2" y1="621.5" x2="410.9" y2="621.5" stroke="#555" stroke-width="0.8"/>
<text x="404.6" y="625.3" font-size="10.5" text-anchor="end" fill="#333">3</text>
<line x1="407.2" y1="630.3" x2="410.9" y2="630.3" stroke="#555" stroke-width="0.8"/>
<text x="404.6" y="634.1" font-size="10.5" text-anchor="end" fill="#333">2</text>
<line x1="407.2" y1="638.2" x2="410.9" y2="638.2" stroke="#555" stroke-width="0.8"/>
<text x="404.6" y="642.0" font-size="10.5" text-anchor="end" fill="#333">1</text>
<line x1="407.2" y1="646.5" x2="410.9" y2="646.5" stroke="#555" stroke-width="0.8"/>
<text x="404.6" y="650.3" font-size="10.5" text-anchor="end" fill="#333">0</text>
<line x1="419.9" y1="613.3" x2="419.9" y2="631.3" stroke="#555" stroke-width="0.9"/>
<line x1="419.9" y1="643.5" x2="419.9" y2="646.5" stroke="#555" stroke-width="0.9"/>
<rect x="415.20" y="631.30" width="9.50" height="12.20" fill="#7CA796" stroke="#333" stroke-width="0.8"/>
<line x1="415.2" y1="637.8" x2="424.7" y2="637.8" stroke="#333" stroke-width="0.9"/>
<line x1="435.0" y1="617.9" x2="435.0" y2="634.9" stroke="#7a7a7a" stroke-width="0.9"/>
<rect x="430.20" y="634.90" width="9.60" height="11.60" fill="#C98BB0" stroke="#333" stroke-width="0.8"/>
<line x1="430.2" y1="640.5" x2="439.8" y2="640.5" stroke="#333" stroke-width="0.9"/>
<text x="57.8" y="679.5" font-size="11" text-anchor="middle" fill="#1a1a1a" font-style="italic">Syce1</text>
<text x="56.6" y="690.2" font-size="11" text-anchor="middle" fill="#1a1a1a">ns</text>
<line x1="46.6" y1="692.8" x2="66.6" y2="692.8" stroke="#7c7c7c" stroke-width="1.3"/>
<line x1="40.4" y1="693.7" x2="40.4" y2="730.6" stroke="#3c3c3c" stroke-width="0.9"/>
<line x1="40.0" y1="730.2" x2="72.1" y2="730.2" stroke="#3c3c3c" stroke-width="1.25"/>
<line x1="36.7" y1="699.2" x2="40.4" y2="699.2" stroke="#555" stroke-width="0.8"/>
<text x="34.1" y="703.0" font-size="10.5" text-anchor="end" fill="#333">3</text>
<line x1="36.7" y1="708.8" x2="40.4" y2="708.8" stroke="#555" stroke-width="0.8"/>
<text x="34.1" y="712.6" font-size="10.5" text-anchor="end" fill="#333">2</text>
<line x1="36.7" y1="718.6" x2="40.4" y2="718.6" stroke="#555" stroke-width="0.8"/>
<text x="34.1" y="722.4" font-size="10.5" text-anchor="end" fill="#333">1</text>
<line x1="36.7" y1="728.4" x2="40.4" y2="728.4" stroke="#555" stroke-width="0.8"/>
<text x="34.1" y="732.2" font-size="10.5" text-anchor="end" fill="#333">0</text>
<line x1="49.3" y1="696.1" x2="49.3" y2="715.5" stroke="#555" stroke-width="0.9"/>
<rect x="44.90" y="715.50" width="8.80" height="13.30" fill="#7CA796" stroke="#333" stroke-width="0.8"/>
<line x1="44.9" y1="723.1" x2="53.7" y2="723.1" stroke="#333" stroke-width="0.9"/>
<line x1="63.4" y1="696.5" x2="63.4" y2="716.2" stroke="#7a7a7a" stroke-width="0.9"/>
<rect x="58.80" y="716.20" width="9.20" height="12.60" fill="#C98BB0" stroke="#333" stroke-width="0.8"/>
<line x1="58.8" y1="723.1" x2="68.0" y2="723.1" stroke="#333" stroke-width="0.9"/>
<text x="126.3" y="679.5" font-size="11" text-anchor="middle" fill="#1a1a1a" font-style="italic">Syce2</text>
<text x="126.0" y="692.1" font-size="10.5" text-anchor="middle" fill="#1a1a1a" font-weight="bold">****</text>
<line x1="116.0" y1="692.8" x2="136.0" y2="692.8" stroke="#7c7c7c" stroke-width="1.3"/>
<line x1="109.9" y1="693.7" x2="109.9" y2="730.6" stroke="#3c3c3c" stroke-width="0.9"/>
<line x1="109.5" y1="730.2" x2="142.6" y2="730.2" stroke="#3c3c3c" stroke-width="1.25"/>
<line x1="106.2" y1="698.2" x2="109.9" y2="698.2" stroke="#555" stroke-width="0.8"/>
<text x="103.6" y="702.0" font-size="10.5" text-anchor="end" fill="#333">10.0</text>
<line x1="106.2" y1="704.3" x2="109.9" y2="704.3" stroke="#555" stroke-width="0.8"/>
<text x="103.6" y="708.1" font-size="10.5" text-anchor="end" fill="#333">7.5</text>
<line x1="106.2" y1="712.5" x2="109.9" y2="712.5" stroke="#555" stroke-width="0.8"/>
<text x="103.6" y="716.3" font-size="10.5" text-anchor="end" fill="#333">5.0</text>
<line x1="106.2" y1="720.7" x2="109.9" y2="720.7" stroke="#555" stroke-width="0.8"/>
<text x="103.6" y="724.5" font-size="10.5" text-anchor="end" fill="#333">2.5</text>
<line x1="106.2" y1="728.8" x2="109.9" y2="728.8" stroke="#555" stroke-width="0.8"/>
<text x="103.6" y="732.6" font-size="10.5" text-anchor="end" fill="#333">0.0</text>
<line x1="119.6" y1="699.2" x2="119.6" y2="712.9" stroke="#555" stroke-width="0.9"/>
<line x1="119.6" y1="722.3" x2="119.6" y2="728.8" stroke="#555" stroke-width="0.9"/>
<rect x="115.00" y="712.90" width="9.20" height="9.40" fill="#7CA796" stroke="#333" stroke-width="0.8"/>
<line x1="115.0" y1="717.6" x2="124.2" y2="717.6" stroke="#333" stroke-width="0.9"/>
<line x1="133.9" y1="696.1" x2="133.9" y2="710.8" stroke="#7a7a7a" stroke-width="0.9"/>
<line x1="133.9" y1="721.1" x2="133.9" y2="728.8" stroke="#7a7a7a" stroke-width="0.9"/>
<rect x="129.30" y="710.80" width="9.20" height="10.30" fill="#C98BB0" stroke="#333" stroke-width="0.8"/>
<line x1="129.3" y1="716.2" x2="138.5" y2="716.2" stroke="#333" stroke-width="0.9"/>
<text x="181.9" y="679.5" font-size="11" text-anchor="middle" fill="#1a1a1a" font-style="italic">Sycp1</text>
<text x="180.9" y="692.1" font-size="10.5" text-anchor="middle" fill="#1a1a1a" font-weight="bold">****</text>
<line x1="171.1" y1="692.8" x2="190.7" y2="692.8" stroke="#7c7c7c" stroke-width="1.3"/>
<line x1="164.5" y1="693.7" x2="164.5" y2="730.6" stroke="#3c3c3c" stroke-width="0.9"/>
<line x1="164.1" y1="730.2" x2="195.6" y2="730.2" stroke="#3c3c3c" stroke-width="1.25"/>
<line x1="160.8" y1="701.8" x2="164.5" y2="701.8" stroke="#555" stroke-width="0.8"/>
<text x="158.2" y="705.6" font-size="10.5" text-anchor="end" fill="#333">9</text>
<line x1="160.8" y1="710.4" x2="164.5" y2="710.4" stroke="#555" stroke-width="0.8"/>
<text x="158.2" y="714.2" font-size="10.5" text-anchor="end" fill="#333">6</text>
<line x1="160.8" y1="719.8" x2="164.5" y2="719.8" stroke="#555" stroke-width="0.8"/>
<text x="158.2" y="723.6" font-size="10.5" text-anchor="end" fill="#333">3</text>
<line x1="160.8" y1="728.8" x2="164.5" y2="728.8" stroke="#555" stroke-width="0.8"/>
<text x="158.2" y="732.6" font-size="10.5" text-anchor="end" fill="#333">0</text>
<line x1="172.9" y1="695.7" x2="172.9" y2="715.1" stroke="#555" stroke-width="0.9"/>
<line x1="172.9" y1="728.0" x2="172.9" y2="728.8" stroke="#555" stroke-width="0.9"/>
<rect x="168.60" y="715.10" width="8.60" height="12.90" fill="#7CA796" stroke="#333" stroke-width="0.8"/>
<line x1="168.6" y1="723.2" x2="177.2" y2="723.2" stroke="#333" stroke-width="0.9"/>
<line x1="187.0" y1="698.1" x2="187.0" y2="716.5" stroke="#7a7a7a" stroke-width="0.9"/>
<rect x="182.50" y="716.50" width="9.00" height="12.30" fill="#C98BB0" stroke="#333" stroke-width="0.8"/>
<line x1="182.5" y1="724.3" x2="191.5" y2="724.3" stroke="#333" stroke-width="0.9"/>
<text x="242.7" y="679.5" font-size="11" text-anchor="middle" fill="#1a1a1a" font-style="italic">Sycp2</text>
<text x="240.7" y="690.2" font-size="11" text-anchor="middle" fill="#1a1a1a">ns</text>
<line x1="230.9" y1="692.8" x2="250.4" y2="692.8" stroke="#7c7c7c" stroke-width="1.3"/>
<line x1="225.4" y1="693.7" x2="225.4" y2="730.6" stroke="#3c3c3c" stroke-width="0.9"/>
<line x1="225.0" y1="730.2" x2="257.5" y2="730.2" stroke="#3c3c3c" stroke-width="1.25"/>
<line x1="221.7" y1="694.6" x2="225.4" y2="694.6" stroke="#555" stroke-width="0.8"/>
<text x="219.1" y="698.4" font-size="10.5" text-anchor="end" fill="#333">3</text>
<line x1="221.7" y1="705.9" x2="225.4" y2="705.9" stroke="#555" stroke-width="0.8"/>
<text x="219.1" y="709.7" font-size="10.5" text-anchor="end" fill="#333">2</text>
<line x1="221.7" y1="717.1" x2="225.4" y2="717.1" stroke="#555" stroke-width="0.8"/>
<text x="219.1" y="720.9" font-size="10.5" text-anchor="end" fill="#333">1</text>
<line x1="221.7" y1="728.8" x2="225.4" y2="728.8" stroke="#555" stroke-width="0.8"/>
<text x="219.1" y="732.6" font-size="10.5" text-anchor="end" fill="#333">0</text>
<line x1="234.3" y1="695.7" x2="234.3" y2="715.1" stroke="#555" stroke-width="0.9"/>
<rect x="229.50" y="715.10" width="9.60" height="13.70" fill="#7CA796" stroke="#333" stroke-width="0.8"/>
<line x1="229.5" y1="728.4" x2="239.1" y2="728.4" stroke="#333" stroke-width="0.9"/>
<line x1="248.8" y1="696.1" x2="248.8" y2="715.7" stroke="#7a7a7a" stroke-width="0.9"/>
<rect x="244.20" y="715.70" width="9.20" height="13.10" fill="#C98BB0" stroke="#333" stroke-width="0.8"/>
<line x1="244.2" y1="725.9" x2="253.4" y2="725.9" stroke="#333" stroke-width="0.9"/>
<text x="303.0" y="679.5" font-size="11" text-anchor="middle" fill="#1a1a1a" font-style="italic">Sycp3</text>
<text x="301.9" y="692.1" font-size="10.5" text-anchor="middle" fill="#1a1a1a" font-weight="bold">****</text>
<line x1="291.7" y1="692.8" x2="312.1" y2="692.8" stroke="#7c7c7c" stroke-width="1.3"/>
<line x1="287.6" y1="693.7" x2="287.6" y2="730.6" stroke="#3c3c3c" stroke-width="0.9"/>
<line x1="287.2" y1="730.2" x2="319.3" y2="730.2" stroke="#3c3c3c" stroke-width="1.25"/>
<line x1="283.9" y1="701.4" x2="287.6" y2="701.4" stroke="#555" stroke-width="0.8"/>
<text x="281.3" y="705.2" font-size="10.5" text-anchor="end" fill="#333">9</text>
<line x1="283.9" y1="710.4" x2="287.6" y2="710.4" stroke="#555" stroke-width="0.8"/>
<text x="281.3" y="714.2" font-size="10.5" text-anchor="end" fill="#333">6</text>
<line x1="283.9" y1="719.8" x2="287.6" y2="719.8" stroke="#555" stroke-width="0.8"/>
<text x="281.3" y="723.6" font-size="10.5" text-anchor="end" fill="#333">3</text>
<line x1="283.9" y1="728.4" x2="287.6" y2="728.4" stroke="#555" stroke-width="0.8"/>
<text x="281.3" y="732.2" font-size="10.5" text-anchor="end" fill="#333">0</text>
<line x1="295.8" y1="704.2" x2="295.8" y2="718.5" stroke="#555" stroke-width="0.9"/>
<line x1="295.8" y1="728.0" x2="295.8" y2="728.4" stroke="#555" stroke-width="0.9"/>
<rect x="291.10" y="718.50" width="9.40" height="9.50" fill="#7CA796" stroke="#333" stroke-width="0.8"/>
<line x1="291.1" y1="725.3" x2="300.5" y2="725.3" stroke="#333" stroke-width="0.9"/>
<line x1="310.4" y1="695.7" x2="310.4" y2="715.1" stroke="#7a7a7a" stroke-width="0.9"/>
<line x1="310.4" y1="727.3" x2="310.4" y2="728.4" stroke="#7a7a7a" stroke-width="0.9"/>
<rect x="306.00" y="715.10" width="8.80" height="12.20" fill="#C98BB0" stroke="#333" stroke-width="0.8"/>
<line x1="306.0" y1="723.2" x2="314.8" y2="723.2" stroke="#333" stroke-width="0.9"/>
<text x="365.0" y="679.5" font-size="11" text-anchor="middle" fill="#1a1a1a" font-style="italic">Tex12</text>
<text x="362.9" y="692.1" font-size="10.5" text-anchor="middle" fill="#1a1a1a" font-weight="bold">****</text>
<line x1="353.0" y1="692.8" x2="372.8" y2="692.8" stroke="#7c7c7c" stroke-width="1.3"/>
<line x1="349.5" y1="693.7" x2="349.5" y2="730.6" stroke="#3c3c3c" stroke-width="0.9"/>
<line x1="349.1" y1="730.2" x2="380.6" y2="730.2" stroke="#3c3c3c" stroke-width="1.25"/>
<line x1="345.8" y1="698.7" x2="349.5" y2="698.7" stroke="#555" stroke-width="0.8"/>
<text x="343.2" y="702.5" font-size="10.5" text-anchor="end" fill="#333">6</text>
<line x1="345.8" y1="708.3" x2="349.5" y2="708.3" stroke="#555" stroke-width="0.8"/>
<text x="343.2" y="712.1" font-size="10.5" text-anchor="end" fill="#333">4</text>
<line x1="345.8" y1="718.5" x2="349.5" y2="718.5" stroke="#555" stroke-width="0.8"/>
<text x="343.2" y="722.3" font-size="10.5" text-anchor="end" fill="#333">2</text>
<line x1="345.8" y1="728.8" x2="349.5" y2="728.8" stroke="#555" stroke-width="0.8"/>
<text x="343.2" y="732.6" font-size="10.5" text-anchor="end" fill="#333">0</text>
<line x1="357.6" y1="704.2" x2="357.6" y2="719.2" stroke="#555" stroke-width="0.9"/>
<rect x="353.00" y="719.20" width="9.20" height="9.60" fill="#7CA796" stroke="#333" stroke-width="0.8"/>
<line x1="353.0" y1="725.9" x2="362.2" y2="725.9" stroke="#333" stroke-width="0.9"/>
<line x1="372.2" y1="695.7" x2="372.2" y2="715.1" stroke="#7a7a7a" stroke-width="0.9"/>
<line x1="372.2" y1="728.4" x2="372.2" y2="728.8" stroke="#7a7a7a" stroke-width="0.9"/>
<rect x="367.90" y="715.10" width="8.60" height="13.30" fill="#C98BB0" stroke="#333" stroke-width="0.8"/>
<line x1="367.9" y1="724.7" x2="376.5" y2="724.7" stroke="#333" stroke-width="0.9"/>
<text x="424.5" y="679.5" font-size="11" text-anchor="middle" fill="#1a1a1a" font-style="italic">Stag3</text>
<text x="423.7" y="692.1" font-size="10.5" text-anchor="middle" fill="#1a1a1a" font-weight="bold">****</text>
<line x1="413.5" y1="692.8" x2="433.9" y2="692.8" stroke="#7c7c7c" stroke-width="1.3"/>
<line x1="410.9" y1="693.7" x2="410.9" y2="730.6" stroke="#3c3c3c" stroke-width="0.9"/>
<line x1="410.5" y1="730.2" x2="442.4" y2="730.2" stroke="#3c3c3c" stroke-width="1.25"/>
<line x1="407.2" y1="702.8" x2="410.9" y2="702.8" stroke="#555" stroke-width="0.8"/>
<text x="404.6" y="706.6" font-size="10.5" text-anchor="end" fill="#333">6</text>
<line x1="407.2" y1="711.3" x2="410.9" y2="711.3" stroke="#555" stroke-width="0.8"/>
<text x="404.6" y="715.1" font-size="10.5" text-anchor="end" fill="#333">4</text>
<line x1="407.2" y1="720.2" x2="410.9" y2="720.2" stroke="#555" stroke-width="0.8"/>
<text x="404.6" y="724.0" font-size="10.5" text-anchor="end" fill="#333">2</text>
<line x1="407.2" y1="729.4" x2="410.9" y2="729.4" stroke="#555" stroke-width="0.8"/>
<text x="404.6" y="733.2" font-size="10.5" text-anchor="end" fill="#333">0</text>
<line x1="419.4" y1="695.9" x2="419.4" y2="712.3" stroke="#555" stroke-width="0.9"/>
<line x1="419.4" y1="723.9" x2="419.4" y2="729.4" stroke="#555" stroke-width="0.9"/>
<rect x="415.20" y="712.30" width="8.40" height="11.60" fill="#7CA796" stroke="#333" stroke-width="0.8"/>
<line x1="415.2" y1="718.2" x2="423.6" y2="718.2" stroke="#333" stroke-width="0.9"/>
<line x1="434.1" y1="699.2" x2="434.1" y2="714.7" stroke="#7a7a7a" stroke-width="0.9"/>
<line x1="434.1" y1="725.2" x2="434.1" y2="729.4" stroke="#7a7a7a" stroke-width="0.9"/>
<rect x="429.70" y="714.70" width="8.80" height="10.50" fill="#C98BB0" stroke="#333" stroke-width="0.8"/>
<line x1="429.7" y1="720.2" x2="438.5" y2="720.2" stroke="#333" stroke-width="0.9"/>
<text x="56.8" y="742.3" font-size="11" text-anchor="middle" fill="#1a1a1a" font-style="italic">Rec8</text>
<text x="56.6" y="755.5" font-size="10.5" text-anchor="middle" fill="#1a1a1a" font-weight="bold">****</text>
<line x1="46.6" y1="756.2" x2="66.6" y2="756.2" stroke="#7c7c7c" stroke-width="1.3"/>
<line x1="40.4" y1="757.5" x2="40.4" y2="796.4" stroke="#3c3c3c" stroke-width="0.9"/>
<line x1="40.0" y1="796.0" x2="72.0" y2="796.0" stroke="#3c3c3c" stroke-width="1.25"/>
<line x1="36.7" y1="760.3" x2="40.4" y2="760.3" stroke="#555" stroke-width="0.8"/>
<text x="34.1" y="764.1" font-size="10.5" text-anchor="end" fill="#333">5</text>
<line x1="36.7" y1="767.9" x2="40.4" y2="767.9" stroke="#555" stroke-width="0.8"/>
<text x="34.1" y="771.7" font-size="10.5" text-anchor="end" fill="#333">4</text>
<line x1="36.7" y1="774.6" x2="40.4" y2="774.6" stroke="#555" stroke-width="0.8"/>
<text x="34.1" y="778.4" font-size="10.5" text-anchor="end" fill="#333">3</text>
<line x1="36.7" y1="781.5" x2="40.4" y2="781.5" stroke="#555" stroke-width="0.8"/>
<text x="34.1" y="785.3" font-size="10.5" text-anchor="end" fill="#333">2</text>
<line x1="36.7" y1="787.7" x2="40.4" y2="787.7" stroke="#555" stroke-width="0.8"/>
<text x="34.1" y="791.5" font-size="10.5" text-anchor="end" fill="#333">1</text>
<line x1="36.7" y1="794.4" x2="40.4" y2="794.4" stroke="#555" stroke-width="0.8"/>
<text x="34.1" y="798.2" font-size="10.5" text-anchor="end" fill="#333">0</text>
<line x1="49.3" y1="760.7" x2="49.3" y2="780.1" stroke="#555" stroke-width="0.9"/>
<line x1="49.3" y1="793.0" x2="49.3" y2="794.4" stroke="#555" stroke-width="0.9"/>
<rect x="44.90" y="780.10" width="8.80" height="12.90" fill="#7CA796" stroke="#333" stroke-width="0.8"/>
<line x1="44.9" y1="787.3" x2="53.7" y2="787.3" stroke="#333" stroke-width="0.9"/>
<line x1="63.9" y1="763.2" x2="63.9" y2="781.5" stroke="#7a7a7a" stroke-width="0.9"/>
<line x1="63.9" y1="793.8" x2="63.9" y2="794.4" stroke="#7a7a7a" stroke-width="0.9"/>
<rect x="59.20" y="781.50" width="9.40" height="12.30" fill="#C98BB0" stroke="#333" stroke-width="0.8"/>
<line x1="59.2" y1="788.3" x2="68.6" y2="788.3" stroke="#333" stroke-width="0.9"/>
<text x="125.0" y="742.3" font-size="11" text-anchor="middle" fill="#1a1a1a" font-style="italic">Spdya</text>
<text x="126.0" y="753.6" font-size="11" text-anchor="middle" fill="#1a1a1a">ns</text>
<line x1="116.0" y1="756.2" x2="136.1" y2="756.2" stroke="#7c7c7c" stroke-width="1.3"/>
<line x1="106.9" y1="757.5" x2="106.9" y2="796.4" stroke="#3c3c3c" stroke-width="0.9"/>
<line x1="106.5" y1="796.0" x2="140.0" y2="796.0" stroke="#3c3c3c" stroke-width="1.25"/>
<line x1="103.2" y1="760.3" x2="106.9" y2="760.3" stroke="#555" stroke-width="0.8"/>
<text x="100.6" y="764.1" font-size="10.5" text-anchor="end" fill="#333">1.25</text>
<line x1="103.2" y1="766.8" x2="106.9" y2="766.8" stroke="#555" stroke-width="0.8"/>
<text x="100.6" y="770.6" font-size="10.5" text-anchor="end" fill="#333">1.00</text>
<line x1="103.2" y1="773.0" x2="106.9" y2="773.0" stroke="#555" stroke-width="0.8"/>
<text x="100.6" y="776.8" font-size="10.5" text-anchor="end" fill="#333">0.75</text>
<line x1="103.2" y1="781.5" x2="106.9" y2="781.5" stroke="#555" stroke-width="0.8"/>
<text x="100.6" y="785.3" font-size="10.5" text-anchor="end" fill="#333">0.50</text>
<line x1="103.2" y1="787.7" x2="106.9" y2="787.7" stroke="#555" stroke-width="0.8"/>
<text x="100.6" y="791.5" font-size="10.5" text-anchor="end" fill="#333">0.25</text>
<line x1="103.2" y1="793.8" x2="106.9" y2="793.8" stroke="#555" stroke-width="0.8"/>
<text x="100.6" y="797.6" font-size="10.5" text-anchor="end" fill="#333">0.00</text>
<line x1="119.1" y1="760.7" x2="119.1" y2="781.1" stroke="#555" stroke-width="0.9"/>
<rect x="114.40" y="781.10" width="9.40" height="13.30" fill="#7CA796" stroke="#333" stroke-width="0.8"/>
<line x1="114.4" y1="794.4" x2="123.8" y2="794.4" stroke="#333" stroke-width="0.9"/>
<line x1="133.4" y1="760.7" x2="133.4" y2="780.7" stroke="#7a7a7a" stroke-width="0.9"/>
<rect x="128.70" y="780.70" width="9.40" height="13.70" fill="#C98BB0" stroke="#333" stroke-width="0.8"/>
<line x1="128.7" y1="794.4" x2="138.1" y2="794.4" stroke="#333" stroke-width="0.9"/>
<text x="182.4" y="742.3" font-size="11" text-anchor="middle" fill="#1a1a1a" font-style="italic">Bag6</text>
<text x="181.6" y="755.5" font-size="10.5" text-anchor="middle" fill="#1a1a1a" font-weight="bold">****</text>
<line x1="171.7" y1="756.2" x2="191.5" y2="756.2" stroke="#7c7c7c" stroke-width="1.3"/>
<line x1="167.0" y1="757.5" x2="167.0" y2="796.4" stroke="#3c3c3c" stroke-width="0.9"/>
<line x1="166.6" y1="796.0" x2="198.9" y2="796.0" stroke="#3c3c3c" stroke-width="1.25"/>
<line x1="163.3" y1="761.1" x2="167.0" y2="761.1" stroke="#555" stroke-width="0.8"/>
<text x="160.7" y="764.9" font-size="10.5" text-anchor="end" fill="#333">2.0</text>
<line x1="163.3" y1="769.9" x2="167.0" y2="769.9" stroke="#555" stroke-width="0.8"/>
<text x="160.7" y="773.7" font-size="10.5" text-anchor="end" fill="#333">1.5</text>
<line x1="163.3" y1="778.1" x2="167.0" y2="778.1" stroke="#555" stroke-width="0.8"/>
<text x="160.7" y="781.9" font-size="10.5" text-anchor="end" fill="#333">1.0</text>
<line x1="163.3" y1="786.2" x2="167.0" y2="786.2" stroke="#555" stroke-width="0.8"/>
<text x="160.7" y="790.0" font-size="10.5" text-anchor="end" fill="#333">0.5</text>
<line x1="163.3" y1="793.8" x2="167.0" y2="793.8" stroke="#555" stroke-width="0.8"/>
<text x="160.7" y="797.6" font-size="10.5" text-anchor="end" fill="#333">0.0</text>
<line x1="176.3" y1="767.2" x2="176.3" y2="783.2" stroke="#555" stroke-width="0.9"/>
<rect x="171.70" y="783.20" width="9.20" height="10.60" fill="#7CA796" stroke="#333" stroke-width="0.8"/>
<line x1="171.7" y1="788.9" x2="180.9" y2="788.9" stroke="#333" stroke-width="0.9"/>
<line x1="190.6" y1="760.7" x2="190.6" y2="781.1" stroke="#7a7a7a" stroke-width="0.9"/>
<rect x="186.00" y="781.10" width="9.20" height="12.70" fill="#C98BB0" stroke="#333" stroke-width="0.8"/>
<line x1="186.0" y1="788.3" x2="195.2" y2="788.3" stroke="#333" stroke-width="0.9"/>
<text x="246.2" y="742.3" font-size="11" text-anchor="middle" fill="#1a1a1a" font-style="italic">Topaz1</text>
<text x="245.9" y="755.5" font-size="10.5" text-anchor="middle" fill="#1a1a1a" font-weight="bold">****</text>
<line x1="235.6" y1="756.2" x2="256.1" y2="756.2" stroke="#7c7c7c" stroke-width="1.3"/>
<line x1="228.3" y1="757.5" x2="228.3" y2="796.4" stroke="#3c3c3c" stroke-width="0.9"/>
<line x1="227.9" y1="796.0" x2="259.0" y2="796.0" stroke="#3c3c3c" stroke-width="1.25"/>
<line x1="224.6" y1="760.3" x2="228.3" y2="760.3" stroke="#555" stroke-width="0.8"/>
<text x="222.0" y="764.1" font-size="10.5" text-anchor="end" fill="#333">0.8</text>
<line x1="224.6" y1="768.9" x2="228.3" y2="768.9" stroke="#555" stroke-width="0.8"/>
<text x="222.0" y="772.7" font-size="10.5" text-anchor="end" fill="#333">0.6</text>
<line x1="224.6" y1="777.0" x2="228.3" y2="777.0" stroke="#555" stroke-width="0.8"/>
<text x="222.0" y="780.8" font-size="10.5" text-anchor="end" fill="#333">0.4</text>
<line x1="224.6" y1="785.6" x2="228.3" y2="785.6" stroke="#555" stroke-width="0.8"/>
<text x="222.0" y="789.4" font-size="10.5" text-anchor="end" fill="#333">0.2</text>
<line x1="224.6" y1="793.8" x2="228.3" y2="793.8" stroke="#555" stroke-width="0.8"/>
<text x="222.0" y="797.6" font-size="10.5" text-anchor="end" fill="#333">0.0</text>
<line x1="237.0" y1="760.7" x2="237.0" y2="781.1" stroke="#555" stroke-width="0.9"/>
<rect x="232.40" y="781.10" width="9.20" height="12.70" fill="#7CA796" stroke="#333" stroke-width="0.8"/>
<line x1="232.4" y1="793.8" x2="241.6" y2="793.8" stroke="#333" stroke-width="0.9"/>
<line x1="247.3" y1="793.8" x2="256.1" y2="793.8" stroke="#333" stroke-width="0.9"/>
<text x="304.0" y="742.3" font-size="11" text-anchor="middle" fill="#1a1a1a" font-style="italic">Setdb1</text>
<text x="303.9" y="755.5" font-size="10.5" text-anchor="middle" fill="#1a1a1a" font-weight="bold">****</text>
<line x1="293.7" y1="756.2" x2="314.2" y2="756.2" stroke="#7c7c7c" stroke-width="1.3"/>
<line x1="288.6" y1="757.5" x2="288.6" y2="796.4" stroke="#3c3c3c" stroke-width="0.9"/>
<line x1="288.2" y1="796.0" x2="319.3" y2="796.0" stroke="#3c3c3c" stroke-width="1.25"/>
<line x1="284.9" y1="769.9" x2="288.6" y2="769.9" stroke="#555" stroke-width="0.8"/>
<text x="282.3" y="773.7" font-size="10.5" text-anchor="end" fill="#333">4</text>
<line x1="284.9" y1="782.2" x2="288.6" y2="782.2" stroke="#555" stroke-width="0.8"/>
<text x="282.3" y="786.0" font-size="10.5" text-anchor="end" fill="#333">2</text>
<line x1="284.9" y1="794.4" x2="288.6" y2="794.4" stroke="#555" stroke-width="0.8"/>
<text x="282.3" y="798.2" font-size="10.5" text-anchor="end" fill="#333">0</text>
<line x1="297.1" y1="760.7" x2="297.1" y2="778.1" stroke="#555" stroke-width="0.9"/>
<line x1="297.1" y1="790.3" x2="297.1" y2="794.4" stroke="#555" stroke-width="0.9"/>
<rect x="292.30" y="778.10" width="9.60" height="12.20" fill="#7CA796" stroke="#333" stroke-width="0.8"/>
<line x1="292.3" y1="784.8" x2="301.9" y2="784.8" stroke="#333" stroke-width="0.9"/>
<line x1="312.1" y1="765.8" x2="312.1" y2="781.1" stroke="#7a7a7a" stroke-width="0.9"/>
<line x1="312.1" y1="791.4" x2="312.1" y2="794.4" stroke="#7a7a7a" stroke-width="0.9"/>
<rect x="307.40" y="781.10" width="9.40" height="10.30" fill="#C98BB0" stroke="#333" stroke-width="0.8"/>
<line x1="307.4" y1="787.3" x2="316.8" y2="787.3" stroke="#333" stroke-width="0.9"/>
<text x="364.0" y="742.3" font-size="11" text-anchor="middle" fill="#1a1a1a" font-style="italic">Terb2</text>
<text x="362.9" y="755.5" font-size="10.5" text-anchor="middle" fill="#1a1a1a" font-weight="bold">****</text>
<line x1="353.0" y1="756.2" x2="372.8" y2="756.2" stroke="#7c7c7c" stroke-width="1.3"/>
<line x1="348.3" y1="757.5" x2="348.3" y2="796.4" stroke="#3c3c3c" stroke-width="0.9"/>
<line x1="347.9" y1="796.0" x2="380.0" y2="796.0" stroke="#3c3c3c" stroke-width="1.25"/>
<line x1="344.6" y1="766.8" x2="348.3" y2="766.8" stroke="#555" stroke-width="0.8"/>
<text x="342.0" y="770.6" font-size="10.5" text-anchor="end" fill="#333">0.9</text>
<line x1="344.6" y1="776.6" x2="348.3" y2="776.6" stroke="#555" stroke-width="0.8"/>
<text x="342.0" y="780.4" font-size="10.5" text-anchor="end" fill="#333">0.6</text>
<line x1="344.6" y1="786.2" x2="348.3" y2="786.2" stroke="#555" stroke-width="0.8"/>
<text x="342.0" y="790.0" font-size="10.5" text-anchor="end" fill="#333">0.3</text>
<line x1="344.6" y1="793.8" x2="348.3" y2="793.8" stroke="#555" stroke-width="0.8"/>
<text x="342.0" y="797.6" font-size="10.5" text-anchor="end" fill="#333">0.0</text>
<line x1="357.1" y1="766.8" x2="357.1" y2="783.6" stroke="#555" stroke-width="0.9"/>
<rect x="352.40" y="783.60" width="9.40" height="10.80" fill="#7CA796" stroke="#333" stroke-width="0.8"/>
<line x1="352.4" y1="794.4" x2="361.8" y2="794.4" stroke="#333" stroke-width="0.9"/>
<line x1="372.4" y1="761.7" x2="372.4" y2="782.2" stroke="#7a7a7a" stroke-width="0.9"/>
<rect x="367.90" y="782.20" width="9.00" height="12.20" fill="#C98BB0" stroke="#333" stroke-width="0.8"/>
<line x1="367.9" y1="794.4" x2="376.9" y2="794.4" stroke="#333" stroke-width="0.9"/>
<text x="424.7" y="742.3" font-size="11" text-anchor="middle" fill="#1a1a1a" font-style="italic">Terb1</text>
<text x="425.0" y="755.5" font-size="10.5" text-anchor="middle" fill="#1a1a1a" font-weight="bold">**</text>
<line x1="414.8" y1="756.2" x2="435.2" y2="756.2" stroke="#7c7c7c" stroke-width="1.3"/>
<line x1="410.9" y1="757.5" x2="410.9" y2="796.4" stroke="#3c3c3c" stroke-width="0.9"/>
<line x1="410.5" y1="796.0" x2="442.4" y2="796.0" stroke="#3c3c3c" stroke-width="1.25"/>
<line x1="407.2" y1="768.1" x2="410.9" y2="768.1" stroke="#555" stroke-width="0.8"/>
<text x="404.6" y="771.9" font-size="10.5" text-anchor="end" fill="#333">1.0</text>
<line x1="407.2" y1="781.6" x2="410.9" y2="781.6" stroke="#555" stroke-width="0.8"/>
<text x="404.6" y="785.4" font-size="10.5" text-anchor="end" fill="#333">0.5</text>
<line x1="407.2" y1="794.4" x2="410.9" y2="794.4" stroke="#555" stroke-width="0.8"/>
<text x="404.6" y="798.2" font-size="10.5" text-anchor="end" fill="#333">0.0</text>
<line x1="419.4" y1="766.8" x2="419.4" y2="783.5" stroke="#555" stroke-width="0.9"/>
<rect x="415.20" y="783.50" width="8.40" height="10.90" fill="#7CA796" stroke="#333" stroke-width="0.8"/>
<line x1="415.2" y1="794.4" x2="423.6" y2="794.4" stroke="#333" stroke-width="0.9"/>
<line x1="434.1" y1="761.1" x2="434.1" y2="781.2" stroke="#7a7a7a" stroke-width="0.9"/>
<rect x="429.70" y="781.20" width="8.80" height="13.20" fill="#C98BB0" stroke="#333" stroke-width="0.8"/>
<line x1="429.7" y1="794.4" x2="438.5" y2="794.4" stroke="#333" stroke-width="0.9"/>
</svg></body></html>
